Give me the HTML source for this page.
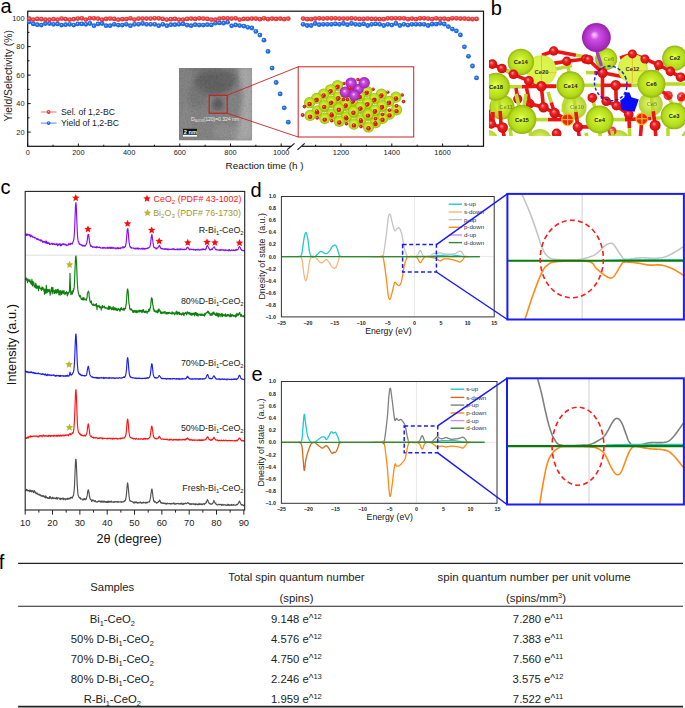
<!DOCTYPE html><html><head><meta charset="utf-8"><style>html,body{margin:0;padding:0;background:#fff;}svg{display:block;}text{font-family:"Liberation Sans", sans-serif;}</style></head><body>
<svg width="685" height="708" viewBox="0 0 685 708">
<rect width="685" height="708" fill="#fff"/>
<defs>
<radialGradient id="gR" cx="0.5" cy="0.5" r="0.5" fx="0.42" fy="0.38"><stop offset="0" stop-color="#ffd0d0"/><stop offset="0.35" stop-color="#f04848"/><stop offset="1" stop-color="#e02c30"/></radialGradient>
<radialGradient id="gB" cx="0.5" cy="0.5" r="0.5" fx="0.42" fy="0.38"><stop offset="0" stop-color="#d0e4ff"/><stop offset="0.35" stop-color="#2a78e8"/><stop offset="1" stop-color="#1660d8"/></radialGradient>
<radialGradient id="gCe" cx="0.5" cy="0.5" r="0.5" fx="0.47" fy="0.45"><stop offset="0" stop-color="#e8ff58"/><stop offset="0.35" stop-color="#c8ee2a"/><stop offset="0.8" stop-color="#b2d81a"/><stop offset="1" stop-color="#90b20c"/></radialGradient><radialGradient id="gCeB" cx="0.5" cy="0.5" r="0.5" fx="0.47" fy="0.45"><stop offset="0" stop-color="#ecff80"/><stop offset="0.5" stop-color="#cce850"/><stop offset="1" stop-color="#b0d030"/></radialGradient>
<radialGradient id="gCeP" cx="0.5" cy="0.5" r="0.5"><stop offset="0" stop-color="#e0f652"/><stop offset="0.9" stop-color="#d8f24a"/><stop offset="1" stop-color="#c8e83c"/></radialGradient>
<radialGradient id="gO" cx="0.5" cy="0.5" r="0.5" fx="0.38" fy="0.33"><stop offset="0" stop-color="#ffa0a0"/><stop offset="0.4" stop-color="#f02424"/><stop offset="1" stop-color="#cc0a0a"/></radialGradient>
<radialGradient id="gOl" cx="0.5" cy="0.5" r="0.5" fx="0.38" fy="0.33"><stop offset="0" stop-color="#ffc0c0"/><stop offset="0.4" stop-color="#f05050"/><stop offset="1" stop-color="#d83030"/></radialGradient>
<radialGradient id="gBi" cx="0.5" cy="0.5" r="0.5" fx="0.42" fy="0.4"><stop offset="0" stop-color="#ffe0ff"/><stop offset="0.3" stop-color="#d050e8"/><stop offset="1" stop-color="#9a20b0"/></radialGradient>
<radialGradient id="gTEM" cx="0.45" cy="0.35" r="0.6"><stop offset="0" stop-color="#5a5a5a"/><stop offset="0.5" stop-color="#6e6e6e"/><stop offset="1" stop-color="#888"/></radialGradient>
<filter id="noiseF" x="0" y="0" width="100%" height="100%"><feTurbulence type="fractalNoise" baseFrequency="0.55" numOctaves="2" seed="4"/><feColorMatrix type="matrix" values="1 0 0 0 0  1 0 0 0 0  1 0 0 0 0  0 0 0 0 1"/></filter>
<filter id="blur1"><feGaussianBlur stdDeviation="2.5"/></filter>
<filter id="blur2"><feGaussianBlur stdDeviation="1.2"/></filter>
<clipPath id="clipA"><rect x="27.7" y="11.2" width="455.8" height="135.1"/></clipPath>
<clipPath id="clipB"><rect x="489" y="40" width="196" height="96"/></clipPath>
<clipPath id="clipDz"><rect x="507.4" y="193.9" width="176.5" height="125.6"/></clipPath>
<clipPath id="clipEz"><rect x="507" y="378.3" width="176.9" height="126.2"/></clipPath>
<clipPath id="clipTEM"><rect x="178.9" y="67.9" width="73.2" height="72.5"/></clipPath>
</defs>
<text x="0.40" y="12.70" font-size="20" text-anchor="start" fill="#000" font-weight="normal" >a</text>
<rect x="27.7" y="11.2" width="455.8" height="135.10000000000002" fill="none" stroke="#111" stroke-width="1.2"/>
<rect x="291.3" y="144.8" width="10.6" height="3" fill="#fff"/>
<line x1="287.20" y1="149.70" x2="294.50" y2="143.30" stroke="#111" stroke-width="1.1" />
<line x1="297.40" y1="149.90" x2="304.70" y2="143.30" stroke="#111" stroke-width="1.1" />
<line x1="27.70" y1="132.10" x2="30.70" y2="132.10" stroke="#111" stroke-width="1" />
<line x1="27.70" y1="117.85" x2="29.50" y2="117.85" stroke="#111" stroke-width="1" />
<line x1="27.70" y1="103.60" x2="30.70" y2="103.60" stroke="#111" stroke-width="1" />
<line x1="27.70" y1="89.35" x2="29.50" y2="89.35" stroke="#111" stroke-width="1" />
<line x1="27.70" y1="75.10" x2="30.70" y2="75.10" stroke="#111" stroke-width="1" />
<line x1="27.70" y1="60.85" x2="29.50" y2="60.85" stroke="#111" stroke-width="1" />
<line x1="27.70" y1="46.60" x2="30.70" y2="46.60" stroke="#111" stroke-width="1" />
<line x1="27.70" y1="32.35" x2="29.50" y2="32.35" stroke="#111" stroke-width="1" />
<line x1="27.70" y1="18.10" x2="30.70" y2="18.10" stroke="#111" stroke-width="1" />
<text x="24.60" y="134.70" font-size="7.4" text-anchor="end" fill="#222" font-weight="normal" >20</text>
<text x="24.60" y="106.20" font-size="7.4" text-anchor="end" fill="#222" font-weight="normal" >40</text>
<text x="24.60" y="77.70" font-size="7.4" text-anchor="end" fill="#222" font-weight="normal" >60</text>
<text x="24.60" y="49.20" font-size="7.4" text-anchor="end" fill="#222" font-weight="normal" >80</text>
<text x="24.60" y="20.70" font-size="7.4" text-anchor="end" fill="#222" font-weight="normal" >100</text>
<line x1="27.70" y1="146.30" x2="27.70" y2="143.50" stroke="#111" stroke-width="1" />
<line x1="53.05" y1="146.30" x2="53.05" y2="144.70" stroke="#111" stroke-width="1" />
<line x1="78.40" y1="146.30" x2="78.40" y2="143.50" stroke="#111" stroke-width="1" />
<line x1="103.75" y1="146.30" x2="103.75" y2="144.70" stroke="#111" stroke-width="1" />
<line x1="129.10" y1="146.30" x2="129.10" y2="143.50" stroke="#111" stroke-width="1" />
<line x1="154.45" y1="146.30" x2="154.45" y2="144.70" stroke="#111" stroke-width="1" />
<line x1="179.80" y1="146.30" x2="179.80" y2="143.50" stroke="#111" stroke-width="1" />
<line x1="205.15" y1="146.30" x2="205.15" y2="144.70" stroke="#111" stroke-width="1" />
<line x1="230.50" y1="146.30" x2="230.50" y2="143.50" stroke="#111" stroke-width="1" />
<line x1="255.85" y1="146.30" x2="255.85" y2="144.70" stroke="#111" stroke-width="1" />
<line x1="281.20" y1="146.30" x2="281.20" y2="143.50" stroke="#111" stroke-width="1" />
<text x="27.70" y="155.40" font-size="7.4" text-anchor="middle" fill="#222" font-weight="normal" >0</text>
<text x="78.40" y="155.40" font-size="7.4" text-anchor="middle" fill="#222" font-weight="normal" >200</text>
<text x="129.10" y="155.40" font-size="7.4" text-anchor="middle" fill="#222" font-weight="normal" >400</text>
<text x="179.80" y="155.40" font-size="7.4" text-anchor="middle" fill="#222" font-weight="normal" >600</text>
<text x="230.50" y="155.40" font-size="7.4" text-anchor="middle" fill="#222" font-weight="normal" >800</text>
<text x="281.20" y="155.40" font-size="7.4" text-anchor="middle" fill="#222" font-weight="normal" >1000</text>
<line x1="315.60" y1="146.30" x2="315.60" y2="144.70" stroke="#111" stroke-width="1" />
<line x1="341.00" y1="146.30" x2="341.00" y2="143.50" stroke="#111" stroke-width="1" />
<line x1="366.40" y1="146.30" x2="366.40" y2="144.70" stroke="#111" stroke-width="1" />
<line x1="391.80" y1="146.30" x2="391.80" y2="143.50" stroke="#111" stroke-width="1" />
<line x1="417.20" y1="146.30" x2="417.20" y2="144.70" stroke="#111" stroke-width="1" />
<line x1="442.60" y1="146.30" x2="442.60" y2="143.50" stroke="#111" stroke-width="1" />
<line x1="468.00" y1="146.30" x2="468.00" y2="144.70" stroke="#111" stroke-width="1" />
<text x="341.00" y="155.40" font-size="7.4" text-anchor="middle" fill="#222" font-weight="normal" >1200</text>
<text x="391.80" y="155.40" font-size="7.4" text-anchor="middle" fill="#222" font-weight="normal" >1400</text>
<text x="442.60" y="155.40" font-size="7.4" text-anchor="middle" fill="#222" font-weight="normal" >1600</text>
<text x="225.60" y="168.80" font-size="9.9" text-anchor="start" fill="#111" font-weight="normal" xml:space="preserve">Reaction time (h )</text>
<text x="12.40" y="75.80" font-size="10.4" text-anchor="middle" fill="#222" font-weight="normal" transform="rotate(-90 12.4 75.8)">Yield/Selectivity (%)</text>
<line x1="40.80" y1="112.00" x2="56.60" y2="112.00" stroke="#f07070" stroke-width="1" />
<circle cx="48.6" cy="112" r="1.9" fill="url(#gR)"/>
<text x="61.00" y="114.90" font-size="8.7" text-anchor="start" fill="#222" font-weight="normal" >Sel. of 1,2-BC</text>
<line x1="40.80" y1="123.10" x2="56.60" y2="123.10" stroke="#4a8ae8" stroke-width="1" />
<circle cx="48.6" cy="123.1" r="1.9" fill="url(#gB)"/>
<text x="61.00" y="126.00" font-size="8.7" text-anchor="start" fill="#222" font-weight="normal" >Yield of 1,2-BC</text>
<circle cx="29.20" cy="21.90" r="2.4" fill="url(#gB)"/>
<circle cx="33.25" cy="23.90" r="2.4" fill="url(#gB)"/>
<circle cx="37.30" cy="24.70" r="2.4" fill="url(#gB)"/>
<circle cx="41.34" cy="25.10" r="2.4" fill="url(#gB)"/>
<circle cx="45.39" cy="23.50" r="2.4" fill="url(#gB)"/>
<circle cx="49.44" cy="23.50" r="2.4" fill="url(#gB)"/>
<circle cx="53.49" cy="24.30" r="2.4" fill="url(#gB)"/>
<circle cx="57.54" cy="23.90" r="2.4" fill="url(#gB)"/>
<circle cx="61.58" cy="25.10" r="2.4" fill="url(#gB)"/>
<circle cx="65.63" cy="24.70" r="2.4" fill="url(#gB)"/>
<circle cx="69.68" cy="24.30" r="2.4" fill="url(#gB)"/>
<circle cx="73.73" cy="25.10" r="2.4" fill="url(#gB)"/>
<circle cx="77.78" cy="23.90" r="2.4" fill="url(#gB)"/>
<circle cx="81.82" cy="23.90" r="2.4" fill="url(#gB)"/>
<circle cx="85.87" cy="24.30" r="2.4" fill="url(#gB)"/>
<circle cx="89.92" cy="23.50" r="2.4" fill="url(#gB)"/>
<circle cx="93.97" cy="25.70" r="2.4" fill="url(#gB)"/>
<circle cx="98.02" cy="23.90" r="2.4" fill="url(#gB)"/>
<circle cx="102.06" cy="23.50" r="2.4" fill="url(#gB)"/>
<circle cx="106.11" cy="25.70" r="2.4" fill="url(#gB)"/>
<circle cx="110.16" cy="25.70" r="2.4" fill="url(#gB)"/>
<circle cx="114.21" cy="24.30" r="2.4" fill="url(#gB)"/>
<circle cx="118.26" cy="25.10" r="2.4" fill="url(#gB)"/>
<circle cx="122.30" cy="25.10" r="2.4" fill="url(#gB)"/>
<circle cx="126.35" cy="24.30" r="2.4" fill="url(#gB)"/>
<circle cx="130.40" cy="25.70" r="2.4" fill="url(#gB)"/>
<circle cx="134.45" cy="24.30" r="2.4" fill="url(#gB)"/>
<circle cx="138.50" cy="24.30" r="2.4" fill="url(#gB)"/>
<circle cx="142.54" cy="23.50" r="2.4" fill="url(#gB)"/>
<circle cx="146.59" cy="24.30" r="2.4" fill="url(#gB)"/>
<circle cx="150.64" cy="24.30" r="2.4" fill="url(#gB)"/>
<circle cx="154.69" cy="24.30" r="2.4" fill="url(#gB)"/>
<circle cx="158.74" cy="25.70" r="2.4" fill="url(#gB)"/>
<circle cx="162.78" cy="24.30" r="2.4" fill="url(#gB)"/>
<circle cx="166.83" cy="25.70" r="2.4" fill="url(#gB)"/>
<circle cx="170.88" cy="24.70" r="2.4" fill="url(#gB)"/>
<circle cx="174.93" cy="24.70" r="2.4" fill="url(#gB)"/>
<circle cx="178.98" cy="24.30" r="2.4" fill="url(#gB)"/>
<circle cx="183.02" cy="23.90" r="2.4" fill="url(#gB)"/>
<circle cx="187.07" cy="25.10" r="2.4" fill="url(#gB)"/>
<circle cx="191.12" cy="25.70" r="2.4" fill="url(#gB)"/>
<circle cx="195.17" cy="24.70" r="2.4" fill="url(#gB)"/>
<circle cx="199.22" cy="25.10" r="2.4" fill="url(#gB)"/>
<circle cx="203.26" cy="25.10" r="2.4" fill="url(#gB)"/>
<circle cx="207.31" cy="24.70" r="2.4" fill="url(#gB)"/>
<circle cx="211.36" cy="24.90" r="2.4" fill="url(#gB)"/>
<circle cx="215.41" cy="23.20" r="2.4" fill="url(#gB)"/>
<circle cx="219.46" cy="22.90" r="2.4" fill="url(#gB)"/>
<circle cx="223.50" cy="23.20" r="2.4" fill="url(#gB)"/>
<circle cx="227.55" cy="22.20" r="2.4" fill="url(#gB)"/>
<circle cx="231.60" cy="25.80" r="2.4" fill="url(#gB)"/>
<circle cx="235.65" cy="24.90" r="2.4" fill="url(#gB)"/>
<circle cx="239.70" cy="25.60" r="2.4" fill="url(#gB)"/>
<circle cx="243.74" cy="26.10" r="2.4" fill="url(#gB)"/>
<circle cx="247.79" cy="27.30" r="2.4" fill="url(#gB)"/>
<circle cx="251.84" cy="28.00" r="2.4" fill="url(#gB)"/>
<circle cx="255.89" cy="31.40" r="2.4" fill="url(#gB)"/>
<circle cx="259.94" cy="35.10" r="2.4" fill="url(#gB)"/>
<circle cx="263.98" cy="40.20" r="2.4" fill="url(#gB)"/>
<circle cx="268.03" cy="51.40" r="2.4" fill="url(#gB)"/>
<circle cx="272.08" cy="68.10" r="2.4" fill="url(#gB)"/>
<circle cx="276.13" cy="82.50" r="2.4" fill="url(#gB)"/>
<circle cx="280.18" cy="93.90" r="2.4" fill="url(#gB)"/>
<circle cx="284.22" cy="107.80" r="2.4" fill="url(#gB)"/>
<circle cx="288.27" cy="122.20" r="2.4" fill="url(#gB)"/>
<circle cx="303.10" cy="24.30" r="2.4" fill="url(#gB)"/>
<circle cx="307.13" cy="25.50" r="2.4" fill="url(#gB)"/>
<circle cx="311.17" cy="25.50" r="2.4" fill="url(#gB)"/>
<circle cx="315.20" cy="23.50" r="2.4" fill="url(#gB)"/>
<circle cx="319.23" cy="24.70" r="2.4" fill="url(#gB)"/>
<circle cx="323.27" cy="24.30" r="2.4" fill="url(#gB)"/>
<circle cx="327.30" cy="24.30" r="2.4" fill="url(#gB)"/>
<circle cx="331.33" cy="24.30" r="2.4" fill="url(#gB)"/>
<circle cx="335.36" cy="23.90" r="2.4" fill="url(#gB)"/>
<circle cx="339.40" cy="24.30" r="2.4" fill="url(#gB)"/>
<circle cx="343.43" cy="23.50" r="2.4" fill="url(#gB)"/>
<circle cx="347.46" cy="24.70" r="2.4" fill="url(#gB)"/>
<circle cx="351.50" cy="23.50" r="2.4" fill="url(#gB)"/>
<circle cx="355.53" cy="24.30" r="2.4" fill="url(#gB)"/>
<circle cx="359.56" cy="24.70" r="2.4" fill="url(#gB)"/>
<circle cx="363.60" cy="23.90" r="2.4" fill="url(#gB)"/>
<circle cx="367.63" cy="25.50" r="2.4" fill="url(#gB)"/>
<circle cx="371.66" cy="24.30" r="2.4" fill="url(#gB)"/>
<circle cx="375.69" cy="23.90" r="2.4" fill="url(#gB)"/>
<circle cx="379.73" cy="24.30" r="2.4" fill="url(#gB)"/>
<circle cx="383.76" cy="25.50" r="2.4" fill="url(#gB)"/>
<circle cx="387.79" cy="24.30" r="2.4" fill="url(#gB)"/>
<circle cx="391.83" cy="25.10" r="2.4" fill="url(#gB)"/>
<circle cx="395.86" cy="23.50" r="2.4" fill="url(#gB)"/>
<circle cx="399.89" cy="25.50" r="2.4" fill="url(#gB)"/>
<circle cx="403.93" cy="24.30" r="2.4" fill="url(#gB)"/>
<circle cx="407.96" cy="25.10" r="2.4" fill="url(#gB)"/>
<circle cx="411.99" cy="24.30" r="2.4" fill="url(#gB)"/>
<circle cx="416.02" cy="24.30" r="2.4" fill="url(#gB)"/>
<circle cx="420.06" cy="24.30" r="2.4" fill="url(#gB)"/>
<circle cx="424.09" cy="24.30" r="2.4" fill="url(#gB)"/>
<circle cx="428.12" cy="25.50" r="2.4" fill="url(#gB)"/>
<circle cx="432.16" cy="24.20" r="2.4" fill="url(#gB)"/>
<circle cx="436.19" cy="24.20" r="2.4" fill="url(#gB)"/>
<circle cx="440.22" cy="23.30" r="2.4" fill="url(#gB)"/>
<circle cx="444.25" cy="24.00" r="2.4" fill="url(#gB)"/>
<circle cx="448.29" cy="26.60" r="2.4" fill="url(#gB)"/>
<circle cx="452.32" cy="29.10" r="2.4" fill="url(#gB)"/>
<circle cx="456.35" cy="30.90" r="2.4" fill="url(#gB)"/>
<circle cx="460.39" cy="34.90" r="2.4" fill="url(#gB)"/>
<circle cx="464.42" cy="46.80" r="2.4" fill="url(#gB)"/>
<circle cx="468.45" cy="56.30" r="2.4" fill="url(#gB)"/>
<circle cx="472.49" cy="66.00" r="2.4" fill="url(#gB)"/>
<circle cx="476.52" cy="77.90" r="2.4" fill="url(#gB)"/>
<circle cx="29.20" cy="18.60" r="2.4" fill="url(#gR)"/>
<circle cx="33.25" cy="19.60" r="2.4" fill="url(#gR)"/>
<circle cx="37.30" cy="18.90" r="2.4" fill="url(#gR)"/>
<circle cx="41.34" cy="19.20" r="2.4" fill="url(#gR)"/>
<circle cx="45.39" cy="19.60" r="2.4" fill="url(#gR)"/>
<circle cx="49.44" cy="19.60" r="2.4" fill="url(#gR)"/>
<circle cx="53.49" cy="19.20" r="2.4" fill="url(#gR)"/>
<circle cx="57.54" cy="19.60" r="2.4" fill="url(#gR)"/>
<circle cx="61.58" cy="18.60" r="2.4" fill="url(#gR)"/>
<circle cx="65.63" cy="19.20" r="2.4" fill="url(#gR)"/>
<circle cx="69.68" cy="19.60" r="2.4" fill="url(#gR)"/>
<circle cx="73.73" cy="19.20" r="2.4" fill="url(#gR)"/>
<circle cx="77.78" cy="18.60" r="2.4" fill="url(#gR)"/>
<circle cx="81.82" cy="18.30" r="2.4" fill="url(#gR)"/>
<circle cx="85.87" cy="19.60" r="2.4" fill="url(#gR)"/>
<circle cx="89.92" cy="18.30" r="2.4" fill="url(#gR)"/>
<circle cx="93.97" cy="18.30" r="2.4" fill="url(#gR)"/>
<circle cx="98.02" cy="18.60" r="2.4" fill="url(#gR)"/>
<circle cx="102.06" cy="19.60" r="2.4" fill="url(#gR)"/>
<circle cx="106.11" cy="18.90" r="2.4" fill="url(#gR)"/>
<circle cx="110.16" cy="18.60" r="2.4" fill="url(#gR)"/>
<circle cx="114.21" cy="18.90" r="2.4" fill="url(#gR)"/>
<circle cx="118.26" cy="19.60" r="2.4" fill="url(#gR)"/>
<circle cx="122.30" cy="19.20" r="2.4" fill="url(#gR)"/>
<circle cx="126.35" cy="19.20" r="2.4" fill="url(#gR)"/>
<circle cx="130.40" cy="18.30" r="2.4" fill="url(#gR)"/>
<circle cx="134.45" cy="19.60" r="2.4" fill="url(#gR)"/>
<circle cx="138.50" cy="18.60" r="2.4" fill="url(#gR)"/>
<circle cx="142.54" cy="18.60" r="2.4" fill="url(#gR)"/>
<circle cx="146.59" cy="18.60" r="2.4" fill="url(#gR)"/>
<circle cx="150.64" cy="18.60" r="2.4" fill="url(#gR)"/>
<circle cx="154.69" cy="18.30" r="2.4" fill="url(#gR)"/>
<circle cx="158.74" cy="18.30" r="2.4" fill="url(#gR)"/>
<circle cx="162.78" cy="18.90" r="2.4" fill="url(#gR)"/>
<circle cx="166.83" cy="19.60" r="2.4" fill="url(#gR)"/>
<circle cx="170.88" cy="19.20" r="2.4" fill="url(#gR)"/>
<circle cx="174.93" cy="18.90" r="2.4" fill="url(#gR)"/>
<circle cx="178.98" cy="19.60" r="2.4" fill="url(#gR)"/>
<circle cx="183.02" cy="19.60" r="2.4" fill="url(#gR)"/>
<circle cx="187.07" cy="18.90" r="2.4" fill="url(#gR)"/>
<circle cx="191.12" cy="18.60" r="2.4" fill="url(#gR)"/>
<circle cx="195.17" cy="18.90" r="2.4" fill="url(#gR)"/>
<circle cx="199.22" cy="18.30" r="2.4" fill="url(#gR)"/>
<circle cx="203.26" cy="18.60" r="2.4" fill="url(#gR)"/>
<circle cx="207.31" cy="18.90" r="2.4" fill="url(#gR)"/>
<circle cx="211.36" cy="19.60" r="2.4" fill="url(#gR)"/>
<circle cx="215.41" cy="19.60" r="2.4" fill="url(#gR)"/>
<circle cx="219.46" cy="18.60" r="2.4" fill="url(#gR)"/>
<circle cx="223.50" cy="18.30" r="2.4" fill="url(#gR)"/>
<circle cx="227.55" cy="18.30" r="2.4" fill="url(#gR)"/>
<circle cx="231.60" cy="18.60" r="2.4" fill="url(#gR)"/>
<circle cx="235.65" cy="18.30" r="2.4" fill="url(#gR)"/>
<circle cx="239.70" cy="19.60" r="2.4" fill="url(#gR)"/>
<circle cx="243.74" cy="18.90" r="2.4" fill="url(#gR)"/>
<circle cx="247.79" cy="18.90" r="2.4" fill="url(#gR)"/>
<circle cx="251.84" cy="18.60" r="2.4" fill="url(#gR)"/>
<circle cx="255.89" cy="18.60" r="2.4" fill="url(#gR)"/>
<circle cx="259.94" cy="19.20" r="2.4" fill="url(#gR)"/>
<circle cx="263.98" cy="18.30" r="2.4" fill="url(#gR)"/>
<circle cx="268.03" cy="19.20" r="2.4" fill="url(#gR)"/>
<circle cx="272.08" cy="18.60" r="2.4" fill="url(#gR)"/>
<circle cx="276.13" cy="18.90" r="2.4" fill="url(#gR)"/>
<circle cx="280.18" cy="18.60" r="2.4" fill="url(#gR)"/>
<circle cx="284.22" cy="19.20" r="2.4" fill="url(#gR)"/>
<circle cx="288.27" cy="18.60" r="2.4" fill="url(#gR)"/>
<circle cx="303.10" cy="18.60" r="2.4" fill="url(#gR)"/>
<circle cx="307.13" cy="19.20" r="2.4" fill="url(#gR)"/>
<circle cx="311.17" cy="19.20" r="2.4" fill="url(#gR)"/>
<circle cx="315.20" cy="18.60" r="2.4" fill="url(#gR)"/>
<circle cx="319.23" cy="18.30" r="2.4" fill="url(#gR)"/>
<circle cx="323.27" cy="18.60" r="2.4" fill="url(#gR)"/>
<circle cx="327.30" cy="18.30" r="2.4" fill="url(#gR)"/>
<circle cx="331.33" cy="18.30" r="2.4" fill="url(#gR)"/>
<circle cx="335.36" cy="18.30" r="2.4" fill="url(#gR)"/>
<circle cx="339.40" cy="18.60" r="2.4" fill="url(#gR)"/>
<circle cx="343.43" cy="18.60" r="2.4" fill="url(#gR)"/>
<circle cx="347.46" cy="18.60" r="2.4" fill="url(#gR)"/>
<circle cx="351.50" cy="18.30" r="2.4" fill="url(#gR)"/>
<circle cx="355.53" cy="18.60" r="2.4" fill="url(#gR)"/>
<circle cx="359.56" cy="18.90" r="2.4" fill="url(#gR)"/>
<circle cx="363.60" cy="18.90" r="2.4" fill="url(#gR)"/>
<circle cx="367.63" cy="18.60" r="2.4" fill="url(#gR)"/>
<circle cx="371.66" cy="18.90" r="2.4" fill="url(#gR)"/>
<circle cx="375.69" cy="18.90" r="2.4" fill="url(#gR)"/>
<circle cx="379.73" cy="19.20" r="2.4" fill="url(#gR)"/>
<circle cx="383.76" cy="19.20" r="2.4" fill="url(#gR)"/>
<circle cx="387.79" cy="18.30" r="2.4" fill="url(#gR)"/>
<circle cx="391.83" cy="18.30" r="2.4" fill="url(#gR)"/>
<circle cx="395.86" cy="18.30" r="2.4" fill="url(#gR)"/>
<circle cx="399.89" cy="18.30" r="2.4" fill="url(#gR)"/>
<circle cx="403.93" cy="18.30" r="2.4" fill="url(#gR)"/>
<circle cx="407.96" cy="19.20" r="2.4" fill="url(#gR)"/>
<circle cx="411.99" cy="18.60" r="2.4" fill="url(#gR)"/>
<circle cx="416.02" cy="19.20" r="2.4" fill="url(#gR)"/>
<circle cx="420.06" cy="18.30" r="2.4" fill="url(#gR)"/>
<circle cx="424.09" cy="18.30" r="2.4" fill="url(#gR)"/>
<circle cx="428.12" cy="18.60" r="2.4" fill="url(#gR)"/>
<circle cx="432.16" cy="19.20" r="2.4" fill="url(#gR)"/>
<circle cx="436.19" cy="18.30" r="2.4" fill="url(#gR)"/>
<circle cx="440.22" cy="18.90" r="2.4" fill="url(#gR)"/>
<circle cx="444.25" cy="18.60" r="2.4" fill="url(#gR)"/>
<circle cx="448.29" cy="19.20" r="2.4" fill="url(#gR)"/>
<circle cx="452.32" cy="18.30" r="2.4" fill="url(#gR)"/>
<circle cx="456.35" cy="18.30" r="2.4" fill="url(#gR)"/>
<circle cx="460.39" cy="18.60" r="2.4" fill="url(#gR)"/>
<circle cx="464.42" cy="18.60" r="2.4" fill="url(#gR)"/>
<circle cx="468.45" cy="18.90" r="2.4" fill="url(#gR)"/>
<circle cx="472.49" cy="19.20" r="2.4" fill="url(#gR)"/>
<circle cx="476.52" cy="18.90" r="2.4" fill="url(#gR)"/>
<g clip-path="url(#clipTEM)">
<rect x="178.9" y="67.9" width="73.2" height="72.5" fill="#777"/>
<polygon points="238,67 253,67 253,141 233,141 240,118 243,95" fill="#a2a2a2" filter="url(#blur1)"/>
<ellipse cx="214" cy="82" rx="20" ry="13" fill="#4c4c4c" opacity="0.85" filter="url(#blur1)"/>
<ellipse cx="228" cy="78" rx="9" ry="8" fill="#575757" opacity="0.7" filter="url(#blur1)"/>
<ellipse cx="198" cy="96" rx="10" ry="12" fill="#626262" opacity="0.55" filter="url(#blur1)"/>
<ellipse cx="218" cy="104" rx="5.5" ry="6" fill="#404040" opacity="0.85" filter="url(#blur1)"/>
<ellipse cx="226" cy="132" rx="14" ry="8" fill="#8e8e8e" opacity="0.6" filter="url(#blur1)"/>
<ellipse cx="186" cy="120" rx="7" ry="16" fill="#848484" opacity="0.5" filter="url(#blur1)"/>
<ellipse cx="206" cy="70" rx="16" ry="4" fill="#5e5e5e" opacity="0.6" filter="url(#blur1)"/>
<rect x="178.9" y="67.9" width="73.2" height="72.5" filter="url(#noiseF)" opacity="0.14"/>
</g>
<rect x="209.2" y="95.3" width="18" height="17.9" fill="none" stroke="#cc1c1c" stroke-width="1.2"/>
<text x="191" y="120.6" font-size="5.0" fill="#ececec">D<tspan font-size="3.2" dy="1">Bi2O3</tspan><tspan dy="-1">(120)=0.324 nm</tspan></text>
<rect x="183" y="128.8" width="14" height="5.6" fill="#111"/>
<text x="183.8" y="133.6" font-size="5.6" fill="#fff" font-weight="bold">2 nm</text>
<rect x="183" y="135" width="14" height="1.6" fill="#fff"/>
<line x1="227.20" y1="95.30" x2="298.20" y2="66.80" stroke="#cc2020" stroke-width="0.9" />
<line x1="227.20" y1="113.20" x2="298.20" y2="137.00" stroke="#cc2020" stroke-width="0.9" />
<rect x="298.2" y="66.8" width="115.5" height="70.2" fill="#fff" stroke="#cc2020" stroke-width="1"/>
<circle cx="338.10" cy="98.20" r="5.6" fill="url(#gCe)"/>
<circle cx="338.10" cy="99.50" r="2.2" fill="url(#gO)"/>
<circle cx="352.70" cy="101.10" r="5.6" fill="url(#gCe)"/>
<circle cx="352.70" cy="102.40" r="2.2" fill="url(#gO)"/>
<circle cx="367.30" cy="104.00" r="5.6" fill="url(#gCe)"/>
<circle cx="367.30" cy="105.30" r="2.2" fill="url(#gO)"/>
<circle cx="381.90" cy="106.90" r="5.6" fill="url(#gCe)"/>
<circle cx="381.90" cy="108.20" r="2.2" fill="url(#gO)"/>
<circle cx="396.50" cy="109.80" r="5.6" fill="url(#gCe)"/>
<circle cx="396.50" cy="111.10" r="2.2" fill="url(#gO)"/>
<circle cx="331.10" cy="102.50" r="5.6" fill="url(#gCe)"/>
<circle cx="331.10" cy="103.80" r="2.2" fill="url(#gO)"/>
<circle cx="345.70" cy="105.40" r="5.6" fill="url(#gCe)"/>
<circle cx="345.70" cy="106.70" r="2.2" fill="url(#gO)"/>
<circle cx="360.30" cy="108.30" r="5.6" fill="url(#gCe)"/>
<circle cx="360.30" cy="109.60" r="2.2" fill="url(#gO)"/>
<circle cx="374.90" cy="111.20" r="5.6" fill="url(#gCe)"/>
<circle cx="374.90" cy="112.50" r="2.2" fill="url(#gO)"/>
<circle cx="389.50" cy="114.10" r="5.6" fill="url(#gCe)"/>
<circle cx="389.50" cy="115.40" r="2.2" fill="url(#gO)"/>
<circle cx="324.10" cy="106.80" r="5.6" fill="url(#gCe)"/>
<circle cx="324.10" cy="108.10" r="2.2" fill="url(#gO)"/>
<circle cx="338.70" cy="109.70" r="5.6" fill="url(#gCe)"/>
<circle cx="338.70" cy="111.00" r="2.2" fill="url(#gO)"/>
<circle cx="353.30" cy="112.60" r="5.6" fill="url(#gCe)"/>
<circle cx="353.30" cy="113.90" r="2.2" fill="url(#gO)"/>
<circle cx="367.90" cy="115.50" r="5.6" fill="url(#gCe)"/>
<circle cx="367.90" cy="116.80" r="2.2" fill="url(#gO)"/>
<circle cx="382.50" cy="118.40" r="5.6" fill="url(#gCe)"/>
<circle cx="382.50" cy="119.70" r="2.2" fill="url(#gO)"/>
<circle cx="317.10" cy="111.10" r="5.6" fill="url(#gCe)"/>
<circle cx="317.10" cy="112.40" r="2.2" fill="url(#gO)"/>
<circle cx="331.70" cy="114.00" r="5.6" fill="url(#gCe)"/>
<circle cx="331.70" cy="115.30" r="2.2" fill="url(#gO)"/>
<circle cx="346.30" cy="116.90" r="5.6" fill="url(#gCe)"/>
<circle cx="346.30" cy="118.20" r="2.2" fill="url(#gO)"/>
<circle cx="360.90" cy="119.80" r="5.6" fill="url(#gCe)"/>
<circle cx="360.90" cy="121.10" r="2.2" fill="url(#gO)"/>
<circle cx="375.50" cy="122.70" r="5.6" fill="url(#gCe)"/>
<circle cx="375.50" cy="124.00" r="2.2" fill="url(#gO)"/>
<circle cx="310.10" cy="115.40" r="5.6" fill="url(#gCe)"/>
<circle cx="310.10" cy="116.70" r="2.2" fill="url(#gO)"/>
<circle cx="324.70" cy="118.30" r="5.6" fill="url(#gCe)"/>
<circle cx="324.70" cy="119.60" r="2.2" fill="url(#gO)"/>
<circle cx="339.30" cy="121.20" r="5.6" fill="url(#gCe)"/>
<circle cx="339.30" cy="122.50" r="2.2" fill="url(#gO)"/>
<circle cx="353.90" cy="124.10" r="5.6" fill="url(#gCe)"/>
<circle cx="353.90" cy="125.40" r="2.2" fill="url(#gO)"/>
<circle cx="368.50" cy="127.00" r="5.6" fill="url(#gCe)"/>
<circle cx="368.50" cy="128.30" r="2.2" fill="url(#gO)"/>
<circle cx="302.60" cy="115.00" r="1.8" fill="url(#gO)"/>
<circle cx="316.90" cy="111.15" r="1.8" fill="url(#gO)"/>
<circle cx="317.20" cy="117.90" r="1.8" fill="url(#gO)"/>
<circle cx="331.50" cy="114.05" r="1.8" fill="url(#gO)"/>
<circle cx="331.80" cy="120.80" r="1.8" fill="url(#gO)"/>
<circle cx="346.10" cy="116.95" r="1.8" fill="url(#gO)"/>
<circle cx="346.40" cy="123.70" r="1.8" fill="url(#gO)"/>
<circle cx="360.70" cy="119.85" r="1.8" fill="url(#gO)"/>
<circle cx="361.00" cy="126.60" r="1.8" fill="url(#gO)"/>
<circle cx="375.30" cy="122.75" r="1.8" fill="url(#gO)"/>
<circle cx="375.50" cy="118.80" r="1.8" fill="url(#gO)"/>
<circle cx="382.50" cy="114.50" r="1.8" fill="url(#gO)"/>
<circle cx="389.50" cy="110.20" r="1.8" fill="url(#gO)"/>
<circle cx="396.50" cy="105.90" r="1.8" fill="url(#gO)"/>
<circle cx="403.50" cy="101.60" r="1.8" fill="url(#gO)"/>
<circle cx="343.90" cy="83.45" r="1.7" fill="url(#gO)"/>
<circle cx="337.60" cy="85.50" r="5.6" fill="url(#gCe)"/>
<circle cx="337.60" cy="86.80" r="2.2" fill="url(#gO)"/>
<circle cx="358.50" cy="86.35" r="1.7" fill="url(#gO)"/>
<circle cx="352.20" cy="88.40" r="5.6" fill="url(#gCe)"/>
<circle cx="352.20" cy="89.70" r="2.2" fill="url(#gO)"/>
<circle cx="373.10" cy="89.25" r="1.7" fill="url(#gO)"/>
<circle cx="366.80" cy="91.30" r="5.6" fill="url(#gCe)"/>
<circle cx="366.80" cy="92.60" r="2.2" fill="url(#gO)"/>
<circle cx="387.70" cy="92.15" r="1.7" fill="url(#gO)"/>
<circle cx="381.40" cy="94.20" r="5.6" fill="url(#gCe)"/>
<circle cx="381.40" cy="95.50" r="2.2" fill="url(#gO)"/>
<circle cx="402.30" cy="95.05" r="1.7" fill="url(#gO)"/>
<circle cx="396.00" cy="97.10" r="5.6" fill="url(#gCe)"/>
<circle cx="396.00" cy="98.40" r="2.2" fill="url(#gO)"/>
<circle cx="336.90" cy="87.75" r="1.7" fill="url(#gO)"/>
<circle cx="330.60" cy="89.80" r="5.6" fill="url(#gCe)"/>
<circle cx="330.60" cy="91.10" r="2.2" fill="url(#gO)"/>
<circle cx="351.50" cy="90.65" r="1.7" fill="url(#gO)"/>
<circle cx="345.20" cy="92.70" r="5.6" fill="url(#gCe)"/>
<circle cx="345.20" cy="94.00" r="2.2" fill="url(#gO)"/>
<circle cx="366.10" cy="93.55" r="1.7" fill="url(#gO)"/>
<circle cx="359.80" cy="95.60" r="5.6" fill="url(#gCe)"/>
<circle cx="359.80" cy="96.90" r="2.2" fill="url(#gO)"/>
<circle cx="380.70" cy="96.45" r="1.7" fill="url(#gO)"/>
<circle cx="374.40" cy="98.50" r="5.6" fill="url(#gCe)"/>
<circle cx="374.40" cy="99.80" r="2.2" fill="url(#gO)"/>
<circle cx="395.30" cy="99.35" r="1.7" fill="url(#gO)"/>
<circle cx="389.00" cy="101.40" r="5.6" fill="url(#gCe)"/>
<circle cx="389.00" cy="102.70" r="2.2" fill="url(#gO)"/>
<circle cx="329.90" cy="92.05" r="1.7" fill="url(#gO)"/>
<circle cx="323.60" cy="94.10" r="5.6" fill="url(#gCe)"/>
<circle cx="323.60" cy="95.40" r="2.2" fill="url(#gO)"/>
<circle cx="344.50" cy="94.95" r="1.7" fill="url(#gO)"/>
<circle cx="338.20" cy="97.00" r="5.6" fill="url(#gCe)"/>
<circle cx="338.20" cy="98.30" r="2.2" fill="url(#gO)"/>
<circle cx="359.10" cy="97.85" r="1.7" fill="url(#gO)"/>
<circle cx="352.80" cy="99.90" r="5.6" fill="url(#gCe)"/>
<circle cx="352.80" cy="101.20" r="2.2" fill="url(#gO)"/>
<circle cx="373.70" cy="100.75" r="1.7" fill="url(#gO)"/>
<circle cx="367.40" cy="102.80" r="5.6" fill="url(#gCe)"/>
<circle cx="367.40" cy="104.10" r="2.2" fill="url(#gO)"/>
<circle cx="388.30" cy="103.65" r="1.7" fill="url(#gO)"/>
<circle cx="382.00" cy="105.70" r="5.6" fill="url(#gCe)"/>
<circle cx="382.00" cy="107.00" r="2.2" fill="url(#gO)"/>
<circle cx="322.90" cy="96.35" r="1.7" fill="url(#gO)"/>
<circle cx="316.60" cy="98.40" r="5.6" fill="url(#gCe)"/>
<circle cx="316.60" cy="99.70" r="2.2" fill="url(#gO)"/>
<circle cx="337.50" cy="99.25" r="1.7" fill="url(#gO)"/>
<circle cx="331.20" cy="101.30" r="5.6" fill="url(#gCe)"/>
<circle cx="331.20" cy="102.60" r="2.2" fill="url(#gO)"/>
<circle cx="352.10" cy="102.15" r="1.7" fill="url(#gO)"/>
<circle cx="345.80" cy="104.20" r="5.6" fill="url(#gCe)"/>
<circle cx="345.80" cy="105.50" r="2.2" fill="url(#gO)"/>
<circle cx="366.70" cy="105.05" r="1.7" fill="url(#gO)"/>
<circle cx="360.40" cy="107.10" r="5.6" fill="url(#gCe)"/>
<circle cx="360.40" cy="108.40" r="2.2" fill="url(#gO)"/>
<circle cx="381.30" cy="107.95" r="1.7" fill="url(#gO)"/>
<circle cx="375.00" cy="110.00" r="5.6" fill="url(#gCe)"/>
<circle cx="375.00" cy="111.30" r="2.2" fill="url(#gO)"/>
<circle cx="315.90" cy="100.65" r="1.7" fill="url(#gO)"/>
<circle cx="309.60" cy="102.70" r="5.6" fill="url(#gCe)"/>
<circle cx="309.60" cy="104.00" r="2.2" fill="url(#gO)"/>
<circle cx="330.50" cy="103.55" r="1.7" fill="url(#gO)"/>
<circle cx="324.20" cy="105.60" r="5.6" fill="url(#gCe)"/>
<circle cx="324.20" cy="106.90" r="2.2" fill="url(#gO)"/>
<circle cx="345.10" cy="106.45" r="1.7" fill="url(#gO)"/>
<circle cx="338.80" cy="108.50" r="5.6" fill="url(#gCe)"/>
<circle cx="338.80" cy="109.80" r="2.2" fill="url(#gO)"/>
<circle cx="359.70" cy="109.35" r="1.7" fill="url(#gO)"/>
<circle cx="353.40" cy="111.40" r="5.6" fill="url(#gCe)"/>
<circle cx="353.40" cy="112.70" r="2.2" fill="url(#gO)"/>
<circle cx="374.30" cy="112.25" r="1.7" fill="url(#gO)"/>
<circle cx="368.00" cy="114.30" r="5.6" fill="url(#gCe)"/>
<circle cx="368.00" cy="115.60" r="2.2" fill="url(#gO)"/>
<circle cx="302.6" cy="115" r="1.8" fill="url(#gO)"/>
<circle cx="304.4" cy="106.6" r="1.8" fill="url(#gO)"/>
<circle cx="358.5" cy="89" r="5.2" fill="url(#gBi)"/>
<circle cx="351.1" cy="83.1" r="5.7" fill="url(#gBi)"/>
<circle cx="364.2" cy="82.8" r="5.7" fill="url(#gBi)"/>
<circle cx="345.4" cy="92.1" r="5.7" fill="url(#gBi)"/>
<circle cx="354.4" cy="95.3" r="5.7" fill="url(#gBi)"/>
<circle cx="358" cy="79.5" r="1.7" fill="url(#gO)"/>
<circle cx="349.5" cy="88.2" r="1.7" fill="url(#gO)"/>
<circle cx="343.5" cy="99.5" r="1.7" fill="url(#gO)"/>
<circle cx="347.5" cy="99.5" r="1.7" fill="url(#gO)"/>
<text x="490.70" y="14.50" font-size="20" text-anchor="start" fill="#000" font-weight="normal" >b</text>
<g clip-path="url(#clipB)">
<circle cx="502" cy="107.2" r="12.5" fill="url(#gCe)"/>
<circle cx="574.1" cy="107.2" r="12.5" fill="url(#gCeB)"/>
<circle cx="650.7" cy="104.2" r="12" fill="url(#gCeB)"/>
<circle cx="606.2" cy="59" r="11" fill="url(#gCe)"/>
<circle cx="540" cy="141" r="12" fill="url(#gCeB)"/>
<circle cx="618" cy="142" r="12" fill="url(#gCeB)"/>
<circle cx="693" cy="140" r="12" fill="url(#gCeB)"/>
<circle cx="488" cy="140" r="10" fill="url(#gCeB)"/>
<circle cx="517.8" cy="99" r="4.6" fill="url(#gO)"/>
<circle cx="530" cy="103.7" r="4.6" fill="url(#gO)"/>
<circle cx="592.3" cy="97.7" r="4.8" fill="url(#gO)"/>
<circle cx="668.2" cy="95.5" r="4.6" fill="url(#gOl)"/>
<circle cx="681.4" cy="96.9" r="4.6" fill="url(#gOl)"/>
<circle cx="612" cy="131" r="4.5" fill="url(#gOl)"/>
<line x1="486" y1="60" x2="492.4" y2="64.1" stroke="#ec1414" stroke-width="3.6"/>
<line x1="492.4" y1="64.1" x2="501.9" y2="68.5" stroke="#ec1414" stroke-width="3.6"/>
<line x1="501.9" y1="68.5" x2="513.5" y2="74.3" stroke="#ec1414" stroke-width="3.6"/>
<line x1="513.5" y1="74.3" x2="528.9" y2="80.9" stroke="#ec1414" stroke-width="3.6"/>
<line x1="528.9" y1="80.9" x2="541.3" y2="86.3" stroke="#ec1414" stroke-width="3.6"/>
<line x1="496" y1="86.8" x2="521.9" y2="86.8" stroke="#b8dc28" stroke-width="3.6"/>
<line x1="521.9" y1="86.8" x2="541.3" y2="86.3" stroke="#ec1414" stroke-width="3.6"/>
<line x1="541.3" y1="86.3" x2="556" y2="86.3" stroke="#ec1414" stroke-width="3.6"/>
<line x1="556" y1="86.3" x2="570.5" y2="86" stroke="#b8dc28" stroke-width="3.6"/>
<line x1="542" y1="55.3" x2="553.7" y2="51" stroke="#ec1414" stroke-width="3.6"/>
<line x1="553.7" y1="51" x2="576" y2="55.3" stroke="#ec1414" stroke-width="3.6"/>
<line x1="576" y1="55.3" x2="588" y2="57.5" stroke="#b8dc28" stroke-width="3.6"/>
<line x1="553.7" y1="63.4" x2="566.8" y2="61.2" stroke="#ec1414" stroke-width="3.6"/>
<line x1="566.8" y1="61.2" x2="585.8" y2="59" stroke="#ec1414" stroke-width="3.6"/>
<line x1="566.8" y1="61.2" x2="567.9" y2="66.6" stroke="#ec1414" stroke-width="3.6"/>
<line x1="567.9" y1="66.6" x2="569" y2="72" stroke="#b8dc28" stroke-width="3.6"/>
<line x1="556" y1="69" x2="572" y2="65.5" stroke="#b8dc28" stroke-width="3.6"/>
<line x1="506" y1="71" x2="520" y2="72" stroke="#b8dc28" stroke-width="3.6"/>
<line x1="492.7" y1="98" x2="492.9" y2="112.0" stroke="#b8dc28" stroke-width="3.6"/>
<line x1="492.9" y1="112.0" x2="493" y2="126" stroke="#ec1414" stroke-width="3.6"/>
<line x1="499.1" y1="98" x2="500.1" y2="111.0" stroke="#b8dc28" stroke-width="3.6"/>
<line x1="500.1" y1="111.0" x2="501" y2="124" stroke="#ec1414" stroke-width="3.6"/>
<line x1="516" y1="88" x2="517.8" y2="99" stroke="#ec1414" stroke-width="3.6"/>
<line x1="526.5" y1="88" x2="530" y2="103.7" stroke="#ec1414" stroke-width="3.6"/>
<line x1="516" y1="94" x2="519" y2="106" stroke="#b8dc28" stroke-width="3.6"/>
<line x1="526" y1="94" x2="524" y2="106" stroke="#b8dc28" stroke-width="3.6"/>
<line x1="541.3" y1="86.3" x2="543.5" y2="107.2" stroke="#ec1414" stroke-width="3.6"/>
<line x1="548" y1="92" x2="551.3" y2="102.5" stroke="#b8dc28" stroke-width="3.6"/>
<line x1="551.3" y1="102.5" x2="554.6" y2="113" stroke="#ec1414" stroke-width="3.6"/>
<line x1="530" y1="103.7" x2="543.5" y2="107.2" stroke="#ec1414" stroke-width="3.6"/>
<line x1="543.5" y1="107.2" x2="554.6" y2="113" stroke="#ec1414" stroke-width="3.6"/>
<line x1="554.6" y1="113" x2="567.6" y2="119.6" stroke="#ec1414" stroke-width="3.6"/>
<line x1="521.9" y1="119.6" x2="548" y2="119.6" stroke="#b8dc28" stroke-width="3.6"/>
<line x1="548" y1="119.6" x2="567.6" y2="119.6" stroke="#ec1414" stroke-width="3.6"/>
<line x1="574" y1="97" x2="575.9" y2="112.0" stroke="#b8dc28" stroke-width="3.6"/>
<line x1="575.9" y1="112.0" x2="577.8" y2="126.9" stroke="#ec1414" stroke-width="3.6"/>
<line x1="566" y1="98" x2="563" y2="112" stroke="#b8dc28" stroke-width="3.6"/>
<line x1="577.8" y1="126.9" x2="596" y2="127" stroke="#ec1414" stroke-width="3.6"/>
<line x1="556.6" y1="133.4" x2="560" y2="142" stroke="#ec1414" stroke-width="3.6"/>
<line x1="577.8" y1="126.9" x2="580" y2="142" stroke="#ec1414" stroke-width="3.6"/>
<line x1="491.5" y1="124.1" x2="502.6" y2="127.6" stroke="#ec1414" stroke-width="3.6"/>
<line x1="502.6" y1="127.6" x2="505" y2="142" stroke="#ec1414" stroke-width="3.6"/>
<line x1="488" y1="110" x2="491.5" y2="124.1" stroke="#ec1414" stroke-width="3.6"/>
<line x1="510" y1="128" x2="512" y2="142" stroke="#b8dc28" stroke-width="3.6"/>
<line x1="530" y1="130" x2="531" y2="142" stroke="#b8dc28" stroke-width="3.6"/>
<line x1="588.6" y1="59.7" x2="602.5" y2="72.8" stroke="#ec1414" stroke-width="3.6"/>
<line x1="586" y1="72.5" x2="594.2" y2="72.7" stroke="#b8dc28" stroke-width="3.6"/>
<line x1="594.2" y1="72.7" x2="602.5" y2="72.8" stroke="#ec1414" stroke-width="3.6"/>
<line x1="602.5" y1="72.8" x2="622" y2="76.5" stroke="#ec1414" stroke-width="3.6"/>
<line x1="622" y1="76.5" x2="651.4" y2="83.8" stroke="#b8dc28" stroke-width="3.6"/>
<line x1="584" y1="85.3" x2="602" y2="85.3" stroke="#b8dc28" stroke-width="3.6"/>
<line x1="602" y1="85.3" x2="631.7" y2="85.3" stroke="#ec1414" stroke-width="3.6"/>
<line x1="631.7" y1="85.3" x2="651.4" y2="84.5" stroke="#b8dc28" stroke-width="3.6"/>
<line x1="602.5" y1="72.8" x2="602.5" y2="99" stroke="#ec1414" stroke-width="3.6"/>
<line x1="606.2" y1="101.3" x2="616.4" y2="105.7" stroke="#ec1414" stroke-width="3.6"/>
<line x1="616.4" y1="105.7" x2="628.8" y2="114.5" stroke="#ec1414" stroke-width="3.6"/>
<line x1="615.7" y1="85.3" x2="616.4" y2="105.7" stroke="#ec1414" stroke-width="3.6"/>
<line x1="599.6" y1="119.6" x2="625" y2="119.6" stroke="#b8dc28" stroke-width="3.6"/>
<line x1="625" y1="119.6" x2="641.9" y2="118.8" stroke="#ec1414" stroke-width="3.6"/>
<line x1="641.9" y1="118.8" x2="651.0" y2="118.4" stroke="#ec1414" stroke-width="3.6"/>
<line x1="651.0" y1="118.4" x2="660" y2="118" stroke="#b8dc28" stroke-width="3.6"/>
<line x1="660" y1="118" x2="674.1" y2="115.9" stroke="#b8dc28" stroke-width="3.6"/>
<line x1="651.4" y1="97" x2="653.2" y2="111.2" stroke="#b8dc28" stroke-width="3.6"/>
<line x1="653.2" y1="111.2" x2="655.1" y2="125.4" stroke="#ec1414" stroke-width="3.6"/>
<line x1="655.1" y1="125.4" x2="656" y2="142" stroke="#ec1414" stroke-width="3.6"/>
<line x1="641.9" y1="118.8" x2="640" y2="142" stroke="#ec1414" stroke-width="3.6"/>
<line x1="628.8" y1="114.5" x2="629.4" y2="128.2" stroke="#ec1414" stroke-width="3.6"/>
<line x1="629.4" y1="128.2" x2="630" y2="142" stroke="#b8dc28" stroke-width="3.6"/>
<line x1="620" y1="58" x2="632.4" y2="53.9" stroke="#ec1414" stroke-width="3.6"/>
<line x1="632.4" y1="53.9" x2="644.9" y2="59" stroke="#ec1414" stroke-width="3.6"/>
<line x1="644.9" y1="59" x2="658.7" y2="64.8" stroke="#ec1414" stroke-width="3.6"/>
<line x1="658.7" y1="64.8" x2="670.4" y2="71.4" stroke="#ec1414" stroke-width="3.6"/>
<line x1="670.4" y1="71.4" x2="680.6" y2="77.2" stroke="#ec1414" stroke-width="3.6"/>
<line x1="680.6" y1="77.2" x2="690" y2="80" stroke="#ec1414" stroke-width="3.6"/>
<line x1="658.7" y1="64.8" x2="656.9" y2="70.4" stroke="#ec1414" stroke-width="3.6"/>
<line x1="656.9" y1="70.4" x2="655" y2="76" stroke="#b8dc28" stroke-width="3.6"/>
<line x1="665" y1="84" x2="690" y2="84" stroke="#b8dc28" stroke-width="3.6"/>
<line x1="668.2" y1="95.5" x2="670.1" y2="99.8" stroke="#ec1414" stroke-width="3.6"/>
<line x1="670.1" y1="99.8" x2="672" y2="104" stroke="#b8dc28" stroke-width="3.6"/>
<line x1="681.4" y1="96.9" x2="680.7" y2="101.5" stroke="#ec1414" stroke-width="3.6"/>
<line x1="680.7" y1="101.5" x2="680" y2="106" stroke="#b8dc28" stroke-width="3.6"/>
<line x1="668.2" y1="95.5" x2="660" y2="90" stroke="#ec1414" stroke-width="3.6"/>
<line x1="681.4" y1="96.9" x2="690" y2="96" stroke="#ec1414" stroke-width="3.6"/>
<line x1="592.3" y1="97.7" x2="593.6" y2="102.8" stroke="#ec1414" stroke-width="3.6"/>
<line x1="593.6" y1="102.8" x2="595" y2="108" stroke="#b8dc28" stroke-width="3.6"/>
<line x1="586" y1="133" x2="588" y2="142" stroke="#b8dc28" stroke-width="3.6"/>
<line x1="612" y1="131" x2="614" y2="142" stroke="#b8dc28" stroke-width="3.6"/>
<line x1="600" y1="133" x2="600" y2="142" stroke="#b8dc28" stroke-width="3.6"/>
<line x1="668" y1="128" x2="668" y2="142" stroke="#b8dc28" stroke-width="3.6"/>
<line x1="645" y1="59" x2="645.5" y2="64.5" stroke="#ec1414" stroke-width="3.6"/>
<line x1="645.5" y1="64.5" x2="646" y2="70" stroke="#b8dc28" stroke-width="3.6"/>
<circle cx="541.5" cy="70.3" r="15.0" fill="url(#gCeP)"/>
<line x1="541.5" y1="55.3" x2="541.5" y2="84.55" stroke="#f0b428" stroke-width="0.8"/>
<line x1="541.5" y1="72.6" x2="556.5" y2="72.6" stroke="#f0b428" stroke-width="0.8"/>
<circle cx="632.4" cy="68.5" r="14.6" fill="url(#gCeP)"/>
<line x1="632.4" y1="53.9" x2="632.4" y2="82.37" stroke="#f0b428" stroke-width="0.8"/>
<line x1="632.4" y1="70.8" x2="647.0" y2="70.8" stroke="#f0b428" stroke-width="0.8"/>
<line x1="541.3" y1="86.3" x2="556" y2="86.3" stroke="#ec1414" stroke-width="3.6"/>
<circle cx="520.8" cy="61.9" r="13.2" fill="url(#gCe)"/>
<circle cx="674.8" cy="58.2" r="12.6" fill="url(#gCe)"/>
<circle cx="496" cy="86.7" r="14" fill="url(#gCe)"/>
<circle cx="570.5" cy="85.3" r="14" fill="url(#gCe)"/>
<circle cx="651.4" cy="83.8" r="14" fill="url(#gCe)"/>
<circle cx="521.9" cy="119.5" r="14.4" fill="url(#gCe)"/>
<circle cx="599.6" cy="119.6" r="14" fill="url(#gCe)"/>
<circle cx="674.1" cy="115.9" r="13.4" fill="url(#gCe)"/>
<circle cx="553.7" cy="51" r="4.7" fill="url(#gO)"/>
<circle cx="566.8" cy="61.2" r="4.7" fill="url(#gO)"/>
<circle cx="585.8" cy="59" r="4.8" fill="url(#gO)"/>
<circle cx="492.4" cy="64.1" r="4.8" fill="url(#gO)"/>
<circle cx="501.9" cy="68.5" r="4.8" fill="url(#gO)"/>
<circle cx="513.5" cy="74.3" r="4.8" fill="url(#gO)"/>
<circle cx="528.9" cy="80.9" r="4.9" fill="url(#gO)"/>
<circle cx="541.3" cy="86.3" r="5.2" fill="url(#gO)"/>
<circle cx="543.5" cy="107.2" r="5.2" fill="url(#gO)"/>
<circle cx="554.6" cy="113" r="5.2" fill="url(#gO)"/>
<circle cx="502.6" cy="127.6" r="5.3" fill="url(#gO)"/>
<circle cx="491.5" cy="124.1" r="4.6" fill="url(#gO)"/>
<circle cx="556.6" cy="133.4" r="4.8" fill="url(#gO)"/>
<circle cx="577.8" cy="126.9" r="5.2" fill="url(#gO)"/>
<circle cx="588.6" cy="59.7" r="4.8" fill="url(#gO)"/>
<circle cx="632.4" cy="53.9" r="4.5" fill="url(#gO)"/>
<circle cx="644.9" cy="59" r="4.5" fill="url(#gO)"/>
<circle cx="658.7" cy="64.8" r="4.8" fill="url(#gO)"/>
<circle cx="670.4" cy="71.4" r="4.8" fill="url(#gO)"/>
<circle cx="680.6" cy="77.2" r="4.8" fill="url(#gO)"/>
<circle cx="602.5" cy="72.8" r="5.2" fill="url(#gO)"/>
<circle cx="615.7" cy="85.3" r="5.2" fill="url(#gO)"/>
<circle cx="606.2" cy="101.3" r="4.8" fill="url(#gO)"/>
<circle cx="616.4" cy="105.7" r="4.8" fill="url(#gO)"/>
<circle cx="628.8" cy="114.5" r="4.8" fill="url(#gO)"/>
<circle cx="655.1" cy="125.4" r="5.5" fill="url(#gO)"/>
<circle cx="567.6" cy="119.6" r="5.9" fill="#f02808" stroke="#f8c020" stroke-width="1.1"/>
<line x1="562.1" y1="119.6" x2="573.1" y2="119.6" stroke="#f8c020" stroke-width="1.1"/>
<line x1="567.6" y1="114.1" x2="567.6" y2="125.1" stroke="#f8c020" stroke-width="1.1"/>
<circle cx="641.9" cy="118.8" r="5.9" fill="#f02808" stroke="#f8c020" stroke-width="1.1"/>
<line x1="636.4" y1="118.8" x2="647.4" y2="118.8" stroke="#f8c020" stroke-width="1.1"/>
<line x1="641.9" y1="113.3" x2="641.9" y2="124.3" stroke="#f8c020" stroke-width="1.1"/>
<text x="520.8" y="64.1" font-size="5.8" font-weight="bold" text-anchor="middle" fill="#222">Ce14</text>
<text x="674.8" y="60.400000000000006" font-size="5.8" font-weight="bold" text-anchor="middle" fill="#222">Ce2</text>
<text x="496" y="88.9" font-size="5.8" font-weight="bold" text-anchor="middle" fill="#222">Ce18</text>
<text x="570.5" y="87.5" font-size="5.8" font-weight="bold" text-anchor="middle" fill="#222">Ce14</text>
<text x="651.4" y="86.0" font-size="5.8" font-weight="bold" text-anchor="middle" fill="#222">Ce6</text>
<text x="521.9" y="121.7" font-size="5.8" font-weight="bold" text-anchor="middle" fill="#222">Ce15</text>
<text x="599.6" y="121.8" font-size="5.8" font-weight="bold" text-anchor="middle" fill="#222">Ce4</text>
<text x="674.1" y="118.10000000000001" font-size="5.8" font-weight="bold" text-anchor="middle" fill="#222">Ce3</text>
<text x="541.5" y="73.5" font-size="5.8" font-weight="bold" text-anchor="middle" fill="#333">Ce20</text>
<text x="632.4" y="71" font-size="5.8" font-weight="bold" text-anchor="middle" fill="#333">Ce12</text>
<text x="506" y="109.2" font-size="5.8" font-weight="bold" text-anchor="middle" fill="#444" opacity="0.5">Ce11</text>
<text x="577" y="109.2" font-size="5.8" font-weight="bold" text-anchor="middle" fill="#444" opacity="0.5">Ce10</text>
<text x="652" y="106.2" font-size="5.8" font-weight="bold" text-anchor="middle" fill="#444" opacity="0.5">Ce5</text>
<text x="609" y="61" font-size="5.8" font-weight="bold" text-anchor="middle" fill="#444" opacity="0.5">Ce6</text>
</g>
<line x1="596.5" y1="50" x2="601.5" y2="66" stroke="#a040c8" stroke-width="3.2"/>
<circle cx="596.4" cy="37.5" r="14.4" fill="url(#gBi)"/>
<ellipse cx="610.7" cy="83.4" rx="16.0" ry="17.6" transform="rotate(-25 610.7 83.4)" fill="none" stroke="#1020e0" stroke-width="1.4" stroke-dasharray="3.2,2"/>
<polygon points="625.4,92.3 629.5,92.5 631.4,97.2 638.8,99.4 634.5,111.8 621.4,110.1 620.2,100.6 624.2,97.6" fill="#0a0aff"/>
<text x="0.50" y="194.40" font-size="20" text-anchor="start" fill="#000" font-weight="normal" >c</text>
<line x1="25.20" y1="255.20" x2="244.70" y2="255.20" stroke="#d8d8d8" stroke-width="0.8" />
<polyline points="25.60,234.19 25.90,233.85 26.20,235.58 26.50,234.12 26.80,234.44 27.10,235.42 27.40,234.07 27.70,234.37 28.00,234.94 28.30,234.75 28.60,234.36 28.90,235.05 29.20,235.07 29.50,235.74 29.80,234.53 30.10,235.21 30.40,236.43 30.70,236.97 31.00,235.14 31.30,236.52 31.60,235.71 31.90,235.91 32.20,236.04 32.50,236.43 32.80,237.38 33.10,237.35 33.40,237.10 33.70,236.99 34.00,237.34 34.30,237.40 34.60,238.05 34.90,237.37 35.20,237.86 35.50,237.93 35.80,238.09 36.10,238.40 36.40,238.50 36.70,239.27 37.00,238.60 37.30,239.66 37.60,238.74 37.90,238.78 38.20,239.23 38.50,239.51 38.80,239.59 39.10,240.29 39.40,240.34 39.70,240.11 40.00,239.78 40.30,240.04 40.60,241.01 40.90,240.48 41.20,239.76 41.50,240.24 41.80,240.43 42.10,241.52 42.40,240.96 42.70,242.39 43.00,241.64 43.30,241.48 43.60,241.30 43.90,242.21 44.20,241.67 44.50,241.49 44.80,242.38 45.10,242.19 45.40,242.91 45.70,242.31 46.00,240.88 46.30,242.94 46.60,241.58 46.90,243.51 47.20,243.74 47.50,242.62 47.80,242.30 48.10,242.26 48.40,243.56 48.70,243.07 49.00,242.94 49.30,243.21 49.60,244.54 49.90,243.69 50.20,243.96 50.50,244.02 50.80,244.18 51.10,244.25 51.40,243.35 51.70,243.65 52.00,243.41 52.30,243.47 52.60,244.49 52.90,243.66 53.20,243.93 53.50,243.65 53.80,243.74 54.10,244.50 54.40,243.90 54.70,243.92 55.00,244.46 55.30,244.50 55.60,244.68 55.90,244.39 56.20,243.44 56.50,244.70 56.80,244.66 57.10,244.96 57.40,244.04 57.70,245.79 58.00,243.91 58.30,244.94 58.60,244.62 58.90,244.38 59.20,245.08 59.50,244.55 59.80,243.55 60.10,244.16 60.40,244.97 60.70,245.86 61.00,243.99 61.30,244.72 61.60,245.45 61.90,245.03 62.20,244.53 62.50,244.00 62.80,243.82 63.10,244.33 63.40,244.51 63.70,243.57 64.00,243.84 64.30,244.81 64.60,244.45 64.90,244.27 65.20,244.43 65.50,244.22 65.80,245.05 66.10,245.38 66.40,245.57 66.70,244.88 67.00,244.88 67.30,245.20 67.60,245.30 67.90,245.13 68.20,244.97 68.50,244.04 68.80,243.53 69.10,244.66 69.40,244.14 69.70,244.09 70.00,243.61 70.30,243.36 70.60,244.58 70.90,244.04 71.20,243.21 71.50,243.76 71.80,243.56 72.10,243.45 72.40,244.00 72.70,242.61 73.00,241.59 73.30,241.58 73.60,240.26 73.90,239.10 74.20,236.01 74.50,231.37 74.80,224.26 75.10,216.66 75.40,208.48 75.70,203.80 76.00,202.69 76.30,206.29 76.60,214.29 76.90,221.99 77.20,230.28 77.50,235.23 77.80,238.75 78.10,240.69 78.40,241.86 78.70,241.60 79.00,243.79 79.30,243.29 79.60,244.43 79.90,244.00 80.20,244.46 80.50,244.63 80.80,244.43 81.10,244.97 81.40,245.38 81.70,245.10 82.00,244.81 82.30,245.20 82.60,245.64 82.90,246.09 83.20,246.00 83.50,245.79 83.80,245.25 84.10,246.09 84.40,245.70 84.70,245.56 85.00,246.02 85.30,245.82 85.60,245.64 85.90,244.70 86.20,244.54 86.50,243.35 86.80,242.98 87.10,241.12 87.40,239.24 87.70,236.59 88.00,234.58 88.30,235.07 88.60,234.58 88.90,236.42 89.20,239.18 89.50,241.96 89.80,243.37 90.10,244.53 90.40,244.97 90.70,246.50 91.00,245.89 91.30,245.88 91.60,246.43 91.90,246.26 92.20,246.60 92.50,247.34 92.80,246.67 93.10,246.91 93.40,246.83 93.70,246.96 94.00,247.42 94.30,247.35 94.60,247.03 94.90,246.83 95.20,247.19 95.50,247.62 95.80,247.30 96.10,247.29 96.40,246.63 96.70,247.80 97.00,246.82 97.30,246.93 97.60,247.32 97.90,247.51 98.20,247.53 98.50,247.23 98.80,247.43 99.10,247.34 99.40,246.88 99.70,247.52 100.00,247.36 100.30,247.82 100.60,247.61 100.90,248.06 101.20,247.96 101.50,248.05 101.80,248.18 102.10,247.99 102.40,247.67 102.70,248.27 103.00,247.39 103.30,247.75 103.60,248.10 103.90,247.67 104.20,248.07 104.50,247.49 104.80,247.60 105.10,248.03 105.40,248.10 105.70,248.29 106.00,247.82 106.30,247.97 106.60,248.10 106.90,248.05 107.20,247.39 107.50,247.68 107.80,248.44 108.10,247.44 108.40,248.15 108.70,247.76 109.00,248.30 109.30,247.65 109.60,247.96 109.90,247.20 110.20,247.94 110.50,248.36 110.80,247.42 111.10,248.41 111.40,247.73 111.70,247.97 112.00,246.99 112.30,248.40 112.60,247.69 112.90,247.82 113.20,247.56 113.50,247.67 113.80,248.44 114.10,247.86 114.40,248.36 114.70,247.98 115.00,248.17 115.30,247.88 115.60,248.21 115.90,248.97 116.20,248.29 116.50,248.24 116.80,247.90 117.10,248.42 117.40,248.54 117.70,247.47 118.00,247.59 118.30,248.79 118.60,248.21 118.90,248.10 119.20,248.24 119.50,248.42 119.80,248.30 120.10,247.94 120.40,248.71 120.70,247.99 121.00,247.67 121.30,247.76 121.60,247.87 121.90,247.76 122.20,247.78 122.50,247.90 122.80,246.64 123.10,247.42 123.40,247.91 123.70,247.69 124.00,247.15 124.30,247.03 124.60,247.42 124.90,246.71 125.20,246.23 125.50,246.38 125.80,244.56 126.10,243.09 126.40,240.12 126.70,236.58 127.00,232.43 127.30,229.36 127.60,228.67 127.90,228.80 128.20,232.07 128.50,235.39 128.80,239.39 129.10,242.41 129.40,243.92 129.70,246.04 130.00,246.36 130.30,247.24 130.60,246.85 130.90,247.65 131.20,248.26 131.50,247.73 131.80,247.57 132.10,248.02 132.40,248.00 132.70,247.96 133.00,248.05 133.30,247.96 133.60,248.32 133.90,248.11 134.20,248.00 134.50,248.56 134.80,248.28 135.10,249.19 135.40,248.31 135.70,248.18 136.00,248.26 136.30,248.56 136.60,248.25 136.90,248.08 137.20,249.01 137.50,248.12 137.80,249.00 138.10,248.58 138.40,248.21 138.70,249.08 139.00,248.50 139.30,248.26 139.60,248.60 139.90,249.00 140.20,248.81 140.50,248.86 140.80,249.16 141.10,248.68 141.40,248.74 141.70,248.55 142.00,248.17 142.30,248.58 142.60,249.14 142.90,248.08 143.20,249.05 143.50,248.71 143.80,248.33 144.10,248.63 144.40,249.17 144.70,248.42 145.00,248.84 145.30,248.93 145.60,248.28 145.90,248.74 146.20,248.69 146.50,248.34 146.80,248.67 147.10,248.30 147.40,248.18 147.70,247.92 148.00,248.35 148.30,248.01 148.60,247.86 148.90,247.52 149.20,247.25 149.50,247.11 149.80,247.04 150.10,245.63 150.40,244.84 150.70,242.36 151.00,239.66 151.30,236.65 151.60,235.86 151.90,234.42 152.20,236.23 152.50,238.90 152.80,241.00 153.10,243.27 153.40,245.29 153.70,246.76 154.00,247.61 154.30,247.78 154.60,247.51 154.90,247.80 155.20,248.20 155.50,247.82 155.80,248.22 156.10,249.05 156.40,248.05 156.70,248.75 157.00,248.07 157.30,248.18 157.60,248.10 157.90,247.34 158.20,247.32 158.50,247.17 158.80,246.38 159.10,245.93 159.40,245.33 159.70,245.79 160.00,246.45 160.30,247.25 160.60,248.07 160.90,247.81 161.20,248.97 161.50,248.54 161.80,248.67 162.10,248.45 162.40,248.86 162.70,248.85 163.00,248.57 163.30,248.90 163.60,249.05 163.90,248.91 164.20,249.31 164.50,248.76 164.80,249.38 165.10,249.05 165.40,249.24 165.70,248.56 166.00,249.19 166.30,249.14 166.60,249.47 166.90,248.81 167.20,249.62 167.50,248.86 167.80,249.63 168.10,249.40 168.40,248.99 168.70,249.92 169.00,248.87 169.30,249.20 169.60,249.32 169.90,249.43 170.20,249.34 170.50,249.53 170.80,249.43 171.10,249.30 171.40,249.00 171.70,249.19 172.00,249.59 172.30,248.95 172.60,249.36 172.90,248.68 173.20,249.11 173.50,248.83 173.80,249.73 174.10,248.77 174.40,249.28 174.70,249.59 175.00,249.56 175.30,249.61 175.60,249.71 175.90,249.53 176.20,249.65 176.50,249.37 176.80,249.38 177.10,248.84 177.40,249.45 177.70,249.80 178.00,249.17 178.30,249.04 178.60,249.44 178.90,249.78 179.20,249.80 179.50,248.95 179.80,249.57 180.10,249.22 180.40,249.52 180.70,248.72 181.00,249.73 181.30,249.31 181.60,249.50 181.90,249.38 182.20,249.11 182.50,249.60 182.80,249.28 183.10,249.21 183.40,249.63 183.70,249.39 184.00,249.18 184.30,249.69 184.60,249.18 184.90,249.33 185.20,249.53 185.50,249.51 185.80,249.45 186.10,249.36 186.40,248.51 186.70,247.82 187.00,248.17 187.30,247.78 187.60,247.18 187.90,247.68 188.20,247.71 188.50,247.78 188.80,249.01 189.10,249.09 189.40,249.23 189.70,249.85 190.00,249.84 190.30,249.23 190.60,249.12 190.90,248.90 191.20,249.52 191.50,249.41 191.80,249.67 192.10,249.57 192.40,249.37 192.70,249.46 193.00,249.11 193.30,249.99 193.60,249.45 193.90,249.82 194.20,249.42 194.50,249.66 194.80,249.84 195.10,249.56 195.40,249.40 195.70,250.39 196.00,249.60 196.30,249.85 196.60,249.65 196.90,249.44 197.20,250.10 197.50,249.81 197.80,249.80 198.10,248.98 198.40,249.79 198.70,249.96 199.00,249.79 199.30,249.66 199.60,250.08 199.90,249.78 200.20,249.89 200.50,250.03 200.80,250.02 201.10,249.29 201.40,249.81 201.70,249.46 202.00,249.06 202.30,249.78 202.60,249.14 202.90,249.53 203.20,248.87 203.50,249.32 203.80,249.48 204.10,249.60 204.40,249.40 204.70,249.23 205.00,249.17 205.30,249.82 205.60,249.00 205.90,248.79 206.20,248.91 206.50,247.08 206.80,246.21 207.10,245.88 207.40,245.72 207.70,245.58 208.00,246.42 208.30,247.14 208.60,247.43 208.90,248.59 209.20,248.51 209.50,249.45 209.80,249.45 210.10,250.16 210.40,249.77 210.70,249.47 211.00,249.65 211.30,249.58 211.60,249.26 211.90,248.95 212.20,249.58 212.50,249.42 212.80,248.35 213.10,247.86 213.40,247.21 213.70,247.26 214.00,247.19 214.30,246.76 214.60,247.42 214.90,247.97 215.20,248.77 215.50,249.38 215.80,249.77 216.10,249.52 216.40,249.41 216.70,249.96 217.00,250.03 217.30,249.77 217.60,249.96 217.90,250.05 218.20,250.23 218.50,250.00 218.80,250.15 219.10,250.07 219.40,249.72 219.70,250.26 220.00,250.09 220.30,250.40 220.60,249.70 220.90,249.87 221.20,250.20 221.50,249.57 221.80,250.07 222.10,249.98 222.40,250.00 222.70,250.06 223.00,249.45 223.30,250.17 223.60,250.19 223.90,250.50 224.20,250.63 224.50,250.29 224.80,250.48 225.10,249.44 225.40,250.37 225.70,250.56 226.00,250.49 226.30,250.29 226.60,250.11 226.90,250.12 227.20,250.24 227.50,250.38 227.80,250.43 228.10,250.22 228.40,249.86 228.70,250.83 229.00,249.99 229.30,249.43 229.60,250.72 229.90,250.60 230.20,250.34 230.50,250.59 230.80,250.43 231.10,250.03 231.40,250.33 231.70,249.91 232.00,250.09 232.30,250.03 232.60,250.35 232.90,250.63 233.20,250.10 233.50,250.44 233.80,249.62 234.10,249.95 234.40,250.45 234.70,250.58 235.00,250.57 235.30,250.59 235.60,249.72 235.90,250.06 236.20,249.38 236.50,250.11 236.80,250.18 237.10,249.92 237.40,249.60 237.70,249.78 238.00,249.42 238.30,248.72 238.60,247.76 238.90,247.23 239.20,246.69 239.50,246.57 239.80,246.96 240.10,247.38 240.40,247.70 240.70,248.78 241.00,249.53 241.30,249.64 241.60,250.07 241.90,249.92 242.20,250.64 242.50,250.41 242.80,250.37 243.10,250.60 243.40,250.63 243.70,250.44 244.00,250.75 244.30,250.67" fill="none" stroke="#8410f8" stroke-width="1.15" stroke-linejoin="round" stroke-linecap="round" />
<polyline points="25.60,279.58 25.90,279.42 26.20,277.81 26.50,280.11 26.80,280.27 27.10,278.81 27.40,282.57 27.70,280.54 28.00,278.99 28.30,280.24 28.60,281.04 28.90,281.23 29.20,280.21 29.50,281.72 29.80,279.49 30.10,281.35 30.40,282.96 30.70,281.38 31.00,283.72 31.30,284.18 31.60,282.14 31.90,279.44 32.20,284.93 32.50,285.89 32.80,281.38 33.10,284.48 33.40,284.88 33.70,281.99 34.00,283.92 34.30,286.99 34.60,285.56 34.90,285.45 35.20,287.43 35.50,284.81 35.80,283.05 36.10,288.18 36.40,284.97 36.70,286.35 37.00,288.34 37.30,287.10 37.60,287.08 37.90,286.02 38.20,288.03 38.50,290.70 38.80,286.52 39.10,285.84 39.40,288.20 39.70,286.74 40.00,288.22 40.30,288.17 40.60,289.01 40.90,288.66 41.20,288.95 41.50,290.53 41.80,287.19 42.10,288.87 42.40,289.39 42.70,287.15 43.00,287.67 43.30,288.72 43.60,288.51 43.90,291.14 44.20,289.75 44.50,294.10 44.80,289.19 45.10,289.38 45.40,293.29 45.70,289.09 46.00,293.28 46.30,285.33 46.60,289.06 46.90,292.20 47.20,292.52 47.50,290.87 47.80,289.26 48.10,290.06 48.40,291.47 48.70,290.82 49.00,291.80 49.30,289.37 49.60,291.71 49.90,292.42 50.20,295.12 50.50,291.67 50.80,291.68 51.10,289.45 51.40,288.77 51.70,287.42 52.00,291.49 52.30,293.81 52.60,290.75 52.90,287.32 53.20,291.25 53.50,290.71 53.80,290.51 54.10,293.64 54.40,292.92 54.70,293.33 55.00,290.08 55.30,291.79 55.60,289.74 55.90,293.00 56.20,289.80 56.50,293.25 56.80,291.85 57.10,291.87 57.40,289.54 57.70,292.63 58.00,289.09 58.30,289.95 58.60,290.43 58.90,294.72 59.20,291.99 59.50,290.93 59.80,292.66 60.10,295.30 60.40,291.79 60.70,290.58 61.00,290.54 61.30,292.06 61.60,294.51 61.90,292.02 62.20,291.92 62.50,290.92 62.80,290.75 63.10,293.81 63.40,292.88 63.70,293.01 64.00,290.59 64.30,293.28 64.60,292.99 64.90,294.65 65.20,294.06 65.50,292.32 65.80,293.13 66.10,293.14 66.40,292.60 66.70,291.58 67.00,294.00 67.30,295.85 67.60,292.70 67.90,295.05 68.20,292.42 68.50,292.41 68.80,292.82 69.10,292.22 69.40,291.75 69.70,284.67 70.00,273.28 70.30,282.85 70.60,290.15 70.90,294.61 71.20,291.37 71.50,292.62 71.80,293.91 72.10,293.35 72.40,294.07 72.70,290.86 73.00,290.72 73.30,291.91 73.60,288.53 73.90,289.41 74.20,287.39 74.50,282.30 74.80,273.90 75.10,267.41 75.40,260.53 75.70,256.72 76.00,255.94 76.30,258.96 76.60,264.37 76.90,272.13 77.20,280.22 77.50,285.44 77.80,289.40 78.10,290.97 78.40,293.45 78.70,293.75 79.00,295.41 79.30,295.69 79.60,296.90 79.90,295.35 80.20,295.79 80.50,295.83 80.80,297.61 81.10,298.67 81.40,299.43 81.70,298.43 82.00,298.27 82.30,299.55 82.60,298.76 82.90,297.77 83.20,300.08 83.50,298.80 83.80,297.65 84.10,299.36 84.40,298.70 84.70,299.76 85.00,299.01 85.30,299.54 85.60,299.21 85.90,299.71 86.20,300.29 86.50,299.34 86.80,298.04 87.10,297.69 87.40,292.82 87.70,292.56 88.00,292.21 88.30,291.05 88.60,292.63 88.90,292.16 89.20,297.02 89.50,297.11 89.80,301.05 90.10,301.25 90.40,302.76 90.70,301.36 91.00,302.40 91.30,300.80 91.60,303.62 91.90,304.29 92.20,304.07 92.50,305.15 92.80,304.74 93.10,304.37 93.40,305.04 93.70,303.94 94.00,305.79 94.30,305.20 94.60,305.42 94.90,305.04 95.20,304.64 95.50,304.30 95.80,305.14 96.10,306.34 96.40,303.61 96.70,305.81 97.00,309.73 97.30,306.08 97.60,305.74 97.90,306.42 98.20,305.91 98.50,306.26 98.80,306.39 99.10,305.19 99.40,307.67 99.70,306.66 100.00,307.71 100.30,306.74 100.60,307.78 100.90,306.75 101.20,310.06 101.50,308.07 101.80,308.32 102.10,306.89 102.40,305.36 102.70,306.74 103.00,307.70 103.30,307.36 103.60,306.66 103.90,306.53 104.20,306.08 104.50,306.96 104.80,308.16 105.10,308.25 105.40,308.29 105.70,307.47 106.00,307.92 106.30,307.77 106.60,308.28 106.90,308.19 107.20,308.58 107.50,307.87 107.80,307.97 108.10,309.54 108.40,309.48 108.70,306.05 109.00,308.62 109.30,308.67 109.60,309.22 109.90,306.25 110.20,306.74 110.50,308.04 110.80,308.60 111.10,307.38 111.40,309.69 111.70,309.62 112.00,309.28 112.30,309.50 112.60,307.55 112.90,308.59 113.20,306.47 113.50,309.77 113.80,309.97 114.10,309.27 114.40,307.93 114.70,308.99 115.00,309.92 115.30,307.83 115.60,309.28 115.90,309.79 116.20,308.39 116.50,308.62 116.80,310.34 117.10,309.96 117.40,310.63 117.70,309.56 118.00,308.41 118.30,309.32 118.60,308.80 118.90,309.18 119.20,309.91 119.50,310.89 119.80,309.65 120.10,311.27 120.40,308.32 120.70,309.38 121.00,309.60 121.30,307.62 121.60,308.08 121.90,309.27 122.20,309.67 122.50,309.95 122.80,309.60 123.10,309.21 123.40,308.18 123.70,309.40 124.00,310.71 124.30,309.54 124.60,308.34 124.90,308.84 125.20,308.71 125.50,308.78 125.80,306.00 126.10,305.00 126.40,302.12 126.70,297.53 127.00,293.60 127.30,289.99 127.60,288.96 127.90,290.12 128.20,291.87 128.50,296.89 128.80,302.34 129.10,304.20 129.40,304.78 129.70,309.00 130.00,308.35 130.30,309.18 130.60,309.82 130.90,309.27 131.20,308.93 131.50,309.34 131.80,310.34 132.10,310.22 132.40,310.09 132.70,312.27 133.00,310.72 133.30,311.41 133.60,312.48 133.90,310.83 134.20,310.42 134.50,310.60 134.80,310.98 135.10,312.46 135.40,311.88 135.70,310.82 136.00,310.55 136.30,311.72 136.60,312.67 136.90,310.64 137.20,312.56 137.50,311.49 137.80,311.25 138.10,311.06 138.40,310.72 138.70,310.93 139.00,312.42 139.30,310.17 139.60,311.03 139.90,311.39 140.20,310.46 140.50,311.05 140.80,310.26 141.10,312.04 141.40,312.07 141.70,310.35 142.00,312.77 142.30,310.70 142.60,309.93 142.90,310.06 143.20,311.99 143.50,309.58 143.80,311.52 144.10,311.82 144.40,312.47 144.70,311.34 145.00,312.64 145.30,311.28 145.60,312.42 145.90,310.78 146.20,311.87 146.50,311.33 146.80,311.73 147.10,313.46 147.40,311.51 147.70,311.51 148.00,311.52 148.30,311.61 148.60,309.32 148.90,311.73 149.20,309.71 149.50,308.81 149.80,310.08 150.10,307.93 150.40,307.61 150.70,306.08 151.00,302.35 151.30,298.71 151.60,297.77 151.90,299.07 152.20,298.63 152.50,302.58 152.80,305.20 153.10,305.48 153.40,309.23 153.70,308.57 154.00,310.97 154.30,311.42 154.60,311.05 154.90,310.02 155.20,311.22 155.50,311.36 155.80,312.15 156.10,311.74 156.40,312.30 156.70,311.60 157.00,310.48 157.30,311.81 157.60,312.95 157.90,310.76 158.20,310.27 158.50,309.05 158.80,311.90 159.10,309.03 159.40,310.80 159.70,310.22 160.00,310.40 160.30,311.09 160.60,313.13 160.90,313.37 161.20,312.58 161.50,311.92 161.80,313.67 162.10,313.07 162.40,312.62 162.70,313.01 163.00,311.94 163.30,313.28 163.60,312.43 163.90,312.49 164.20,311.71 164.50,312.84 164.80,313.14 165.10,311.51 165.40,313.09 165.70,313.22 166.00,313.99 166.30,313.86 166.60,312.38 166.90,313.98 167.20,313.37 167.50,312.76 167.80,312.29 168.10,313.76 168.40,313.71 168.70,312.61 169.00,313.30 169.30,312.68 169.60,312.38 169.90,312.27 170.20,313.63 170.50,313.37 170.80,313.44 171.10,313.33 171.40,313.19 171.70,313.96 172.00,311.75 172.30,313.88 172.60,312.20 172.90,313.03 173.20,313.32 173.50,313.25 173.80,313.64 174.10,312.49 174.40,314.72 174.70,314.23 175.00,313.75 175.30,313.93 175.60,312.98 175.90,311.82 176.20,312.01 176.50,313.77 176.80,311.11 177.10,314.73 177.40,313.77 177.70,312.59 178.00,312.94 178.30,312.05 178.60,313.34 178.90,313.78 179.20,314.51 179.50,312.37 179.80,314.41 180.10,313.69 180.40,313.43 180.70,313.55 181.00,313.85 181.30,315.13 181.60,314.84 181.90,314.27 182.20,312.92 182.50,313.38 182.80,314.35 183.10,313.91 183.40,312.90 183.70,315.18 184.00,315.65 184.30,314.05 184.60,313.27 184.90,313.57 185.20,312.65 185.50,312.44 185.80,313.64 186.10,312.94 186.40,313.65 186.70,315.00 187.00,312.52 187.30,311.86 187.60,311.94 187.90,312.36 188.20,313.60 188.50,312.90 188.80,313.86 189.10,312.50 189.40,312.78 189.70,313.55 190.00,314.60 190.30,313.05 190.60,315.01 190.90,313.12 191.20,314.11 191.50,313.95 191.80,315.38 192.10,313.20 192.40,313.30 192.70,313.83 193.00,314.72 193.30,314.70 193.60,313.06 193.90,313.45 194.20,313.05 194.50,315.65 194.80,314.55 195.10,314.76 195.40,312.34 195.70,314.42 196.00,314.03 196.30,315.09 196.60,312.86 196.90,315.51 197.20,314.90 197.50,314.86 197.80,313.30 198.10,316.08 198.40,314.62 198.70,314.68 199.00,314.46 199.30,314.19 199.60,314.60 199.90,314.61 200.20,315.43 200.50,314.96 200.80,313.87 201.10,314.67 201.40,315.35 201.70,313.96 202.00,314.44 202.30,315.50 202.60,314.90 202.90,314.08 203.20,315.04 203.50,315.35 203.80,315.11 204.10,314.65 204.40,316.11 204.70,313.24 205.00,314.68 205.30,314.86 205.60,313.36 205.90,313.22 206.20,312.86 206.50,313.04 206.80,312.21 207.10,312.21 207.40,312.55 207.70,311.02 208.00,312.05 208.30,312.92 208.60,311.46 208.90,313.49 209.20,312.55 209.50,313.55 209.80,313.54 210.10,315.38 210.40,313.94 210.70,313.93 211.00,315.16 211.30,314.39 211.60,313.30 211.90,315.40 212.20,315.19 212.50,313.86 212.80,312.41 213.10,312.86 213.40,312.27 213.70,314.18 214.00,312.08 214.30,313.54 214.60,314.30 214.90,313.91 215.20,314.33 215.50,315.47 215.80,315.26 216.10,313.36 216.40,315.68 216.70,312.91 217.00,314.28 217.30,315.60 217.60,313.31 217.90,315.86 218.20,316.88 218.50,314.81 218.80,313.42 219.10,316.46 219.40,314.21 219.70,313.95 220.00,314.07 220.30,314.60 220.60,314.49 220.90,316.77 221.20,314.28 221.50,313.64 221.80,313.74 222.10,314.74 222.40,316.61 222.70,313.94 223.00,314.99 223.30,315.82 223.60,314.93 223.90,314.98 224.20,314.89 224.50,315.55 224.80,314.60 225.10,316.53 225.40,313.72 225.70,316.12 226.00,316.24 226.30,315.36 226.60,315.07 226.90,316.44 227.20,314.53 227.50,315.18 227.80,314.63 228.10,315.64 228.40,314.63 228.70,314.87 229.00,316.04 229.30,315.44 229.60,315.69 229.90,316.89 230.20,313.77 230.50,315.02 230.80,315.55 231.10,316.77 231.40,314.61 231.70,315.46 232.00,316.04 232.30,314.64 232.60,315.20 232.90,315.61 233.20,315.15 233.50,316.13 233.80,316.41 234.10,315.29 234.40,316.23 234.70,316.05 235.00,315.66 235.30,315.02 235.60,317.08 235.90,314.70 236.20,315.87 236.50,316.37 236.80,313.41 237.10,314.99 237.40,313.84 237.70,315.17 238.00,315.65 238.30,314.13 238.60,314.33 238.90,314.43 239.20,312.82 239.50,313.11 239.80,312.63 240.10,314.40 240.40,314.22 240.70,316.21 241.00,316.37 241.30,314.39 241.60,315.87 241.90,315.98 242.20,316.00 242.50,316.23 242.80,315.75 243.10,316.82 243.40,316.58 243.70,316.39 244.00,315.57 244.30,317.08" fill="none" stroke="#0f7f0f" stroke-width="1.15" stroke-linejoin="round" stroke-linecap="round" />
<polyline points="25.60,370.94 25.90,371.87 26.20,371.77 26.50,371.30 26.80,371.82 27.10,372.56 27.40,371.77 27.70,371.59 28.00,371.93 28.30,372.13 28.60,372.61 28.90,371.95 29.20,372.43 29.50,372.20 29.80,372.62 30.10,372.38 30.40,371.92 30.70,372.60 31.00,372.79 31.30,372.37 31.60,371.74 31.90,372.21 32.20,372.60 32.50,372.89 32.80,372.51 33.10,373.11 33.40,372.61 33.70,372.36 34.00,373.06 34.30,372.71 34.60,373.47 34.90,373.44 35.20,372.96 35.50,372.94 35.80,373.29 36.10,373.66 36.40,373.36 36.70,373.31 37.00,373.79 37.30,373.70 37.60,373.28 37.90,373.33 38.20,372.85 38.50,373.58 38.80,373.58 39.10,373.93 39.40,373.57 39.70,373.71 40.00,373.78 40.30,373.78 40.60,373.91 40.90,373.86 41.20,374.51 41.50,374.11 41.80,374.34 42.10,374.38 42.40,373.95 42.70,373.68 43.00,374.01 43.30,374.33 43.60,374.50 43.90,374.09 44.20,374.82 44.50,374.54 44.80,374.98 45.10,374.43 45.40,373.81 45.70,374.98 46.00,374.98 46.30,375.61 46.60,374.92 46.90,375.02 47.20,375.53 47.50,374.05 47.80,374.52 48.10,374.38 48.40,375.17 48.70,375.00 49.00,375.29 49.30,374.62 49.60,374.92 49.90,375.18 50.20,375.15 50.50,375.14 50.80,375.61 51.10,375.06 51.40,375.17 51.70,375.19 52.00,375.58 52.30,375.07 52.60,375.09 52.90,375.14 53.20,374.95 53.50,375.44 53.80,375.33 54.10,374.90 54.40,375.41 54.70,375.63 55.00,376.15 55.30,375.62 55.60,376.09 55.90,375.73 56.20,376.10 56.50,375.30 56.80,375.26 57.10,375.63 57.40,375.61 57.70,375.73 58.00,375.87 58.30,375.37 58.60,375.81 58.90,375.58 59.20,376.38 59.50,375.71 59.80,375.64 60.10,376.34 60.40,375.30 60.70,376.32 61.00,375.93 61.30,375.69 61.60,375.70 61.90,375.84 62.20,375.93 62.50,375.61 62.80,375.96 63.10,376.07 63.40,375.85 63.70,376.32 64.00,375.56 64.30,375.88 64.60,376.14 64.90,375.98 65.20,376.29 65.50,376.13 65.80,375.50 66.10,376.26 66.40,375.64 66.70,376.15 67.00,375.81 67.30,376.12 67.60,375.04 67.90,375.95 68.20,375.65 68.50,376.11 68.80,376.08 69.10,375.92 69.40,374.99 69.70,373.58 70.00,372.00 70.30,373.12 70.60,374.58 70.90,375.11 71.20,375.28 71.50,374.45 71.80,374.56 72.10,374.45 72.40,373.93 72.70,373.12 73.00,373.01 73.30,372.31 73.60,371.12 73.90,369.78 74.20,366.68 74.50,362.03 74.80,355.50 75.10,347.45 75.40,339.94 75.70,334.82 76.00,333.97 76.30,337.91 76.60,345.12 76.90,352.92 77.20,360.49 77.50,365.86 77.80,368.88 78.10,371.34 78.40,372.32 78.70,373.04 79.00,373.91 79.30,373.43 79.60,374.33 79.90,374.15 80.20,374.62 80.50,374.16 80.80,375.17 81.10,375.42 81.40,374.94 81.70,375.77 82.00,375.27 82.30,375.48 82.60,375.28 82.90,375.77 83.20,375.59 83.50,375.69 83.80,375.79 84.10,375.49 84.40,375.93 84.70,375.71 85.00,376.12 85.30,375.69 85.60,375.75 85.90,375.56 86.20,375.45 86.50,374.92 86.80,373.56 87.10,371.80 87.40,370.16 87.70,368.12 88.00,366.93 88.30,366.22 88.60,367.11 88.90,368.73 89.20,370.81 89.50,372.42 89.80,374.45 90.10,375.06 90.40,375.39 90.70,376.00 91.00,376.35 91.30,376.52 91.60,376.87 91.90,376.75 92.20,377.05 92.50,377.33 92.80,376.96 93.10,377.09 93.40,377.71 93.70,377.52 94.00,377.70 94.30,377.49 94.60,377.59 94.90,377.62 95.20,377.48 95.50,377.98 95.80,377.43 96.10,377.57 96.40,377.46 96.70,378.22 97.00,377.56 97.30,378.08 97.60,377.47 97.90,378.32 98.20,378.44 98.50,377.83 98.80,378.22 99.10,377.54 99.40,377.76 99.70,378.19 100.00,377.91 100.30,377.77 100.60,377.92 100.90,377.77 101.20,377.75 101.50,378.14 101.80,377.47 102.10,377.79 102.40,377.94 102.70,378.16 103.00,377.99 103.30,377.85 103.60,377.43 103.90,378.65 104.20,377.79 104.50,378.14 104.80,377.68 105.10,378.20 105.40,377.66 105.70,377.86 106.00,378.02 106.30,377.72 106.60,378.19 106.90,378.02 107.20,378.28 107.50,378.23 107.80,377.94 108.10,377.76 108.40,377.96 108.70,378.29 109.00,377.68 109.30,378.29 109.60,377.69 109.90,378.18 110.20,378.17 110.50,377.86 110.80,377.74 111.10,378.06 111.40,378.18 111.70,377.78 112.00,378.17 112.30,378.13 112.60,377.79 112.90,377.66 113.20,378.07 113.50,378.00 113.80,377.75 114.10,377.88 114.40,378.55 114.70,378.22 115.00,378.19 115.30,377.90 115.60,378.07 115.90,378.32 116.20,377.87 116.50,377.94 116.80,377.98 117.10,377.95 117.40,378.18 117.70,377.89 118.00,378.08 118.30,378.10 118.60,378.09 118.90,378.07 119.20,377.71 119.50,377.72 119.80,377.60 120.10,378.01 120.40,378.07 120.70,378.03 121.00,378.23 121.30,377.83 121.60,378.08 121.90,377.85 122.20,377.95 122.50,377.57 122.80,377.64 123.10,377.41 123.40,377.27 123.70,376.95 124.00,377.47 124.30,377.19 124.60,377.51 124.90,376.67 125.20,376.34 125.50,375.40 125.80,374.72 126.10,372.51 126.40,370.29 126.70,366.72 127.00,361.94 127.30,359.02 127.60,357.51 127.90,358.52 128.20,361.29 128.50,365.46 128.80,369.41 129.10,372.18 129.40,374.48 129.70,375.56 130.00,376.42 130.30,376.95 130.60,376.78 130.90,377.49 131.20,377.16 131.50,377.28 131.80,377.75 132.10,377.50 132.40,377.55 132.70,377.98 133.00,377.83 133.30,377.83 133.60,377.83 133.90,377.84 134.20,378.10 134.50,378.06 134.80,377.99 135.10,378.56 135.40,378.29 135.70,377.94 136.00,378.27 136.30,378.09 136.60,378.13 136.90,378.63 137.20,378.52 137.50,378.33 137.80,378.51 138.10,378.01 138.40,378.45 138.70,378.47 139.00,378.18 139.30,378.00 139.60,378.45 139.90,378.39 140.20,378.32 140.50,378.36 140.80,378.37 141.10,378.53 141.40,378.64 141.70,378.26 142.00,378.61 142.30,378.26 142.60,378.21 142.90,378.30 143.20,378.47 143.50,378.44 143.80,378.32 144.10,378.12 144.40,378.50 144.70,378.24 145.00,378.28 145.30,378.11 145.60,378.59 145.90,378.14 146.20,377.93 146.50,378.33 146.80,378.12 147.10,378.25 147.40,378.19 147.70,377.62 148.00,377.84 148.30,378.25 148.60,377.77 148.90,377.62 149.20,377.50 149.50,377.21 149.80,376.40 150.10,375.59 150.40,374.00 150.70,371.64 151.00,368.84 151.30,366.29 151.60,364.34 151.90,363.70 152.20,364.87 152.50,367.53 152.80,370.34 153.10,373.17 153.40,374.78 153.70,376.01 154.00,376.67 154.30,377.22 154.60,377.52 154.90,377.83 155.20,377.65 155.50,377.94 155.80,378.10 156.10,377.64 156.40,378.07 156.70,377.84 157.00,377.90 157.30,377.89 157.60,377.73 157.90,377.36 158.20,377.16 158.50,376.71 158.80,376.01 159.10,375.46 159.40,375.48 159.70,376.12 160.00,376.39 160.30,376.76 160.60,377.19 160.90,377.86 161.20,378.13 161.50,378.69 161.80,378.06 162.10,378.52 162.40,378.68 162.70,378.73 163.00,378.27 163.30,378.66 163.60,378.62 163.90,378.68 164.20,378.72 164.50,378.51 164.80,378.76 165.10,378.50 165.40,378.39 165.70,378.58 166.00,378.75 166.30,379.04 166.60,378.64 166.90,379.02 167.20,378.57 167.50,378.62 167.80,378.46 168.10,378.74 168.40,378.75 168.70,378.92 169.00,378.69 169.30,378.80 169.60,378.53 169.90,378.73 170.20,379.11 170.50,378.58 170.80,378.79 171.10,378.96 171.40,378.92 171.70,378.76 172.00,378.70 172.30,378.56 172.60,379.06 172.90,378.49 173.20,378.74 173.50,378.58 173.80,378.70 174.10,378.56 174.40,378.80 174.70,378.98 175.00,378.70 175.30,378.81 175.60,378.86 175.90,378.75 176.20,379.17 176.50,378.65 176.80,378.73 177.10,379.02 177.40,378.88 177.70,378.82 178.00,379.08 178.30,378.44 178.60,378.92 178.90,379.11 179.20,378.62 179.50,379.42 179.80,378.94 180.10,378.95 180.40,378.98 180.70,378.90 181.00,379.31 181.30,378.63 181.60,378.70 181.90,378.98 182.20,378.99 182.50,378.66 182.80,379.08 183.10,378.62 183.40,378.72 183.70,378.74 184.00,378.84 184.30,378.77 184.60,378.84 184.90,378.89 185.20,378.85 185.50,378.44 185.80,378.37 186.10,378.54 186.40,378.06 186.70,377.68 187.00,376.90 187.30,376.16 187.60,376.84 187.90,377.39 188.20,376.89 188.50,377.78 188.80,378.13 189.10,377.98 189.40,378.83 189.70,378.74 190.00,378.62 190.30,378.92 190.60,378.79 190.90,379.05 191.20,379.23 191.50,378.84 191.80,379.03 192.10,379.27 192.40,378.68 192.70,378.95 193.00,378.74 193.30,379.11 193.60,378.74 193.90,379.03 194.20,378.87 194.50,379.03 194.80,378.89 195.10,378.55 195.40,378.64 195.70,379.22 196.00,379.23 196.30,378.92 196.60,379.04 196.90,378.77 197.20,378.79 197.50,378.67 197.80,378.92 198.10,379.33 198.40,378.75 198.70,379.17 199.00,379.09 199.30,379.11 199.60,378.66 199.90,378.76 200.20,379.19 200.50,378.63 200.80,378.95 201.10,378.91 201.40,378.95 201.70,379.13 202.00,378.85 202.30,379.15 202.60,379.11 202.90,378.59 203.20,378.92 203.50,378.80 203.80,378.87 204.10,378.68 204.40,378.77 204.70,379.00 205.00,378.68 205.30,378.29 205.60,378.33 205.90,378.05 206.20,377.04 206.50,376.47 206.80,375.60 207.10,375.09 207.40,374.47 207.70,374.60 208.00,375.29 208.30,376.16 208.60,376.81 208.90,377.99 209.20,378.18 209.50,378.55 209.80,378.50 210.10,378.57 210.40,378.46 210.70,378.28 211.00,378.96 211.30,378.69 211.60,378.45 211.90,378.51 212.20,378.53 212.50,378.07 212.80,377.79 213.10,376.65 213.40,376.31 213.70,375.80 214.00,375.98 214.30,376.05 214.60,376.62 214.90,377.41 215.20,377.90 215.50,377.94 215.80,378.84 216.10,378.89 216.40,378.85 216.70,379.04 217.00,379.33 217.30,379.20 217.60,379.06 217.90,379.22 218.20,378.97 218.50,379.24 218.80,379.16 219.10,379.25 219.40,378.83 219.70,378.91 220.00,379.75 220.30,379.17 220.60,379.21 220.90,379.35 221.20,379.20 221.50,379.33 221.80,378.92 222.10,379.27 222.40,379.28 222.70,378.93 223.00,379.00 223.30,379.47 223.60,379.13 223.90,379.16 224.20,379.39 224.50,379.24 224.80,378.89 225.10,379.24 225.40,379.26 225.70,379.26 226.00,379.57 226.30,379.42 226.60,379.19 226.90,379.86 227.20,379.34 227.50,379.05 227.80,379.25 228.10,379.11 228.40,379.19 228.70,379.35 229.00,379.16 229.30,379.58 229.60,379.42 229.90,379.28 230.20,379.29 230.50,379.36 230.80,379.37 231.10,379.22 231.40,379.52 231.70,379.03 232.00,379.41 232.30,379.44 232.60,379.43 232.90,379.56 233.20,379.21 233.50,379.50 233.80,378.97 234.10,379.16 234.40,379.09 234.70,379.46 235.00,378.87 235.30,379.47 235.60,379.28 235.90,379.14 236.20,378.96 236.50,379.12 236.80,379.58 237.10,378.60 237.40,378.78 237.70,378.73 238.00,378.29 238.30,377.66 238.60,376.74 238.90,376.03 239.20,375.23 239.50,375.46 239.80,375.43 240.10,376.10 240.40,377.17 240.70,377.72 241.00,378.54 241.30,378.63 241.60,378.82 241.90,379.04 242.20,379.12 242.50,379.17 242.80,379.37 243.10,379.39 243.40,379.35 243.70,379.52 244.00,379.50 244.30,379.61" fill="none" stroke="#1e1ef0" stroke-width="1.15" stroke-linejoin="round" stroke-linecap="round" />
<polyline points="25.60,437.92 25.90,437.76 26.20,437.81 26.50,438.50 26.80,438.27 27.10,437.63 27.40,437.08 27.70,437.63 28.00,437.85 28.30,437.92 28.60,437.32 28.90,436.43 29.20,436.38 29.50,436.48 29.80,437.13 30.10,436.37 30.40,436.78 30.70,435.89 31.00,436.86 31.30,436.71 31.60,436.17 31.90,436.36 32.20,436.25 32.50,436.53 32.80,436.24 33.10,436.05 33.40,436.27 33.70,436.08 34.00,436.50 34.30,436.17 34.60,435.98 34.90,435.97 35.20,436.08 35.50,436.24 35.80,436.19 36.10,435.80 36.40,436.03 36.70,436.17 37.00,436.50 37.30,436.69 37.60,436.22 37.90,436.68 38.20,436.81 38.50,436.35 38.80,436.90 39.10,435.49 39.40,436.19 39.70,435.97 40.00,435.88 40.30,435.68 40.60,435.67 40.90,436.12 41.20,435.70 41.50,436.00 41.80,435.65 42.10,436.93 42.40,436.07 42.70,435.59 43.00,435.31 43.30,434.96 43.60,435.57 43.90,436.26 44.20,435.68 44.50,435.72 44.80,436.32 45.10,435.79 45.40,435.97 45.70,435.81 46.00,436.13 46.30,435.89 46.60,435.58 46.90,435.66 47.20,436.29 47.50,436.14 47.80,436.11 48.10,436.52 48.40,435.62 48.70,436.18 49.00,435.14 49.30,435.94 49.60,435.63 49.90,435.80 50.20,435.61 50.50,436.52 50.80,435.82 51.10,436.22 51.40,435.60 51.70,435.88 52.00,435.68 52.30,435.48 52.60,435.69 52.90,435.99 53.20,436.35 53.50,435.79 53.80,435.27 54.10,436.18 54.40,435.56 54.70,435.98 55.00,435.30 55.30,435.74 55.60,435.86 55.90,435.72 56.20,436.07 56.50,435.38 56.80,436.17 57.10,435.20 57.40,436.29 57.70,436.12 58.00,435.91 58.30,435.11 58.60,435.89 58.90,435.45 59.20,435.46 59.50,435.68 59.80,436.28 60.10,435.53 60.40,435.04 60.70,435.22 61.00,435.79 61.30,435.35 61.60,435.46 61.90,436.23 62.20,435.51 62.50,435.46 62.80,435.08 63.10,435.03 63.40,435.14 63.70,435.58 64.00,436.10 64.30,435.22 64.60,435.51 64.90,435.65 65.20,434.94 65.50,435.30 65.80,435.04 66.10,435.41 66.40,435.05 66.70,435.05 67.00,434.57 67.30,435.22 67.60,435.28 67.90,435.42 68.20,435.09 68.50,435.68 68.80,434.54 69.10,434.78 69.40,434.18 69.70,433.99 70.00,433.45 70.30,433.54 70.60,434.69 70.90,434.84 71.20,433.95 71.50,433.98 71.80,433.87 72.10,433.53 72.40,432.91 72.70,432.59 73.00,433.27 73.30,432.42 73.60,430.70 73.90,428.89 74.20,424.78 74.50,420.02 74.80,412.81 75.10,404.44 75.40,396.28 75.70,391.05 76.00,389.49 76.30,393.97 76.60,401.35 76.90,410.60 77.20,418.02 77.50,424.70 77.80,428.24 78.10,430.30 78.40,431.48 78.70,432.55 79.00,433.03 79.30,433.15 79.60,433.58 79.90,434.33 80.20,434.18 80.50,434.06 80.80,434.96 81.10,435.53 81.40,435.21 81.70,434.90 82.00,435.17 82.30,435.64 82.60,435.74 82.90,435.69 83.20,435.71 83.50,435.89 83.80,435.88 84.10,435.45 84.40,435.05 84.70,435.76 85.00,435.85 85.30,436.08 85.60,435.30 85.90,435.14 86.20,434.48 86.50,433.85 86.80,433.24 87.10,431.91 87.40,428.80 87.70,426.52 88.00,424.87 88.30,423.72 88.60,424.95 88.90,427.33 89.20,428.99 89.50,432.20 89.80,434.20 90.10,435.40 90.40,436.07 90.70,436.01 91.00,436.79 91.30,436.03 91.60,436.54 91.90,437.19 92.20,437.23 92.50,437.37 92.80,437.43 93.10,437.59 93.40,437.22 93.70,438.09 94.00,437.73 94.30,437.65 94.60,437.92 94.90,437.82 95.20,438.08 95.50,437.71 95.80,437.75 96.10,437.46 96.40,437.68 96.70,437.88 97.00,437.88 97.30,438.65 97.60,438.21 97.90,438.05 98.20,438.39 98.50,438.55 98.80,438.34 99.10,437.86 99.40,438.00 99.70,438.45 100.00,437.75 100.30,437.97 100.60,437.80 100.90,438.07 101.20,437.91 101.50,438.10 101.80,438.37 102.10,437.81 102.40,439.01 102.70,438.44 103.00,438.20 103.30,438.67 103.60,438.47 103.90,438.43 104.20,438.39 104.50,438.36 104.80,438.26 105.10,438.36 105.40,438.53 105.70,438.45 106.00,438.59 106.30,438.40 106.60,438.61 106.90,438.64 107.20,438.33 107.50,438.22 107.80,438.78 108.10,438.38 108.40,438.57 108.70,438.43 109.00,438.17 109.30,438.17 109.60,438.48 109.90,438.30 110.20,438.31 110.50,438.39 110.80,438.95 111.10,438.73 111.40,438.76 111.70,438.56 112.00,438.03 112.30,438.72 112.60,439.15 112.90,438.69 113.20,438.87 113.50,438.19 113.80,438.63 114.10,438.64 114.40,438.80 114.70,438.51 115.00,438.69 115.30,438.16 115.60,438.35 115.90,438.45 116.20,438.65 116.50,438.69 116.80,438.20 117.10,438.65 117.40,439.02 117.70,438.59 118.00,438.93 118.30,438.86 118.60,438.83 118.90,438.61 119.20,438.25 119.50,438.38 119.80,438.74 120.10,438.87 120.40,438.47 120.70,438.77 121.00,437.92 121.30,438.32 121.60,438.52 121.90,438.45 122.20,438.21 122.50,438.04 122.80,438.05 123.10,438.12 123.40,438.29 123.70,437.84 124.00,437.61 124.30,437.73 124.60,437.97 124.90,437.11 125.20,436.53 125.50,436.23 125.80,435.24 126.10,433.29 126.40,430.77 126.70,427.12 127.00,423.29 127.30,420.49 127.60,419.15 127.90,419.97 128.20,422.67 128.50,426.23 128.80,429.98 129.10,432.90 129.40,434.78 129.70,436.21 130.00,436.68 130.30,437.43 130.60,437.57 130.90,437.79 131.20,437.89 131.50,437.78 131.80,438.12 132.10,437.95 132.40,438.48 132.70,438.42 133.00,438.60 133.30,438.76 133.60,439.01 133.90,438.33 134.20,438.68 134.50,438.69 134.80,438.84 135.10,439.07 135.40,438.73 135.70,439.17 136.00,439.04 136.30,438.38 136.60,438.47 136.90,438.76 137.20,438.91 137.50,439.05 137.80,439.20 138.10,439.24 138.40,439.18 138.70,438.63 139.00,439.11 139.30,438.97 139.60,438.96 139.90,439.07 140.20,438.82 140.50,439.15 140.80,438.98 141.10,438.75 141.40,438.99 141.70,438.84 142.00,438.96 142.30,439.35 142.60,439.10 142.90,439.29 143.20,439.12 143.50,438.56 143.80,439.40 144.10,439.00 144.40,438.90 144.70,438.25 145.00,439.03 145.30,438.50 145.60,439.21 145.90,438.73 146.20,438.93 146.50,438.79 146.80,438.70 147.10,438.77 147.40,439.15 147.70,438.49 148.00,438.54 148.30,438.86 148.60,438.20 148.90,438.16 149.20,437.91 149.50,437.59 149.80,437.47 150.10,436.61 150.40,435.02 150.70,432.98 151.00,430.24 151.30,427.80 151.60,426.32 151.90,426.21 152.20,427.55 152.50,429.67 152.80,431.46 153.10,434.17 153.40,436.01 153.70,436.75 154.00,437.78 154.30,437.62 154.60,438.08 154.90,438.20 155.20,438.65 155.50,438.78 155.80,438.38 156.10,438.81 156.40,438.93 156.70,438.78 157.00,438.67 157.30,438.37 157.60,438.52 157.90,438.22 158.20,438.35 158.50,437.41 158.80,436.99 159.10,436.18 159.40,436.79 159.70,436.59 160.00,437.62 160.30,437.67 160.60,438.48 160.90,438.90 161.20,439.13 161.50,438.97 161.80,439.23 162.10,439.24 162.40,439.07 162.70,438.91 163.00,439.00 163.30,439.15 163.60,439.47 163.90,439.19 164.20,439.45 164.50,439.48 164.80,439.31 165.10,439.54 165.40,439.43 165.70,439.37 166.00,439.47 166.30,439.50 166.60,439.15 166.90,439.76 167.20,439.05 167.50,439.61 167.80,439.72 168.10,439.88 168.40,439.72 168.70,439.87 169.00,439.75 169.30,439.34 169.60,440.17 169.90,439.77 170.20,439.14 170.50,439.50 170.80,439.88 171.10,439.47 171.40,439.66 171.70,439.28 172.00,439.72 172.30,440.06 172.60,440.14 172.90,440.28 173.20,439.68 173.50,439.84 173.80,439.42 174.10,439.73 174.40,439.92 174.70,439.65 175.00,439.70 175.30,439.42 175.60,439.85 175.90,439.87 176.20,439.39 176.50,439.98 176.80,439.77 177.10,439.61 177.40,440.09 177.70,439.82 178.00,440.27 178.30,439.61 178.60,439.73 178.90,439.76 179.20,439.23 179.50,440.07 179.80,439.75 180.10,439.68 180.40,439.88 180.70,439.86 181.00,439.76 181.30,439.57 181.60,439.91 181.90,439.84 182.20,439.92 182.50,439.80 182.80,439.31 183.10,439.74 183.40,439.58 183.70,439.29 184.00,439.62 184.30,439.99 184.60,439.41 184.90,439.47 185.20,439.80 185.50,439.08 185.80,439.68 186.10,439.50 186.40,438.71 186.70,438.96 187.00,438.41 187.30,437.98 187.60,438.85 187.90,438.16 188.20,438.36 188.50,439.09 188.80,439.56 189.10,439.38 189.40,439.72 189.70,440.10 190.00,439.91 190.30,440.08 190.60,439.52 190.90,439.84 191.20,440.12 191.50,439.69 191.80,439.84 192.10,439.87 192.40,440.49 192.70,439.98 193.00,439.97 193.30,440.17 193.60,439.74 193.90,439.74 194.20,439.91 194.50,440.42 194.80,440.17 195.10,440.18 195.40,440.16 195.70,440.03 196.00,439.95 196.30,440.27 196.60,440.18 196.90,440.09 197.20,440.00 197.50,440.06 197.80,440.36 198.10,440.14 198.40,439.96 198.70,440.48 199.00,439.72 199.30,440.37 199.60,439.82 199.90,440.44 200.20,440.40 200.50,439.97 200.80,440.23 201.10,440.39 201.40,439.81 201.70,439.72 202.00,440.41 202.30,439.89 202.60,440.02 202.90,440.34 203.20,439.79 203.50,440.06 203.80,440.26 204.10,439.77 204.40,440.04 204.70,440.00 205.00,439.88 205.30,439.66 205.60,439.64 205.90,439.24 206.20,439.02 206.50,438.02 206.80,437.82 207.10,436.83 207.40,436.93 207.70,437.01 208.00,436.98 208.30,437.99 208.60,438.58 208.90,439.12 209.20,439.65 209.50,439.74 209.80,439.58 210.10,439.78 210.40,439.99 210.70,440.27 211.00,439.79 211.30,440.20 211.60,440.29 211.90,439.58 212.20,439.48 212.50,439.73 212.80,439.19 213.10,438.19 213.40,438.59 213.70,437.93 214.00,437.31 214.30,437.70 214.60,438.33 214.90,438.79 215.20,439.45 215.50,439.64 215.80,439.89 216.10,439.96 216.40,440.08 216.70,440.29 217.00,440.11 217.30,440.49 217.60,440.35 217.90,439.88 218.20,440.50 218.50,440.56 218.80,440.98 219.10,440.53 219.40,440.33 219.70,440.12 220.00,440.37 220.30,440.61 220.60,440.71 220.90,440.27 221.20,440.20 221.50,440.64 221.80,440.18 222.10,440.22 222.40,440.63 222.70,440.60 223.00,440.58 223.30,440.60 223.60,440.01 223.90,440.51 224.20,440.48 224.50,440.66 224.80,440.34 225.10,440.56 225.40,440.55 225.70,440.06 226.00,440.06 226.30,440.78 226.60,440.74 226.90,440.79 227.20,440.74 227.50,440.58 227.80,440.80 228.10,440.55 228.40,440.65 228.70,440.51 229.00,440.21 229.30,440.33 229.60,440.68 229.90,440.93 230.20,440.59 230.50,440.74 230.80,440.55 231.10,440.31 231.40,440.64 231.70,440.74 232.00,440.65 232.30,440.60 232.60,440.77 232.90,440.75 233.20,440.84 233.50,440.79 233.80,440.74 234.10,440.71 234.40,440.62 234.70,440.43 235.00,440.88 235.30,440.57 235.60,440.88 235.90,440.73 236.20,440.67 236.50,440.42 236.80,440.18 237.10,440.93 237.40,440.14 237.70,440.18 238.00,439.90 238.30,439.42 238.60,438.83 238.90,438.20 239.20,438.11 239.50,437.94 239.80,438.07 240.10,438.59 240.40,438.99 240.70,439.74 241.00,439.94 241.30,440.65 241.60,440.84 241.90,440.73 242.20,440.48 242.50,440.51 242.80,440.83 243.10,441.14 243.40,440.71 243.70,440.89 244.00,441.15 244.30,440.65" fill="none" stroke="#ff1414" stroke-width="1.15" stroke-linejoin="round" stroke-linecap="round" />
<polyline points="25.60,490.35 25.90,490.73 26.20,489.83 26.50,489.41 26.80,489.33 27.10,490.46 27.40,489.96 27.70,490.97 28.00,490.98 28.30,490.79 28.60,490.58 28.90,490.58 29.20,490.83 29.50,491.71 29.80,490.08 30.10,491.41 30.40,490.61 30.70,491.31 31.00,490.20 31.30,491.88 31.60,490.72 31.90,491.14 32.20,490.56 32.50,491.38 32.80,491.14 33.10,491.67 33.40,492.68 33.70,492.02 34.00,490.95 34.30,490.52 34.60,492.05 34.90,491.43 35.20,492.79 35.50,492.33 35.80,492.89 36.10,493.67 36.40,493.53 36.70,493.03 37.00,492.86 37.30,494.25 37.60,493.69 37.90,494.08 38.20,493.97 38.50,494.73 38.80,494.25 39.10,494.20 39.40,495.15 39.70,494.69 40.00,495.36 40.30,495.54 40.60,494.80 40.90,495.81 41.20,495.76 41.50,496.22 41.80,495.54 42.10,495.90 42.40,496.00 42.70,496.61 43.00,495.27 43.30,495.89 43.60,496.36 43.90,496.67 44.20,497.06 44.50,497.15 44.80,496.04 45.10,496.84 45.40,497.84 45.70,495.89 46.00,497.52 46.30,496.77 46.60,497.07 46.90,497.52 47.20,498.13 47.50,497.61 47.80,498.37 48.10,497.98 48.40,497.77 48.70,498.44 49.00,498.55 49.30,497.92 49.60,496.65 49.90,498.50 50.20,496.64 50.50,497.00 50.80,497.47 51.10,497.52 51.40,498.79 51.70,498.76 52.00,498.53 52.30,498.40 52.60,497.20 52.90,497.37 53.20,498.38 53.50,498.58 53.80,498.20 54.10,497.82 54.40,498.38 54.70,498.39 55.00,498.38 55.30,498.00 55.60,498.36 55.90,498.84 56.20,498.94 56.50,497.26 56.80,498.38 57.10,498.77 57.40,499.04 57.70,497.97 58.00,497.82 58.30,497.92 58.60,498.20 58.90,498.12 59.20,497.99 59.50,498.65 59.80,499.17 60.10,498.43 60.40,498.24 60.70,499.63 61.00,498.31 61.30,498.42 61.60,498.79 61.90,498.84 62.20,499.09 62.50,498.07 62.80,498.73 63.10,498.44 63.40,498.09 63.70,499.78 64.00,498.85 64.30,499.11 64.60,498.92 64.90,498.56 65.20,498.70 65.50,499.93 65.80,498.91 66.10,498.93 66.40,499.09 66.70,498.72 67.00,498.72 67.30,498.14 67.60,499.50 67.90,498.68 68.20,498.93 68.50,499.09 68.80,498.45 69.10,498.18 69.40,498.62 69.70,498.52 70.00,498.87 70.30,497.70 70.60,497.38 70.90,498.12 71.20,497.90 71.50,497.88 71.80,497.10 72.10,497.19 72.40,498.16 72.70,496.89 73.00,496.07 73.30,495.97 73.60,495.04 73.90,492.45 74.20,490.29 74.50,486.07 74.80,478.53 75.10,470.44 75.40,463.94 75.70,459.35 76.00,459.23 76.30,462.61 76.60,470.07 76.90,476.72 77.20,484.21 77.50,488.58 77.80,492.58 78.10,495.31 78.40,495.77 78.70,496.40 79.00,497.44 79.30,497.19 79.60,497.84 79.90,498.30 80.20,497.61 80.50,499.06 80.80,499.16 81.10,498.91 81.40,499.01 81.70,498.99 82.00,499.03 82.30,499.19 82.60,500.05 82.90,499.77 83.20,499.70 83.50,498.80 83.80,499.87 84.10,499.64 84.40,498.55 84.70,498.57 85.00,499.36 85.30,499.21 85.60,498.84 85.90,499.80 86.20,498.71 86.50,498.50 86.80,496.65 87.10,495.93 87.40,494.18 87.70,491.34 88.00,490.90 88.30,489.71 88.60,490.75 88.90,492.50 89.20,493.80 89.50,496.86 89.80,496.77 90.10,499.10 90.40,499.24 90.70,499.59 91.00,499.49 91.30,500.17 91.60,501.37 91.90,501.28 92.20,500.70 92.50,499.84 92.80,500.38 93.10,500.36 93.40,500.13 93.70,500.95 94.00,500.71 94.30,501.00 94.60,501.57 94.90,501.63 95.20,500.51 95.50,500.92 95.80,501.45 96.10,502.04 96.40,501.77 96.70,501.77 97.00,501.83 97.30,502.17 97.60,501.50 97.90,501.69 98.20,501.32 98.50,500.97 98.80,501.17 99.10,501.70 99.40,500.99 99.70,501.48 100.00,501.08 100.30,501.43 100.60,502.13 100.90,501.41 101.20,500.94 101.50,502.10 101.80,501.61 102.10,501.76 102.40,501.14 102.70,502.17 103.00,501.14 103.30,501.22 103.60,502.10 103.90,501.24 104.20,501.27 104.50,501.94 104.80,501.19 105.10,501.94 105.40,502.37 105.70,501.91 106.00,502.12 106.30,501.68 106.60,502.37 106.90,501.86 107.20,501.30 107.50,502.37 107.80,502.05 108.10,502.35 108.40,501.06 108.70,501.59 109.00,502.29 109.30,501.45 109.60,501.39 109.90,501.52 110.20,502.12 110.50,501.90 110.80,501.93 111.10,500.88 111.40,501.83 111.70,502.12 112.00,501.83 112.30,502.07 112.60,502.04 112.90,501.79 113.20,501.70 113.50,501.79 113.80,502.48 114.10,502.28 114.40,502.19 114.70,501.57 115.00,501.68 115.30,501.99 115.60,501.75 115.90,501.46 116.20,501.63 116.50,501.80 116.80,502.06 117.10,502.09 117.40,501.63 117.70,502.21 118.00,501.37 118.30,502.14 118.60,502.08 118.90,501.97 119.20,501.73 119.50,501.88 119.80,502.01 120.10,502.07 120.40,501.86 120.70,501.76 121.00,501.37 121.30,501.95 121.60,502.31 121.90,502.27 122.20,502.05 122.50,502.02 122.80,501.91 123.10,502.01 123.40,501.76 123.70,501.26 124.00,501.53 124.30,501.65 124.60,500.58 124.90,500.73 125.20,500.62 125.50,500.03 125.80,498.97 126.10,497.06 126.40,494.36 126.70,491.44 127.00,487.56 127.30,484.64 127.60,482.87 127.90,484.32 128.20,486.97 128.50,489.92 128.80,493.57 129.10,496.51 129.40,498.46 129.70,499.98 130.00,501.14 130.30,501.23 130.60,500.86 130.90,501.26 131.20,501.30 131.50,501.48 131.80,501.56 132.10,501.76 132.40,501.78 132.70,502.01 133.00,502.05 133.30,502.79 133.60,502.20 133.90,502.64 134.20,503.07 134.50,501.94 134.80,502.53 135.10,502.34 135.40,502.68 135.70,501.84 136.00,502.19 136.30,502.46 136.60,501.93 136.90,502.67 137.20,503.24 137.50,502.49 137.80,502.92 138.10,502.28 138.40,502.74 138.70,502.94 139.00,502.80 139.30,502.74 139.60,502.52 139.90,502.78 140.20,501.85 140.50,502.43 140.80,502.74 141.10,502.72 141.40,503.04 141.70,502.48 142.00,503.27 142.30,503.02 142.60,502.82 142.90,502.41 143.20,502.36 143.50,502.86 143.80,502.21 144.10,502.61 144.40,502.65 144.70,502.71 145.00,502.54 145.30,502.99 145.60,502.26 145.90,503.19 146.20,503.04 146.50,502.96 146.80,502.20 147.10,502.56 147.40,502.75 147.70,502.51 148.00,502.30 148.30,502.10 148.60,501.76 148.90,501.79 149.20,502.11 149.50,501.68 149.80,500.76 150.10,499.45 150.40,498.18 150.70,496.08 151.00,493.38 151.30,492.17 151.60,489.67 151.90,489.02 152.20,490.06 152.50,492.47 152.80,495.22 153.10,497.73 153.40,499.01 153.70,501.15 154.00,500.73 154.30,501.59 154.60,502.22 154.90,501.81 155.20,501.66 155.50,501.97 155.80,502.29 156.10,502.49 156.40,503.27 156.70,502.85 157.00,502.94 157.30,502.73 157.60,502.28 157.90,502.52 158.20,502.30 158.50,501.54 158.80,501.47 159.10,501.31 159.40,500.09 159.70,500.78 160.00,501.37 160.30,501.04 160.60,502.29 160.90,502.98 161.20,502.62 161.50,502.43 161.80,502.86 162.10,503.57 162.40,502.95 162.70,502.99 163.00,503.20 163.30,503.44 163.60,502.97 163.90,503.16 164.20,503.50 164.50,503.40 164.80,503.73 165.10,503.06 165.40,503.77 165.70,504.02 166.00,503.89 166.30,503.33 166.60,503.67 166.90,504.08 167.20,503.05 167.50,503.36 167.80,503.24 168.10,503.64 168.40,503.51 168.70,503.54 169.00,503.60 169.30,503.71 169.60,503.59 169.90,503.29 170.20,503.86 170.50,504.07 170.80,503.52 171.10,503.44 171.40,504.02 171.70,503.43 172.00,503.91 172.30,503.43 172.60,503.47 172.90,503.55 173.20,503.53 173.50,503.39 173.80,502.92 174.10,504.12 174.40,504.24 174.70,503.79 175.00,503.19 175.30,504.09 175.60,503.83 175.90,504.23 176.20,503.65 176.50,503.76 176.80,503.76 177.10,503.34 177.40,503.59 177.70,503.43 178.00,503.62 178.30,503.43 178.60,503.57 178.90,504.08 179.20,503.82 179.50,503.56 179.80,503.96 180.10,504.14 180.40,503.59 180.70,503.45 181.00,503.22 181.30,503.92 181.60,503.88 181.90,503.10 182.20,504.14 182.50,504.38 182.80,504.07 183.10,504.48 183.40,503.76 183.70,503.34 184.00,503.98 184.30,503.67 184.60,503.84 184.90,503.72 185.20,502.95 185.50,503.42 185.80,503.47 186.10,503.57 186.40,503.64 186.70,503.58 187.00,503.09 187.30,502.90 187.60,502.70 187.90,502.56 188.20,503.03 188.50,503.33 188.80,503.30 189.10,503.41 189.40,503.94 189.70,503.84 190.00,504.40 190.30,503.80 190.60,503.66 190.90,503.77 191.20,504.54 191.50,504.07 191.80,503.67 192.10,504.21 192.40,503.71 192.70,503.86 193.00,503.97 193.30,504.21 193.60,503.68 193.90,504.44 194.20,503.97 194.50,503.85 194.80,504.14 195.10,504.38 195.40,504.78 195.70,503.68 196.00,504.13 196.30,503.97 196.60,504.41 196.90,504.54 197.20,504.16 197.50,504.59 197.80,504.24 198.10,504.70 198.40,504.00 198.70,504.74 199.00,503.34 199.30,503.73 199.60,504.40 199.90,504.56 200.20,503.77 200.50,504.04 200.80,504.30 201.10,503.99 201.40,504.57 201.70,503.87 202.00,504.63 202.30,504.70 202.60,504.29 202.90,503.88 203.20,504.09 203.50,503.86 203.80,503.82 204.10,503.39 204.40,504.64 204.70,503.84 205.00,503.75 205.30,503.48 205.60,503.54 205.90,503.21 206.20,501.82 206.50,502.31 206.80,501.10 207.10,500.36 207.40,499.47 207.70,499.98 208.00,500.45 208.30,501.90 208.60,501.99 208.90,503.00 209.20,503.27 209.50,503.55 209.80,503.78 210.10,503.47 210.40,504.11 210.70,504.29 211.00,504.24 211.30,504.22 211.60,503.93 211.90,504.10 212.20,503.72 212.50,503.51 212.80,503.30 213.10,502.56 213.40,501.90 213.70,500.89 214.00,500.43 214.30,501.40 214.60,502.02 214.90,502.63 215.20,503.27 215.50,503.40 215.80,503.04 216.10,504.37 216.40,504.47 216.70,504.57 217.00,504.91 217.30,505.03 217.60,504.73 217.90,504.98 218.20,504.78 218.50,504.33 218.80,504.51 219.10,504.27 219.40,504.46 219.70,504.72 220.00,504.63 220.30,504.72 220.60,504.24 220.90,504.38 221.20,504.77 221.50,505.02 221.80,505.45 222.10,504.22 222.40,504.43 222.70,504.96 223.00,504.73 223.30,504.93 223.60,505.17 223.90,504.51 224.20,504.54 224.50,504.76 224.80,504.95 225.10,505.02 225.40,505.14 225.70,504.73 226.00,505.05 226.30,504.92 226.60,505.45 226.90,505.35 227.20,505.16 227.50,504.86 227.80,504.20 228.10,505.44 228.40,504.55 228.70,504.62 229.00,505.13 229.30,505.42 229.60,504.92 229.90,504.84 230.20,504.80 230.50,505.11 230.80,505.08 231.10,505.16 231.40,504.47 231.70,505.38 232.00,504.70 232.30,504.86 232.60,505.12 232.90,505.28 233.20,504.97 233.50,504.56 233.80,505.27 234.10,505.03 234.40,505.09 234.70,504.93 235.00,505.14 235.30,505.34 235.60,505.08 235.90,505.10 236.20,504.73 236.50,504.96 236.80,504.61 237.10,504.18 237.40,504.65 237.70,504.26 238.00,503.81 238.30,503.18 238.60,502.98 238.90,502.05 239.20,502.02 239.50,501.02 239.80,502.17 240.10,502.26 240.40,503.20 240.70,503.66 241.00,504.29 241.30,504.95 241.60,505.03 241.90,504.73 242.20,505.14 242.50,504.92 242.80,504.53 243.10,505.07 243.40,505.39 243.70,505.78 244.00,505.79 244.30,505.01" fill="none" stroke="#505050" stroke-width="1.15" stroke-linejoin="round" stroke-linecap="round" />
<path d="M75.80,194.10 L76.86,196.54 L79.51,196.79 L77.51,198.56 L78.09,201.16 L75.80,199.80 L73.51,201.16 L74.09,198.56 L72.09,196.79 L74.74,196.54Z" fill="#ff0a0a"/>
<path d="M88.00,225.20 L89.06,227.64 L91.71,227.89 L89.71,229.66 L90.29,232.26 L88.00,230.90 L85.71,232.26 L86.29,229.66 L84.29,227.89 L86.94,227.64Z" fill="#ff0a0a"/>
<path d="M127.60,219.70 L128.66,222.14 L131.31,222.39 L129.31,224.16 L129.89,226.76 L127.60,225.40 L125.31,226.76 L125.89,224.16 L123.89,222.39 L126.54,222.14Z" fill="#ff0a0a"/>
<path d="M151.70,226.40 L152.76,228.84 L155.41,229.09 L153.41,230.86 L153.99,233.46 L151.70,232.10 L149.41,233.46 L149.99,230.86 L147.99,229.09 L150.64,228.84Z" fill="#ff0a0a"/>
<path d="M159.20,237.40 L160.26,239.84 L162.91,240.09 L160.91,241.86 L161.49,244.46 L159.20,243.10 L156.91,244.46 L157.49,241.86 L155.49,240.09 L158.14,239.84Z" fill="#ff0a0a"/>
<path d="M187.80,238.80 L188.86,241.24 L191.51,241.49 L189.51,243.26 L190.09,245.86 L187.80,244.50 L185.51,245.86 L186.09,243.26 L184.09,241.49 L186.74,241.24Z" fill="#ff0a0a"/>
<path d="M207.00,238.30 L208.06,240.74 L210.71,240.99 L208.71,242.76 L209.29,245.36 L207.00,244.00 L204.71,245.36 L205.29,242.76 L203.29,240.99 L205.94,240.74Z" fill="#ff0a0a"/>
<path d="M214.90,238.70 L215.96,241.14 L218.61,241.39 L216.61,243.16 L217.19,245.76 L214.90,244.40 L212.61,245.76 L213.19,243.16 L211.19,241.39 L213.84,241.14Z" fill="#ff0a0a"/>
<path d="M239.50,239.10 L240.56,241.54 L243.21,241.79 L241.21,243.56 L241.79,246.16 L239.50,244.80 L237.21,246.16 L237.79,243.56 L235.79,241.79 L238.44,241.54Z" fill="#ff0a0a"/>
<path d="M69.60,260.80 L70.69,263.30 L73.40,263.56 L71.36,265.37 L71.95,268.04 L69.60,266.65 L67.25,268.04 L67.84,265.37 L65.80,263.56 L68.51,263.30Z" fill="#bdb530"/>
<path d="M69.10,360.60 L70.19,363.10 L72.90,363.36 L70.86,365.17 L71.45,367.84 L69.10,366.45 L66.75,367.84 L67.34,365.17 L65.30,363.36 L68.01,363.10Z" fill="#bdb530"/>
<path d="M69.50,423.40 L70.59,425.90 L73.30,426.16 L71.26,427.97 L71.85,430.64 L69.50,429.25 L67.15,430.64 L67.74,427.97 L65.70,426.16 L68.41,425.90Z" fill="#bdb530"/>
<path d="M147.00,194.80 L148.06,197.24 L150.71,197.49 L148.71,199.26 L149.29,201.86 L147.00,200.50 L144.71,201.86 L145.29,199.26 L143.29,197.49 L145.94,197.24Z" fill="#ff0a0a"/>
<path d="M147.50,208.90 L148.59,211.40 L151.30,211.66 L149.26,213.47 L149.85,216.14 L147.50,214.75 L145.15,216.14 L145.74,213.47 L143.70,211.66 L146.41,211.40Z" fill="#bdb530"/>
<text x="153.6" y="201.6" font-size="8.9" fill="#ff1010">CeO<tspan font-size="6.1" dy="2.6">2</tspan><tspan dy="-2.6"> (PDF# 43-1002)</tspan></text>
<text x="153.2" y="215.8" font-size="8.9" fill="#9c9a34">Bi<tspan font-size="6.1" dy="2.6">2</tspan><tspan dy="-2.6">O</tspan><tspan font-size="6.1" dy="2.6">3</tspan><tspan dy="-2.6"> (PDF# 76-1730)</tspan></text>
<text x="243.6" y="233.0" font-size="8.9" text-anchor="end" fill="#222">R-Bi<tspan font-size="5.8" dy="2">1</tspan><tspan dy="-2">-CeO</tspan><tspan font-size="5.8" dy="2">2</tspan></text>
<text x="243.6" y="303.5" font-size="8.9" text-anchor="end" fill="#222">80%D-Bi<tspan font-size="5.8" dy="2">1</tspan><tspan dy="-2">-CeO</tspan><tspan font-size="5.8" dy="2">2</tspan></text>
<text x="243.6" y="366.0" font-size="8.9" text-anchor="end" fill="#222">70%D-Bi<tspan font-size="5.8" dy="2">1</tspan><tspan dy="-2">-CeO</tspan><tspan font-size="5.8" dy="2">2</tspan></text>
<text x="243.6" y="430.7" font-size="8.9" text-anchor="end" fill="#222">50%D-Bi<tspan font-size="5.8" dy="2">1</tspan><tspan dy="-2">-CeO</tspan><tspan font-size="5.8" dy="2">2</tspan></text>
<text x="243.6" y="491.0" font-size="8.9" text-anchor="end" fill="#222">Fresh-Bi<tspan font-size="5.8" dy="2">1</tspan><tspan dy="-2">-CeO</tspan><tspan font-size="5.8" dy="2">2</tspan></text>
<rect x="25.2" y="191.4" width="219.5" height="318.6" fill="none" stroke="#222" stroke-width="1.1"/>
<line x1="25.20" y1="510.00" x2="25.20" y2="514.60" stroke="#222" stroke-width="1" />
<line x1="38.87" y1="510.00" x2="38.87" y2="512.60" stroke="#222" stroke-width="1" />
<line x1="52.53" y1="510.00" x2="52.53" y2="514.60" stroke="#222" stroke-width="1" />
<line x1="66.20" y1="510.00" x2="66.20" y2="512.60" stroke="#222" stroke-width="1" />
<line x1="79.86" y1="510.00" x2="79.86" y2="514.60" stroke="#222" stroke-width="1" />
<line x1="93.53" y1="510.00" x2="93.53" y2="512.60" stroke="#222" stroke-width="1" />
<line x1="107.19" y1="510.00" x2="107.19" y2="514.60" stroke="#222" stroke-width="1" />
<line x1="120.86" y1="510.00" x2="120.86" y2="512.60" stroke="#222" stroke-width="1" />
<line x1="134.52" y1="510.00" x2="134.52" y2="514.60" stroke="#222" stroke-width="1" />
<line x1="148.19" y1="510.00" x2="148.19" y2="512.60" stroke="#222" stroke-width="1" />
<line x1="161.85" y1="510.00" x2="161.85" y2="514.60" stroke="#222" stroke-width="1" />
<line x1="175.51" y1="510.00" x2="175.51" y2="512.60" stroke="#222" stroke-width="1" />
<line x1="189.18" y1="510.00" x2="189.18" y2="514.60" stroke="#222" stroke-width="1" />
<line x1="202.84" y1="510.00" x2="202.84" y2="512.60" stroke="#222" stroke-width="1" />
<line x1="216.51" y1="510.00" x2="216.51" y2="514.60" stroke="#222" stroke-width="1" />
<line x1="230.17" y1="510.00" x2="230.17" y2="512.60" stroke="#222" stroke-width="1" />
<line x1="243.84" y1="510.00" x2="243.84" y2="514.60" stroke="#222" stroke-width="1" />
<text x="25.20" y="526.20" font-size="9.3" text-anchor="middle" fill="#222" font-weight="normal" >10</text>
<text x="52.53" y="526.20" font-size="9.3" text-anchor="middle" fill="#222" font-weight="normal" >20</text>
<text x="79.86" y="526.20" font-size="9.3" text-anchor="middle" fill="#222" font-weight="normal" >30</text>
<text x="107.19" y="526.20" font-size="9.3" text-anchor="middle" fill="#222" font-weight="normal" >40</text>
<text x="134.52" y="526.20" font-size="9.3" text-anchor="middle" fill="#222" font-weight="normal" >50</text>
<text x="161.85" y="526.20" font-size="9.3" text-anchor="middle" fill="#222" font-weight="normal" >60</text>
<text x="189.18" y="526.20" font-size="9.3" text-anchor="middle" fill="#222" font-weight="normal" >70</text>
<text x="216.51" y="526.20" font-size="9.3" text-anchor="middle" fill="#222" font-weight="normal" >80</text>
<text x="243.84" y="526.20" font-size="9.3" text-anchor="middle" fill="#222" font-weight="normal" >90</text>
<text x="96.60" y="542.70" font-size="12.6" text-anchor="start" fill="#111" font-weight="normal" >2θ (degree)</text>
<text x="16.20" y="344.60" font-size="12.8" text-anchor="middle" fill="#111" font-weight="normal" transform="rotate(-90 16.2 344.6)">Intensity (a.u.)</text>
<text x="250.60" y="197.20" font-size="20" text-anchor="start" fill="#000" font-weight="normal" >d</text>
<line x1="414.40" y1="196.50" x2="414.40" y2="316.90" stroke="#dcdcdc" stroke-width="0.7" />
<line x1="281.40" y1="256.60" x2="494.20" y2="256.60" stroke="#e0e0e0" stroke-width="0.7" />
<path d="M281.40,256.60 L281.53,256.60 L281.69,256.60 L281.88,256.60 L282.10,256.60 L282.33,256.60 L282.57,256.60 L282.82,256.60 L283.07,256.60 L283.31,256.60 L283.53,256.60 L283.74,256.60 L283.95,256.60 L284.17,256.60 L284.38,256.60 L284.59,256.60 L284.80,256.60 L285.02,256.60 L285.23,256.60 L285.44,256.60 L285.66,256.60 L285.87,256.60 L286.08,256.60 L286.29,256.60 L286.51,256.60 L286.72,256.60 L286.93,256.60 L287.15,256.60 L287.36,256.60 L287.57,256.60 L287.78,256.60 L288.00,256.60 L288.21,256.60 L288.42,256.60 L288.64,256.60 L288.85,256.60 L289.06,256.60 L289.27,256.60 L289.49,256.60 L289.70,256.60 L289.91,256.60 L290.12,256.60 L290.34,256.60 L290.55,256.60 L290.76,256.60 L290.98,256.60 L291.19,256.60 L291.40,256.60 L291.61,256.60 L291.83,256.60 L292.04,256.60 L292.25,256.60 L292.47,256.60 L292.68,256.60 L292.89,256.60 L293.10,256.60 L293.32,256.60 L293.53,256.60 L293.74,256.60 L293.96,256.60 L294.17,256.60 L294.38,256.60 L294.59,256.60 L294.81,256.60 L295.02,256.60 L295.23,256.60 L295.44,256.60 L295.66,256.60 L295.87,256.60 L296.08,256.60 L296.30,256.60 L296.50,256.61 L296.70,256.64 L296.90,256.68 L297.10,256.72 L297.29,256.75 L297.50,256.77 L297.71,256.78 L297.93,256.75 L298.17,256.70 L298.42,256.60 L298.70,256.52 L299.01,256.48 L299.33,256.47 L299.66,256.45 L300.00,256.37 L300.35,256.22 L300.68,255.96 L301.01,255.56 L301.32,254.98 L301.62,254.19 L301.89,253.12 L302.15,251.76 L302.41,250.17 L302.66,248.42 L302.90,246.59 L303.13,244.74 L303.36,242.94 L303.58,241.27 L303.80,239.77 L304.01,238.54 L304.22,237.49 L304.42,236.53 L304.61,235.65 L304.79,234.86 L304.97,234.18 L305.15,233.60 L305.33,233.14 L305.51,232.80 L305.69,232.59 L305.87,232.52 L306.06,232.60 L306.24,232.84 L306.43,233.21 L306.62,233.71 L306.80,234.33 L306.99,235.03 L307.18,235.82 L307.36,236.68 L307.55,237.59 L307.73,238.54 L307.92,239.61 L308.10,240.86 L308.28,242.25 L308.47,243.72 L308.65,245.24 L308.83,246.75 L309.02,248.20 L309.21,249.56 L309.40,250.77 L309.60,251.78 L309.79,252.63 L309.99,253.36 L310.18,254.00 L310.38,254.55 L310.58,255.02 L310.78,255.42 L311.00,255.77 L311.23,256.08 L311.47,256.35 L311.72,256.60 L312.00,256.81 L312.30,256.95 L312.62,257.03 L312.95,257.06 L313.29,257.05 L313.63,257.00 L313.96,256.93 L314.29,256.83 L314.61,256.72 L314.92,256.60 L315.20,256.46 L315.47,256.28 L315.74,256.06 L315.99,255.82 L316.25,255.57 L316.50,255.29 L316.76,255.01 L317.02,254.73 L317.29,254.46 L317.58,254.19 L317.87,253.91 L318.18,253.60 L318.49,253.27 L318.81,252.93 L319.14,252.59 L319.47,252.28 L319.79,252.00 L320.12,251.76 L320.45,251.58 L320.77,251.48 L321.09,251.47 L321.41,251.53 L321.74,251.65 L322.07,251.82 L322.40,252.03 L322.72,252.25 L323.04,252.47 L323.36,252.68 L323.66,252.86 L323.96,252.99 L324.25,253.10 L324.52,253.22 L324.78,253.35 L325.04,253.47 L325.29,253.57 L325.54,253.65 L325.80,253.70 L326.06,253.72 L326.33,253.68 L326.62,253.59 L326.92,253.44 L327.23,253.24 L327.56,252.99 L327.88,252.70 L328.22,252.39 L328.55,252.04 L328.88,251.69 L329.20,251.32 L329.51,250.95 L329.81,250.58 L330.10,250.19 L330.37,249.77 L330.64,249.31 L330.90,248.84 L331.16,248.36 L331.41,247.89 L331.67,247.45 L331.93,247.04 L332.20,246.67 L332.47,246.37 L332.76,246.10 L333.05,245.85 L333.36,245.61 L333.66,245.41 L333.97,245.24 L334.27,245.11 L334.57,245.03 L334.86,245.01 L335.14,245.05 L335.40,245.16 L335.64,245.36 L335.88,245.63 L336.10,245.97 L336.32,246.37 L336.53,246.82 L336.73,247.30 L336.93,247.81 L337.13,248.33 L337.33,248.86 L337.53,249.38 L337.72,249.93 L337.92,250.54 L338.11,251.20 L338.30,251.89 L338.49,252.57 L338.68,253.25 L338.86,253.89 L339.04,254.47 L339.21,254.98 L339.39,255.40 L339.56,255.72 L339.72,255.96 L339.87,256.15 L340.02,256.28 L340.17,256.37 L340.32,256.44 L340.48,256.48 L340.64,256.51 L340.81,256.55 L340.98,256.60 L341.17,256.65 L341.37,256.68 L341.58,256.69 L341.79,256.69 L342.00,256.68 L342.22,256.66 L342.44,256.64 L342.65,256.62 L342.87,256.61 L343.08,256.60 L343.29,256.60 L343.50,256.60 L343.71,256.60 L343.92,256.60 L344.13,256.60 L344.34,256.60 L344.55,256.60 L344.76,256.60 L344.97,256.60 L345.18,256.60 L345.39,256.60 L345.60,256.60 L345.81,256.60 L346.02,256.60 L346.23,256.60 L346.44,256.60 L346.65,256.60 L346.86,256.60 L347.07,256.60 L347.28,256.60 L347.49,256.60 L347.70,256.60 L347.91,256.60 L348.12,256.60 L348.33,256.60 L348.54,256.60 L348.75,256.60 L348.95,256.60 L349.16,256.60 L349.37,256.60 L349.58,256.60 L349.79,256.60 L350.00,256.60 L350.21,256.60 L350.42,256.60 L350.63,256.60 L350.84,256.60 L351.05,256.60 L351.26,256.60 L351.47,256.60 L351.68,256.60 L351.89,256.60 L352.10,256.60 L352.31,256.60 L352.52,256.60 L352.73,256.60 L352.94,256.60 L353.15,256.60 L353.36,256.60 L353.57,256.60 L353.78,256.60 L353.99,256.60 L354.20,256.60 L354.41,256.60 L354.62,256.60 L354.83,256.60 L355.04,256.60 L355.25,256.60 L355.46,256.60 L355.67,256.60 L355.88,256.60 L356.09,256.60 L356.30,256.60 L356.51,256.60 L356.72,256.60 L356.93,256.60 L357.14,256.60 L357.35,256.60 L357.56,256.60 L357.76,256.60 L357.97,256.60 L358.18,256.60 L358.39,256.60 L358.60,256.60 L358.81,256.60 L359.02,256.60 L359.23,256.60 L359.44,256.60 L359.65,256.60 L359.86,256.60 L360.07,256.60 L360.28,256.60 L360.49,256.60 L360.70,256.60 L360.91,256.60 L361.12,256.60 L361.33,256.60 L361.54,256.60 L361.75,256.60 L361.96,256.60 L362.17,256.60 L362.38,256.60 L362.59,256.60 L362.80,256.60 L363.01,256.60 L363.22,256.60 L363.43,256.60 L363.64,256.60 L363.85,256.60 L364.06,256.60 L364.27,256.60 L364.48,256.60 L364.69,256.60 L364.90,256.60 L365.11,256.60 L365.32,256.60 L365.53,256.60 L365.74,256.60 L365.95,256.60 L366.16,256.60 L366.36,256.60 L366.57,256.60 L366.78,256.60 L366.99,256.60 L367.20,256.60 L367.41,256.60 L367.62,256.60 L367.83,256.60 L368.04,256.60 L368.25,256.60 L368.46,256.60 L368.67,256.60 L368.88,256.60 L369.09,256.60 L369.30,256.60 L369.51,256.60 L369.72,256.60 L369.93,256.60 L370.14,256.60 L370.35,256.60 L370.56,256.60 L370.77,256.60 L370.98,256.60 L371.19,256.60 L371.40,256.60 L371.61,256.60 L371.82,256.60 L372.03,256.60 L372.24,256.60 L372.45,256.60 L372.66,256.60 L372.87,256.60 L373.08,256.60 L373.29,256.60 L373.50,256.60 L373.71,256.60 L373.92,256.60 L374.13,256.60 L374.34,256.60 L374.55,256.60 L374.76,256.60 L374.97,256.60 L375.17,256.60 L375.38,256.60 L375.59,256.60 L375.80,256.60 L376.01,256.60 L376.22,256.60 L376.43,256.60 L376.64,256.60 L376.85,256.60 L377.06,256.60 L377.27,256.60 L377.48,256.60 L377.69,256.60 L377.90,256.60 L378.11,256.60 L378.32,256.60 L378.53,256.60 L378.74,256.60 L378.95,256.60 L379.16,256.60 L379.37,256.60 L379.58,256.60 L379.79,256.60 L380.00,256.60 L380.21,256.60 L380.42,256.60 L380.63,256.60 L380.84,256.60 L381.05,256.60 L381.26,256.60 L381.47,256.60 L381.68,256.60 L381.89,256.60 L382.10,256.60 L382.31,256.60 L382.52,256.60 L382.73,256.60 L382.94,256.60 L383.15,256.60 L383.36,256.60 L383.57,256.60 L383.78,256.60 L383.98,256.60 L384.19,256.60 L384.40,256.60 L384.61,256.60 L384.82,256.60 L385.03,256.60 L385.24,256.60 L385.45,256.60 L385.66,256.60 L385.87,256.60 L386.08,256.60 L386.29,256.60 L386.50,256.60 L386.71,256.60 L386.92,256.60 L387.13,256.60 L387.34,256.60 L387.55,256.60 L387.76,256.60 L387.97,256.60 L388.18,256.60 L388.39,256.60 L388.60,256.60 L388.81,256.60 L389.02,256.60 L389.23,256.60 L389.44,256.60 L389.65,256.60 L389.86,256.60 L390.07,256.60 L390.28,256.60 L390.49,256.60 L390.70,256.60 L390.91,256.60 L391.12,256.60 L391.33,256.60 L391.54,256.60 L391.75,256.60 L391.96,256.60 L392.17,256.60 L392.38,256.60 L392.58,256.60 L392.79,256.60 L393.00,256.60 L393.21,256.60 L393.42,256.60 L393.63,256.60 L393.84,256.60 L394.05,256.60 L394.26,256.60 L394.47,256.60 L394.68,256.60 L394.89,256.60 L395.10,256.60 L395.31,256.60 L395.52,256.60 L395.73,256.60 L395.94,256.60 L396.15,256.60 L396.36,256.60 L396.57,256.60 L396.78,256.60 L396.99,256.60 L397.20,256.60 L397.41,256.60 L397.62,256.60 L397.83,256.60 L398.04,256.60 L398.25,256.60 L398.46,256.60 L398.67,256.60 L398.88,256.60 L399.09,256.60 L399.30,256.60 L399.51,256.60 L399.72,256.60 L399.93,256.60 L400.14,256.60 L400.35,256.60 L400.56,256.60 L400.77,256.60 L400.98,256.60 L401.19,256.60 L401.39,256.60 L401.60,256.60 L401.81,256.60 L402.02,256.60 L402.23,256.60 L402.44,256.60 L402.65,256.60 L402.86,256.60 L403.07,256.60 L403.28,256.60 L403.49,256.60 L403.70,256.60 L403.91,256.60 L404.12,256.60 L404.33,256.60 L404.54,256.60 L404.75,256.60 L404.96,256.60 L405.17,256.60 L405.38,256.60 L405.59,256.60 L405.80,256.60 L406.01,256.60 L406.22,256.60 L406.43,256.60 L406.64,256.60 L406.85,256.60 L407.06,256.60 L407.27,256.60 L407.48,256.60 L407.69,256.60 L407.90,256.60 L408.11,256.60 L408.32,256.60 L408.53,256.60 L408.74,256.60 L408.95,256.60 L409.16,256.60 L409.37,256.60 L409.58,256.60 L409.79,256.60 L410.00,256.60 L410.20,256.60 L410.41,256.60 L410.62,256.60 L410.83,256.60 L411.04,256.60 L411.25,256.60 L411.46,256.60 L411.67,256.60 L411.88,256.60 L412.09,256.60 L412.30,256.60 L412.51,256.60 L412.72,256.60 L412.93,256.60 L413.15,256.60 L413.36,256.60 L413.57,256.60 L413.78,256.60 L413.99,256.60 L414.19,256.60 L414.40,256.60 L414.60,256.60 L414.81,256.59 L415.01,256.59 L415.21,256.59 L415.40,256.58 L415.60,256.58 L415.80,256.57 L416.00,256.57 L416.20,256.57 L416.39,256.56 L416.59,256.56 L416.79,256.55 L416.99,256.55 L417.19,256.55 L417.39,256.54 L417.59,256.54 L417.79,256.54 L417.99,256.53 L418.19,256.53 L418.39,256.52 L418.59,256.52 L418.79,256.52 L418.99,256.51 L419.19,256.51 L419.39,256.51 L419.59,256.50 L419.79,256.50 L419.99,256.49 L420.19,256.49 L420.38,256.49 L420.58,256.48 L420.78,256.48 L420.98,256.48 L421.18,256.47 L421.38,256.47 L421.58,256.46 L421.78,256.46 L421.98,256.46 L422.18,256.45 L422.38,256.45 L422.58,256.45 L422.78,256.44 L422.98,256.44 L423.18,256.43 L423.38,256.43 L423.58,256.43 L423.78,256.42 L423.98,256.42 L424.18,256.42 L424.38,256.41 L424.57,256.41 L424.77,256.40 L424.97,256.40 L425.17,256.40 L425.37,256.39 L425.57,256.39 L425.77,256.39 L425.97,256.38 L426.17,256.38 L426.37,256.37 L426.57,256.37 L426.77,256.37 L426.97,256.36 L427.17,256.36 L427.37,256.36 L427.57,256.35 L427.77,256.35 L427.97,256.34 L428.17,256.34 L428.37,256.34 L428.56,256.33 L428.76,256.33 L428.96,256.33 L429.16,256.33 L429.35,256.33 L429.55,256.32 L429.75,256.32 L429.95,256.32 L430.16,256.31 L430.36,256.30 L430.57,256.29 L430.78,256.27 L430.99,256.26 L431.20,256.24 L431.42,256.22 L431.63,256.20 L431.85,256.18 L432.06,256.16 L432.27,256.14 L432.49,256.12 L432.70,256.10 L432.91,256.08 L433.13,256.06 L433.34,256.05 L433.55,256.03 L433.76,256.01 L433.98,255.99 L434.19,255.97 L434.40,255.96 L434.62,255.94 L434.83,255.92 L435.04,255.90 L435.25,255.88 L435.47,255.87 L435.68,255.85 L435.89,255.83 L436.11,255.81 L436.32,255.79 L436.53,255.78 L436.74,255.76 L436.96,255.74 L437.17,255.72 L437.38,255.70 L437.60,255.68 L437.81,255.67 L438.02,255.65 L438.23,255.63 L438.45,255.61 L438.66,255.59 L438.87,255.58 L439.08,255.56 L439.30,255.54 L439.51,255.52 L439.72,255.50 L439.94,255.48 L440.15,255.46 L440.36,255.45 L440.57,255.43 L440.79,255.41 L441.00,255.40 L441.21,255.38 L441.43,255.37 L441.64,255.36 L441.85,255.34 L442.06,255.33 L442.28,255.32 L442.49,255.31 L442.70,255.30 L442.92,255.29 L443.13,255.28 L443.34,255.26 L443.55,255.25 L443.77,255.24 L443.98,255.23 L444.19,255.22 L444.40,255.20 L444.62,255.19 L444.83,255.18 L445.04,255.17 L445.26,255.16 L445.47,255.14 L445.68,255.13 L445.89,255.12 L446.11,255.11 L446.32,255.09 L446.53,255.08 L446.75,255.07 L446.96,255.06 L447.17,255.05 L447.38,255.03 L447.60,255.02 L447.81,255.01 L448.02,255.00 L448.24,254.99 L448.45,254.97 L448.66,254.96 L448.87,254.95 L449.09,254.94 L449.30,254.93 L449.51,254.91 L449.73,254.90 L449.94,254.88 L450.15,254.87 L450.37,254.85 L450.58,254.83 L450.80,254.81 L451.01,254.80 L451.22,254.79 L451.43,254.79 L451.64,254.79 L451.84,254.81 L452.05,254.83 L452.25,254.85 L452.45,254.88 L452.65,254.92 L452.84,254.95 L453.04,254.99 L453.24,255.03 L453.44,255.06 L453.63,255.10 L453.83,255.13 L454.03,255.16 L454.23,255.19 L454.43,255.22 L454.63,255.25 L454.83,255.28 L455.03,255.31 L455.23,255.34 L455.43,255.37 L455.63,255.40 L455.83,255.43 L456.03,255.46 L456.23,255.49 L456.43,255.52 L456.63,255.55 L456.83,255.58 L457.03,255.61 L457.23,255.64 L457.43,255.67 L457.62,255.70 L457.81,255.73 L457.97,255.75 L458.12,255.78 L458.26,255.80 L458.41,255.83 L458.58,255.86 L458.78,255.89 L459.01,255.92 L459.29,255.96 L459.62,256.00 L460.03,256.05 L460.53,256.11 L461.08,256.18 L461.67,256.25 L462.29,256.32 L462.90,256.39 L463.49,256.45 L464.04,256.51 L464.53,256.56 L464.94,256.60 L465.27,256.62 L465.53,256.64 L465.75,256.64 L465.93,256.64 L466.09,256.64 L466.22,256.63 L466.35,256.62 L466.48,256.61 L466.63,256.60 L466.80,256.60 L466.99,256.60 L467.17,256.60 L467.36,256.60 L467.55,256.60 L467.73,256.60 L467.92,256.60 L468.11,256.60 L468.29,256.60 L468.48,256.60 L468.66,256.60 L468.85,256.60 L469.04,256.60 L469.22,256.60 L469.41,256.60 L469.59,256.60 L469.78,256.60 L469.97,256.60 L470.15,256.60 L470.34,256.60 L470.53,256.60 L470.71,256.60 L470.90,256.60 L471.08,256.60 L471.27,256.60 L471.46,256.60 L471.64,256.60 L471.83,256.60 L472.02,256.60 L472.20,256.60 L472.39,256.60 L472.57,256.60 L472.76,256.60 L472.95,256.60 L473.13,256.60 L473.32,256.60 L473.51,256.60 L473.69,256.60 L473.88,256.60 L474.06,256.60 L474.25,256.60 L474.44,256.60 L474.62,256.60 L474.81,256.60 L474.99,256.60 L475.18,256.60 L475.37,256.60 L475.55,256.60 L475.74,256.60 L475.93,256.60 L476.11,256.60 L476.30,256.60 L476.48,256.60 L476.67,256.60 L476.86,256.60 L477.04,256.60 L477.23,256.60 L477.42,256.60 L477.60,256.60 L477.79,256.60 L477.97,256.60 L478.17,256.60 L478.38,256.60 L478.59,256.60 L478.81,256.60 L479.02,256.60 L479.23,256.60 L479.41,256.60 L479.58,256.60 L479.73,256.60 L479.84,256.60" fill="none" stroke="#22c8cc" stroke-width="1.3" stroke-linejoin="round"/>
<path d="M281.40,256.60 L281.52,256.60 L281.67,256.60 L281.84,256.60 L282.04,256.60 L282.25,256.60 L282.48,256.60 L282.70,256.60 L282.93,256.60 L283.15,256.60 L283.35,256.60 L283.55,256.60 L283.74,256.60 L283.94,256.60 L284.13,256.60 L284.33,256.60 L284.52,256.60 L284.72,256.60 L284.91,256.60 L285.11,256.60 L285.30,256.60 L285.50,256.60 L285.69,256.60 L285.89,256.60 L286.08,256.60 L286.28,256.60 L286.47,256.60 L286.67,256.60 L286.86,256.60 L287.06,256.60 L287.25,256.60 L287.45,256.60 L287.64,256.60 L287.84,256.60 L288.03,256.60 L288.23,256.60 L288.42,256.60 L288.62,256.60 L288.81,256.60 L289.01,256.60 L289.20,256.60 L289.40,256.60 L289.59,256.60 L289.79,256.60 L289.98,256.60 L290.18,256.60 L290.37,256.60 L290.57,256.60 L290.76,256.60 L290.96,256.60 L291.15,256.60 L291.35,256.60 L291.54,256.60 L291.74,256.60 L291.93,256.60 L292.13,256.60 L292.32,256.60 L292.52,256.60 L292.71,256.60 L292.91,256.60 L293.10,256.60 L293.30,256.60 L293.49,256.60 L293.69,256.60 L293.88,256.60 L294.08,256.60 L294.27,256.60 L294.47,256.60 L294.66,256.60 L294.86,256.60 L295.05,256.60 L295.25,256.60 L295.44,256.60 L295.64,256.60 L295.83,256.60 L296.03,256.60 L296.23,256.60 L296.42,256.60 L296.62,256.60 L296.81,256.60 L297.01,256.60 L297.20,256.59 L297.38,256.56 L297.56,256.52 L297.74,256.48 L297.92,256.45 L298.11,256.43 L298.30,256.42 L298.50,256.45 L298.72,256.50 L298.96,256.60 L299.21,256.68 L299.49,256.72 L299.79,256.73 L300.09,256.75 L300.41,256.83 L300.72,256.98 L301.03,257.24 L301.33,257.64 L301.62,258.22 L301.88,259.01 L302.13,260.08 L302.36,261.44 L302.59,263.03 L302.80,264.78 L303.01,266.61 L303.22,268.46 L303.42,270.26 L303.61,271.93 L303.81,273.43 L304.01,274.66 L304.21,275.71 L304.40,276.69 L304.59,277.59 L304.77,278.40 L304.96,279.10 L305.14,279.69 L305.32,280.15 L305.50,280.48 L305.69,280.66 L305.87,280.68 L306.06,280.52 L306.24,280.16 L306.43,279.64 L306.62,278.98 L306.80,278.20 L306.99,277.33 L307.18,276.39 L307.36,275.42 L307.55,274.43 L307.73,273.46 L307.92,272.41 L308.10,271.24 L308.28,269.97 L308.47,268.64 L308.65,267.29 L308.83,265.94 L309.02,264.65 L309.21,263.44 L309.40,262.35 L309.60,261.42 L309.80,260.62 L310.00,259.91 L310.20,259.29 L310.40,258.74 L310.61,258.26 L310.82,257.83 L311.04,257.46 L311.26,257.14 L311.49,256.85 L311.72,256.60 L311.97,256.40 L312.23,256.26 L312.50,256.19 L312.78,256.17 L313.05,256.19 L313.33,256.24 L313.61,256.32 L313.88,256.41 L314.14,256.51 L314.38,256.60 L314.61,256.70 L314.80,256.80 L314.98,256.92 L315.15,257.06 L315.31,257.22 L315.49,257.40 L315.69,257.61 L315.92,257.84 L316.19,258.11 L316.51,258.41 L316.88,258.78 L317.30,259.26 L317.75,259.81 L318.24,260.39 L318.74,260.98 L319.26,261.55 L319.78,262.06 L320.30,262.48 L320.81,262.77 L321.30,262.92 L321.79,262.88 L322.28,262.66 L322.79,262.30 L323.29,261.86 L323.79,261.36 L324.29,260.85 L324.77,260.39 L325.23,259.99 L325.67,259.72 L326.09,259.61 L326.47,259.65 L326.84,259.79 L327.18,260.01 L327.51,260.30 L327.82,260.64 L328.12,261.03 L328.41,261.43 L328.70,261.84 L328.99,262.24 L329.28,262.62 L329.56,263.01 L329.83,263.43 L330.09,263.89 L330.34,264.36 L330.59,264.84 L330.84,265.31 L331.10,265.75 L331.37,266.16 L331.64,266.53 L331.94,266.83 L332.26,267.11 L332.60,267.37 L332.95,267.63 L333.32,267.85 L333.69,268.04 L334.05,268.18 L334.41,268.26 L334.76,268.27 L335.09,268.20 L335.40,268.04 L335.68,267.77 L335.95,267.39 L336.20,266.92 L336.44,266.38 L336.68,265.78 L336.90,265.15 L337.13,264.50 L337.35,263.85 L337.57,263.22 L337.79,262.62 L338.02,262.02 L338.23,261.36 L338.45,260.67 L338.66,259.97 L338.87,259.27 L339.08,258.60 L339.29,257.98 L339.50,257.43 L339.71,256.96 L339.92,256.60 L340.13,256.36 L340.34,256.21 L340.56,256.16 L340.77,256.17 L340.98,256.22 L341.19,256.31 L341.40,256.41 L341.62,256.50 L341.83,256.57 L342.04,256.60 L342.25,256.60 L342.46,256.60 L342.68,256.60 L342.89,256.60 L343.10,256.60 L343.31,256.60 L343.52,256.60 L343.74,256.60 L343.95,256.60 L344.16,256.60 L344.37,256.60 L344.58,256.60 L344.80,256.60 L345.01,256.60 L345.22,256.60 L345.43,256.60 L345.64,256.60 L345.86,256.60 L346.07,256.60 L346.28,256.60 L346.49,256.60 L346.70,256.60 L346.92,256.60 L347.13,256.60 L347.34,256.60 L347.55,256.60 L347.76,256.60 L347.98,256.60 L348.19,256.60 L348.40,256.60 L348.61,256.60 L348.82,256.60 L349.04,256.60 L349.25,256.60 L349.46,256.60 L349.67,256.60 L349.88,256.60 L350.10,256.60 L350.31,256.60 L350.52,256.60 L350.73,256.60 L350.94,256.60 L351.16,256.60 L351.37,256.60 L351.58,256.60 L351.79,256.60 L352.00,256.60 L352.22,256.60 L352.43,256.60 L352.64,256.60 L352.85,256.60 L353.06,256.60 L353.28,256.60 L353.49,256.60 L353.70,256.60 L353.91,256.60 L354.12,256.60 L354.34,256.60 L354.55,256.60 L354.76,256.60 L354.97,256.60 L355.18,256.60 L355.40,256.60 L355.61,256.60 L355.82,256.60 L356.03,256.60 L356.24,256.60 L356.46,256.60 L356.67,256.60 L356.88,256.60 L357.09,256.60 L357.30,256.60 L357.52,256.60 L357.73,256.60 L357.94,256.60 L358.15,256.60 L358.36,256.60 L358.58,256.60 L358.79,256.60 L359.00,256.60 L359.21,256.60 L359.42,256.60 L359.64,256.60 L359.85,256.60 L360.06,256.60 L360.27,256.60 L360.48,256.60 L360.70,256.60 L360.91,256.60 L361.12,256.60 L361.33,256.60 L361.54,256.60 L361.76,256.60 L361.97,256.60 L362.18,256.60 L362.39,256.60 L362.60,256.60 L362.82,256.60 L363.03,256.60 L363.24,256.60 L363.45,256.60 L363.66,256.60 L363.88,256.60 L364.09,256.60 L364.30,256.60 L364.51,256.60 L364.72,256.60 L364.94,256.60 L365.15,256.60 L365.36,256.60 L365.57,256.60 L365.78,256.60 L366.00,256.60 L366.21,256.60 L366.42,256.60 L366.63,256.60 L366.84,256.60 L367.06,256.60 L367.27,256.60 L367.48,256.60 L367.69,256.60 L367.90,256.60 L368.12,256.60 L368.33,256.60 L368.54,256.60 L368.75,256.60 L368.96,256.60 L369.18,256.60 L369.39,256.60 L369.60,256.60 L369.81,256.60 L370.02,256.60 L370.24,256.60 L370.45,256.60 L370.66,256.60 L370.87,256.60 L371.08,256.60 L371.30,256.60 L371.51,256.60 L371.72,256.60 L371.93,256.60 L372.14,256.60 L372.36,256.60 L372.57,256.60 L372.78,256.60 L372.99,256.60 L373.20,256.60 L373.42,256.60 L373.63,256.60 L373.84,256.60 L374.05,256.60 L374.26,256.60 L374.48,256.60 L374.69,256.60 L374.90,256.60 L375.11,256.60 L375.32,256.60 L375.53,256.60 L375.75,256.60 L375.96,256.60 L376.17,256.60 L376.38,256.60 L376.59,256.60 L376.81,256.60 L377.02,256.60 L377.23,256.60 L377.44,256.60 L377.65,256.60 L377.87,256.60 L378.08,256.60 L378.29,256.60 L378.50,256.60 L378.71,256.60 L378.93,256.60 L379.14,256.60 L379.35,256.60 L379.56,256.60 L379.77,256.60 L379.99,256.60 L380.20,256.60 L380.41,256.60 L380.62,256.60 L380.83,256.60 L381.05,256.60 L381.26,256.60 L381.47,256.60 L381.68,256.60 L381.89,256.60 L382.11,256.60 L382.32,256.60 L382.53,256.60 L382.74,256.60 L382.95,256.60 L383.17,256.60 L383.38,256.60 L383.59,256.60 L383.80,256.60 L384.01,256.60 L384.23,256.60 L384.44,256.60 L384.65,256.60 L384.86,256.60 L385.07,256.60 L385.29,256.60 L385.50,256.60 L385.71,256.60 L385.92,256.60 L386.13,256.60 L386.35,256.60 L386.56,256.60 L386.77,256.60 L386.98,256.60 L387.19,256.60 L387.41,256.60 L387.62,256.60 L387.83,256.60 L388.04,256.60 L388.25,256.60 L388.47,256.60 L388.68,256.60 L388.89,256.60 L389.10,256.60 L389.31,256.60 L389.53,256.60 L389.74,256.60 L389.95,256.60 L390.16,256.60 L390.37,256.60 L390.59,256.60 L390.80,256.60 L391.01,256.60 L391.22,256.60 L391.43,256.60 L391.65,256.60 L391.86,256.60 L392.07,256.60 L392.28,256.60 L392.49,256.60 L392.71,256.60 L392.92,256.60 L393.13,256.60 L393.34,256.60 L393.55,256.60 L393.77,256.60 L393.98,256.60 L394.19,256.60 L394.40,256.60 L394.61,256.60 L394.83,256.60 L395.04,256.60 L395.25,256.60 L395.46,256.60 L395.67,256.60 L395.89,256.60 L396.10,256.60 L396.31,256.60 L396.52,256.60 L396.73,256.60 L396.95,256.60 L397.16,256.60 L397.37,256.60 L397.58,256.60 L397.79,256.60 L398.01,256.60 L398.22,256.60 L398.43,256.60 L398.64,256.60 L398.85,256.60 L399.07,256.60 L399.28,256.60 L399.49,256.60 L399.70,256.60 L399.91,256.60 L400.13,256.60 L400.34,256.60 L400.55,256.60 L400.76,256.60 L400.97,256.60 L401.19,256.60 L401.40,256.60 L401.61,256.60 L401.82,256.60 L402.03,256.60 L402.25,256.60 L402.46,256.60 L402.67,256.60 L402.88,256.60 L403.09,256.60 L403.31,256.60 L403.52,256.60 L403.73,256.60 L403.94,256.60 L404.15,256.60 L404.37,256.60 L404.58,256.60 L404.79,256.60 L405.00,256.60 L405.21,256.60 L405.43,256.60 L405.64,256.60 L405.85,256.60 L406.06,256.60 L406.27,256.60 L406.49,256.60 L406.70,256.60 L406.91,256.60 L407.12,256.60 L407.33,256.60 L407.55,256.60 L407.76,256.60 L407.97,256.60 L408.18,256.60 L408.39,256.60 L408.61,256.60 L408.82,256.60 L409.03,256.60 L409.24,256.60 L409.45,256.60 L409.67,256.60 L409.88,256.60 L410.09,256.60 L410.30,256.60 L410.51,256.60 L410.73,256.60 L410.94,256.60 L411.15,256.60 L411.36,256.60 L411.57,256.60 L411.79,256.60 L412.00,256.60 L412.21,256.60 L412.42,256.60 L412.63,256.60 L412.85,256.60 L413.06,256.60 L413.27,256.60 L413.48,256.60 L413.69,256.60 L413.91,256.60 L414.12,256.60 L414.33,256.60 L414.54,256.60 L414.75,256.60 L414.97,256.60 L415.18,256.60 L415.39,256.60 L415.60,256.60 L415.81,256.60 L416.03,256.60 L416.24,256.60 L416.45,256.60 L416.66,256.60 L416.87,256.60 L417.09,256.60 L417.30,256.60 L417.51,256.60 L417.72,256.60 L417.93,256.60 L418.15,256.60 L418.36,256.60 L418.57,256.60 L418.78,256.60 L418.99,256.60 L419.21,256.60 L419.42,256.60 L419.63,256.60 L419.84,256.60 L420.05,256.60 L420.27,256.60 L420.48,256.60 L420.69,256.60 L420.90,256.60 L421.11,256.60 L421.33,256.60 L421.54,256.60 L421.75,256.60 L421.96,256.60 L422.17,256.60 L422.39,256.60 L422.60,256.60 L422.81,256.60 L423.02,256.60 L423.23,256.60 L423.45,256.60 L423.66,256.60 L423.87,256.60 L424.08,256.60 L424.29,256.60 L424.51,256.60 L424.72,256.60 L424.93,256.60 L425.14,256.60 L425.35,256.60 L425.57,256.60 L425.78,256.60 L425.99,256.60 L426.20,256.60 L426.41,256.60 L426.63,256.60 L426.84,256.60 L427.05,256.60 L427.26,256.60 L427.47,256.60 L427.69,256.60 L427.90,256.60 L428.11,256.60 L428.32,256.60 L428.53,256.60 L428.75,256.60 L428.96,256.60 L429.17,256.60 L429.38,256.60 L429.59,256.60 L429.81,256.60 L430.02,256.60 L430.23,256.60 L430.44,256.60 L430.65,256.60 L430.87,256.60 L431.08,256.60 L431.29,256.60 L431.50,256.60 L431.71,256.60 L431.93,256.60 L432.14,256.60 L432.35,256.60 L432.56,256.60 L432.77,256.60 L432.99,256.60 L433.20,256.60 L433.41,256.60 L433.62,256.60 L433.83,256.60 L434.05,256.60 L434.26,256.60 L434.47,256.60 L434.68,256.60 L434.89,256.60 L435.11,256.60 L435.32,256.60 L435.53,256.60 L435.74,256.60 L435.95,256.60 L436.17,256.60 L436.38,256.60 L436.59,256.60 L436.80,256.60 L437.01,256.60 L437.23,256.60 L437.44,256.60 L437.65,256.60 L437.86,256.60 L438.07,256.60 L438.29,256.60 L438.50,256.60 L438.71,256.60 L438.92,256.60 L439.13,256.60 L439.35,256.60 L439.56,256.60 L439.77,256.60 L439.98,256.60 L440.19,256.60 L440.41,256.60 L440.62,256.60 L440.83,256.60 L441.04,256.60 L441.25,256.60 L441.47,256.60 L441.68,256.60 L441.89,256.60 L442.10,256.60 L442.31,256.60 L442.53,256.60 L442.74,256.60 L442.95,256.60 L443.16,256.60 L443.37,256.60 L443.59,256.60 L443.80,256.60 L444.01,256.60 L444.22,256.60 L444.43,256.60 L444.65,256.60 L444.86,256.60 L445.07,256.60 L445.28,256.60 L445.49,256.60 L445.70,256.60 L445.92,256.60 L446.13,256.60 L446.34,256.60 L446.55,256.60 L446.76,256.60 L446.98,256.60 L447.19,256.60 L447.40,256.60 L447.61,256.60 L447.82,256.60 L448.04,256.60 L448.25,256.60 L448.46,256.60 L448.67,256.60 L448.88,256.60 L449.10,256.60 L449.31,256.60 L449.52,256.60 L449.73,256.60 L449.94,256.60 L450.16,256.60 L450.37,256.60 L450.58,256.60 L450.79,256.60 L451.00,256.60 L451.22,256.60 L451.43,256.60 L451.64,256.60 L451.85,256.60 L452.06,256.60 L452.28,256.60 L452.49,256.60 L452.70,256.60 L452.91,256.60 L453.12,256.60 L453.34,256.60 L453.55,256.60 L453.76,256.60 L453.97,256.60 L454.18,256.60 L454.40,256.60 L454.61,256.60 L454.82,256.60 L455.03,256.60 L455.24,256.60 L455.46,256.60 L455.67,256.60 L455.88,256.60 L456.09,256.60 L456.30,256.60 L456.52,256.60 L456.73,256.60 L456.94,256.60 L457.15,256.60 L457.36,256.60 L457.58,256.60 L457.79,256.60 L458.00,256.60 L458.21,256.60 L458.42,256.60 L458.64,256.60 L458.85,256.60 L459.06,256.60 L459.27,256.60 L459.48,256.60 L459.70,256.60 L459.91,256.60 L460.12,256.60 L460.33,256.60 L460.54,256.60 L460.76,256.60 L460.97,256.60 L461.18,256.60 L461.39,256.60 L461.60,256.60 L461.82,256.60 L462.03,256.60 L462.24,256.60 L462.45,256.60 L462.66,256.60 L462.88,256.60 L463.09,256.60 L463.30,256.60 L463.51,256.60 L463.72,256.60 L463.94,256.60 L464.15,256.60 L464.36,256.60 L464.57,256.60 L464.78,256.60 L465.00,256.60 L465.21,256.60 L465.42,256.60 L465.63,256.60 L465.84,256.60 L466.06,256.60 L466.27,256.60 L466.48,256.60 L466.69,256.60 L466.90,256.60 L467.12,256.60 L467.33,256.60 L467.54,256.60 L467.75,256.60 L467.96,256.60 L468.18,256.60 L468.39,256.60 L468.60,256.60 L468.81,256.60 L469.02,256.60 L469.24,256.60 L469.45,256.60 L469.66,256.60 L469.87,256.60 L470.08,256.60 L470.30,256.60 L470.51,256.60 L470.72,256.60 L470.93,256.60 L471.14,256.60 L471.36,256.60 L471.57,256.60 L471.78,256.60 L471.99,256.60 L472.20,256.60 L472.42,256.60 L472.63,256.60 L472.84,256.60 L473.05,256.60 L473.26,256.60 L473.48,256.60 L473.69,256.60 L473.90,256.60 L474.11,256.60 L474.32,256.60 L474.54,256.60 L474.75,256.60 L474.96,256.60 L475.17,256.60 L475.38,256.60 L475.60,256.60 L475.81,256.60 L476.02,256.60 L476.23,256.60 L476.44,256.60 L476.66,256.60 L476.87,256.60 L477.08,256.60 L477.29,256.60 L477.50,256.60 L477.72,256.60 L477.94,256.60 L478.17,256.60 L478.42,256.60 L478.67,256.60 L478.91,256.60 L479.14,256.60 L479.36,256.60 L479.55,256.60 L479.71,256.60 L479.84,256.60" fill="none" stroke="#fdb47a" stroke-width="1.3" stroke-linejoin="round"/>
<path d="M371.84,256.60 L371.95,256.60 L372.10,256.60 L372.27,256.60 L372.47,256.60 L372.68,256.60 L372.90,256.60 L373.12,256.60 L373.34,256.60 L373.56,256.60 L373.76,256.60 L373.95,256.60 L374.14,256.60 L374.33,256.60 L374.52,256.60 L374.71,256.60 L374.90,256.60 L375.10,256.60 L375.29,256.60 L375.48,256.60 L375.67,256.60 L375.86,256.60 L376.05,256.60 L376.24,256.60 L376.44,256.60 L376.63,256.60 L376.82,256.60 L377.01,256.60 L377.20,256.60 L377.39,256.60 L377.59,256.60 L377.78,256.60 L377.97,256.60 L378.16,256.60 L378.35,256.60 L378.54,256.60 L378.73,256.60 L378.93,256.60 L379.12,256.60 L379.31,256.60 L379.50,256.60 L379.69,256.61 L379.88,256.62 L380.08,256.64 L380.27,256.66 L380.46,256.68 L380.65,256.69 L380.85,256.69 L381.04,256.68 L381.23,256.65 L381.42,256.60 L381.60,256.61 L381.77,256.73 L381.94,256.92 L382.11,257.10 L382.28,257.24 L382.46,257.28 L382.64,257.17 L382.84,256.85 L383.05,256.28 L383.28,255.40 L383.53,254.16 L383.81,252.59 L384.10,250.75 L384.41,248.71 L384.72,246.52 L385.04,244.24 L385.35,241.94 L385.65,239.69 L385.94,237.53 L386.20,235.53 L386.45,233.58 L386.68,231.56 L386.91,229.51 L387.13,227.45 L387.33,225.45 L387.54,223.52 L387.74,221.72 L387.94,220.09 L388.13,218.66 L388.33,217.47 L388.53,216.51 L388.72,215.72 L388.90,215.10 L389.08,214.63 L389.26,214.31 L389.44,214.12 L389.62,214.05 L389.81,214.09 L390.00,214.23 L390.19,214.46 L390.39,214.84 L390.60,215.42 L390.80,216.17 L391.01,217.04 L391.22,218.00 L391.44,219.01 L391.66,220.04 L391.88,221.06 L392.10,222.02 L392.32,222.89 L392.55,223.74 L392.79,224.65 L393.03,225.58 L393.27,226.52 L393.52,227.44 L393.76,228.31 L394.01,229.09 L394.25,229.77 L394.49,230.32 L394.72,230.71 L394.94,230.92 L395.15,230.95 L395.37,230.85 L395.57,230.64 L395.78,230.36 L395.99,230.03 L396.19,229.69 L396.41,229.37 L396.62,229.10 L396.84,228.91 L397.07,228.75 L397.31,228.56 L397.54,228.36 L397.78,228.16 L398.02,227.99 L398.27,227.85 L398.51,227.76 L398.75,227.75 L399.00,227.82 L399.24,228.01 L399.48,228.27 L399.71,228.59 L399.95,228.98 L400.18,229.43 L400.42,229.94 L400.66,230.53 L400.89,231.20 L401.14,231.95 L401.38,232.79 L401.63,233.72 L401.89,234.81 L402.15,236.07 L402.41,237.47 L402.68,238.97 L402.95,240.52 L403.22,242.07 L403.49,243.60 L403.76,245.06 L404.02,246.39 L404.29,247.57 L404.56,248.63 L404.83,249.63 L405.11,250.57 L405.38,251.45 L405.66,252.27 L405.93,253.03 L406.19,253.72 L406.45,254.35 L406.71,254.91 L406.95,255.40 L407.17,255.79 L407.36,256.08 L407.53,256.28 L407.69,256.41 L407.85,256.49 L408.02,256.52 L408.22,256.54 L408.46,256.54 L408.74,256.56 L409.08,256.60 L409.49,256.66 L409.97,256.71 L410.51,256.75 L411.08,256.77 L411.67,256.79 L412.27,256.79 L412.86,256.77 L413.42,256.73 L413.94,256.68 L414.40,256.60 L414.81,256.50 L415.18,256.39 L415.53,256.27 L415.86,256.12 L416.16,255.96 L416.46,255.78 L416.74,255.57 L417.02,255.34 L417.30,255.08 L417.59,254.79 L417.88,254.43 L418.16,253.97 L418.44,253.44 L418.71,252.88 L418.97,252.31 L419.23,251.77 L419.49,251.30 L419.75,250.92 L420.00,250.67 L420.25,250.58 L420.50,250.67 L420.75,250.92 L420.99,251.30 L421.23,251.77 L421.47,252.31 L421.70,252.88 L421.94,253.44 L422.17,253.97 L422.41,254.43 L422.65,254.79 L422.88,255.08 L423.10,255.35 L423.31,255.59 L423.51,255.81 L423.73,256.00 L423.95,256.17 L424.18,256.31 L424.44,256.43 L424.73,256.53 L425.04,256.60 L425.39,256.65 L425.77,256.66 L426.18,256.65 L426.61,256.62 L427.05,256.56 L427.50,256.48 L427.96,256.39 L428.42,256.27 L428.86,256.14 L429.30,256.00 L429.73,255.82 L430.19,255.60 L430.65,255.34 L431.12,255.06 L431.59,254.77 L432.04,254.48 L432.47,254.21 L432.87,253.96 L433.23,253.75 L433.55,253.59 L433.82,253.48 L434.05,253.41 L434.24,253.37 L434.40,253.35 L434.55,253.35 L434.67,253.37 L434.80,253.38 L434.92,253.40 L435.06,253.40 L435.21,253.39 L435.38,253.37 L435.55,253.36 L435.71,253.34 L435.88,253.32 L436.05,253.30 L436.21,253.28 L436.38,253.26 L436.54,253.24 L436.71,253.22 L436.88,253.20 L437.04,253.18 L437.21,253.16 L437.38,253.14 L437.54,253.12 L437.71,253.10 L437.87,253.08 L438.04,253.06 L438.21,253.04 L438.37,253.02 L438.54,253.00 L438.70,252.98 L438.83,252.94 L438.96,252.90 L439.09,252.86 L439.23,252.83 L439.37,252.79 L439.53,252.77 L439.72,252.76 L439.94,252.78 L440.20,252.81 L440.50,252.87 L440.83,252.95 L441.19,253.06 L441.57,253.19 L441.97,253.32 L442.39,253.45 L442.82,253.58 L443.27,253.70 L443.73,253.81 L444.19,253.89 L444.67,253.96 L445.17,254.02 L445.69,254.07 L446.22,254.11 L446.77,254.15 L447.32,254.17 L447.87,254.19 L448.43,254.20 L448.97,254.20 L449.51,254.19 L450.04,254.18 L450.58,254.16 L451.11,254.14 L451.64,254.11 L452.17,254.07 L452.70,254.01 L453.24,253.94 L453.77,253.85 L454.30,253.73 L454.83,253.59 L455.38,253.39 L455.94,253.13 L456.51,252.81 L457.09,252.47 L457.66,252.13 L458.22,251.80 L458.75,251.51 L459.26,251.27 L459.73,251.12 L460.15,251.06 L460.53,251.11 L460.86,251.24 L461.16,251.43 L461.43,251.69 L461.68,251.98 L461.91,252.30 L462.14,252.64 L462.36,252.97 L462.58,253.29 L462.81,253.59 L463.04,253.89 L463.26,254.21 L463.47,254.55 L463.68,254.90 L463.88,255.25 L464.08,255.59 L464.28,255.90 L464.49,256.18 L464.71,256.42 L464.94,256.60 L465.20,256.72 L465.48,256.79 L465.78,256.82 L466.09,256.82 L466.40,256.79 L466.70,256.74 L466.98,256.69 L467.23,256.65 L467.44,256.61 L467.60,256.60" fill="none" stroke="#c4c4c4" stroke-width="1.3" stroke-linejoin="round"/>
<path d="M371.84,256.60 L371.95,256.60 L372.10,256.60 L372.27,256.60 L372.47,256.60 L372.68,256.60 L372.90,256.60 L373.12,256.60 L373.34,256.60 L373.56,256.60 L373.76,256.60 L373.95,256.60 L374.14,256.60 L374.33,256.60 L374.52,256.60 L374.71,256.60 L374.90,256.60 L375.10,256.60 L375.29,256.60 L375.48,256.60 L375.67,256.60 L375.86,256.60 L376.05,256.60 L376.24,256.60 L376.44,256.60 L376.63,256.60 L376.82,256.60 L377.01,256.60 L377.20,256.60 L377.39,256.60 L377.59,256.60 L377.78,256.60 L377.97,256.60 L378.16,256.60 L378.35,256.60 L378.54,256.60 L378.73,256.60 L378.93,256.60 L379.12,256.60 L379.31,256.60 L379.50,256.60 L379.69,256.59 L379.88,256.58 L380.08,256.56 L380.27,256.54 L380.46,256.52 L380.65,256.51 L380.85,256.51 L381.04,256.52 L381.23,256.55 L381.42,256.60 L381.60,256.59 L381.77,256.47 L381.94,256.28 L382.11,256.10 L382.28,255.96 L382.46,255.92 L382.64,256.03 L382.84,256.35 L383.05,256.92 L383.28,257.80 L383.53,259.04 L383.81,260.61 L384.10,262.45 L384.41,264.49 L384.72,266.68 L385.04,268.96 L385.35,271.26 L385.65,273.51 L385.94,275.67 L386.20,277.67 L386.45,279.62 L386.68,281.63 L386.91,283.69 L387.13,285.73 L387.33,287.73 L387.54,289.65 L387.74,291.45 L387.94,293.09 L388.13,294.53 L388.33,295.73 L388.53,296.71 L388.72,297.51 L388.90,298.15 L389.08,298.64 L389.26,298.98 L389.44,299.20 L389.62,299.31 L389.81,299.31 L390.00,299.22 L390.19,299.04 L390.39,298.73 L390.60,298.25 L390.80,297.63 L391.01,296.88 L391.22,296.05 L391.44,295.15 L391.66,294.23 L391.88,293.29 L392.10,292.38 L392.32,291.52 L392.55,290.63 L392.79,289.63 L393.03,288.58 L393.27,287.49 L393.52,286.42 L393.76,285.39 L394.01,284.45 L394.25,283.62 L394.49,282.96 L394.72,282.49 L394.94,282.23 L395.15,282.16 L395.37,282.25 L395.57,282.46 L395.78,282.75 L395.99,283.09 L396.19,283.45 L396.41,283.80 L396.62,284.09 L396.84,284.29 L397.07,284.46 L397.31,284.67 L397.54,284.89 L397.78,285.11 L398.02,285.31 L398.27,285.48 L398.51,285.60 L398.75,285.65 L399.00,285.62 L399.24,285.50 L399.48,285.30 L399.71,285.08 L399.95,284.82 L400.18,284.49 L400.42,284.10 L400.66,283.63 L400.89,283.07 L401.14,282.39 L401.38,281.60 L401.63,280.68 L401.89,279.56 L402.15,278.21 L402.41,276.69 L402.68,275.05 L402.95,273.34 L403.22,271.62 L403.49,269.94 L403.76,268.34 L404.02,266.89 L404.29,265.63 L404.56,264.53 L404.83,263.50 L405.11,262.54 L405.38,261.66 L405.66,260.85 L405.93,260.11 L406.19,259.44 L406.45,258.83 L406.71,258.29 L406.95,257.80 L407.17,257.41 L407.36,257.12 L407.53,256.92 L407.69,256.79 L407.85,256.71 L408.02,256.68 L408.22,256.66 L408.46,256.66 L408.74,256.64 L409.08,256.60 L409.49,256.55 L409.98,256.50 L410.53,256.47 L411.11,256.46 L411.71,256.45 L412.31,256.46 L412.90,256.47 L413.46,256.50 L413.96,256.55 L414.40,256.60 L414.77,256.66 L415.09,256.71 L415.38,256.76 L415.63,256.82 L415.86,256.90 L416.09,257.00 L416.31,257.14 L416.54,257.31 L416.78,257.53 L417.06,257.80 L417.36,258.18 L417.67,258.67 L418.00,259.25 L418.32,259.87 L418.66,260.51 L418.99,261.13 L419.32,261.68 L419.64,262.14 L419.95,262.46 L420.25,262.62 L420.54,262.59 L420.82,262.42 L421.09,262.12 L421.35,261.72 L421.62,261.27 L421.87,260.77 L422.13,260.27 L422.39,259.79 L422.65,259.36 L422.91,259.01 L423.17,258.70 L423.41,258.40 L423.64,258.10 L423.87,257.81 L424.11,257.54 L424.35,257.29 L424.62,257.06 L424.90,256.87 L425.22,256.71 L425.57,256.60 L425.96,256.54 L426.38,256.52 L426.84,256.54 L427.31,256.60 L427.80,256.68 L428.30,256.77 L428.82,256.88 L429.33,256.99 L429.85,257.10 L430.36,257.20 L430.87,257.29 L431.40,257.39 L431.94,257.48 L432.49,257.58 L433.04,257.69 L433.58,257.81 L434.13,257.94 L434.66,258.08 L435.18,258.23 L435.68,258.41 L436.17,258.62 L436.65,258.88 L437.13,259.17 L437.60,259.48 L438.06,259.80 L438.51,260.10 L438.95,260.36 L439.38,260.58 L439.80,260.74 L440.20,260.81 L440.58,260.80 L440.93,260.69 L441.26,260.53 L441.57,260.31 L441.88,260.06 L442.19,259.80 L442.52,259.55 L442.87,259.32 L443.24,259.13 L443.66,259.01 L444.12,258.93 L444.60,258.87 L445.12,258.84 L445.65,258.82 L446.20,258.82 L446.76,258.83 L447.33,258.86 L447.89,258.90 L448.44,258.95 L448.98,259.01 L449.53,259.08 L450.10,259.18 L450.68,259.30 L451.27,259.43 L451.85,259.57 L452.41,259.72 L452.95,259.86 L453.45,259.99 L453.90,260.11 L454.30,260.21 L454.63,260.30 L454.91,260.37 L455.13,260.44 L455.32,260.50 L455.49,260.55 L455.63,260.60 L455.77,260.65 L455.91,260.70 L456.07,260.76 L456.25,260.81 L456.45,260.87 L456.64,260.93 L456.84,260.99 L457.03,261.05 L457.23,261.12 L457.42,261.18 L457.62,261.24 L457.81,261.30 L458.01,261.36 L458.20,261.42 L458.39,261.49 L458.58,261.58 L458.76,261.69 L458.95,261.80 L459.13,261.91 L459.32,261.99 L459.51,262.06 L459.72,262.09 L459.93,262.08 L460.15,262.02 L460.39,261.90 L460.65,261.74 L460.91,261.54 L461.19,261.30 L461.47,261.04 L461.75,260.76 L462.03,260.47 L462.30,260.18 L462.56,259.89 L462.81,259.61 L463.04,259.32 L463.26,259.00 L463.47,258.66 L463.68,258.30 L463.88,257.95 L464.08,257.62 L464.28,257.30 L464.49,257.02 L464.71,256.78 L464.94,256.60 L465.20,256.48 L465.48,256.41 L465.78,256.38 L466.09,256.38 L466.40,256.41 L466.70,256.46 L466.98,256.51 L467.23,256.55 L467.44,256.59 L467.60,256.60" fill="none" stroke="#ff8a14" stroke-width="1.3" stroke-linejoin="round"/>
<line x1="281.40" y1="256.60" x2="479.84" y2="256.60" stroke="#2e8b2e" stroke-width="1.3" />
<rect x="281.4" y="196.5" width="212.8" height="120.39999999999998" fill="none" stroke="#333" stroke-width="1"/>
<text x="276.00" y="318.70" font-size="5.3" text-anchor="end" fill="#222" font-weight="bold" >−1.0</text>
<text x="276.00" y="306.66" font-size="5.3" text-anchor="end" fill="#222" font-weight="bold" >−0.8</text>
<text x="276.00" y="294.62" font-size="5.3" text-anchor="end" fill="#222" font-weight="bold" >−0.6</text>
<text x="276.00" y="282.58" font-size="5.3" text-anchor="end" fill="#222" font-weight="bold" >−0.4</text>
<text x="276.00" y="270.54" font-size="5.3" text-anchor="end" fill="#222" font-weight="bold" >−0.2</text>
<text x="276.00" y="258.50" font-size="5.3" text-anchor="end" fill="#222" font-weight="bold" >0.0</text>
<text x="276.00" y="246.46" font-size="5.3" text-anchor="end" fill="#222" font-weight="bold" >0.2</text>
<text x="276.00" y="234.42" font-size="5.3" text-anchor="end" fill="#222" font-weight="bold" >0.4</text>
<text x="276.00" y="222.38" font-size="5.3" text-anchor="end" fill="#222" font-weight="bold" >0.6</text>
<text x="276.00" y="210.34" font-size="5.3" text-anchor="end" fill="#222" font-weight="bold" >0.8</text>
<text x="276.00" y="198.30" font-size="5.3" text-anchor="end" fill="#222" font-weight="bold" >1.0</text>
<text x="281.40" y="324.80" font-size="5.3" text-anchor="middle" fill="#222" font-weight="bold" >−25</text>
<text x="308.00" y="324.80" font-size="5.3" text-anchor="middle" fill="#222" font-weight="bold" >−20</text>
<text x="334.60" y="324.80" font-size="5.3" text-anchor="middle" fill="#222" font-weight="bold" >−15</text>
<text x="361.20" y="324.80" font-size="5.3" text-anchor="middle" fill="#222" font-weight="bold" >−10</text>
<text x="387.80" y="324.80" font-size="5.3" text-anchor="middle" fill="#222" font-weight="bold" >−5</text>
<text x="414.40" y="324.80" font-size="5.3" text-anchor="middle" fill="#222" font-weight="bold" >0</text>
<text x="441.00" y="324.80" font-size="5.3" text-anchor="middle" fill="#222" font-weight="bold" >5</text>
<text x="467.60" y="324.80" font-size="5.3" text-anchor="middle" fill="#222" font-weight="bold" >10</text>
<text x="494.20" y="324.80" font-size="5.3" text-anchor="middle" fill="#222" font-weight="bold" >15</text>
<text x="388.40" y="333.60" font-size="8.7" text-anchor="middle" fill="#111" font-weight="normal" >Energy (eV)</text>
<text x="264.60" y="256.30" font-size="8.85" text-anchor="middle" fill="#222" font-weight="normal" xml:space="preserve" transform="rotate(-90 264.6 256.3)">Dnesity of state  (a.u.)</text>
<line x1="448.70" y1="204.20" x2="462.00" y2="204.20" stroke="#22c8cc" stroke-width="1.4" />
<text x="463.90" y="206.30" font-size="6.2" text-anchor="start" fill="#333" font-weight="normal" >s-up</text>
<line x1="448.70" y1="212.00" x2="462.00" y2="212.00" stroke="#fdb47a" stroke-width="1.4" />
<text x="463.90" y="214.10" font-size="6.2" text-anchor="start" fill="#333" font-weight="normal" >s-down</text>
<line x1="448.70" y1="219.60" x2="462.00" y2="219.60" stroke="#c4c4c4" stroke-width="1.4" />
<text x="463.90" y="221.70" font-size="6.2" text-anchor="start" fill="#333" font-weight="normal" >p-up</text>
<line x1="448.70" y1="227.30" x2="462.00" y2="227.30" stroke="#ff8a14" stroke-width="1.4" />
<text x="463.90" y="229.40" font-size="6.2" text-anchor="start" fill="#333" font-weight="normal" >p-down</text>
<line x1="448.70" y1="235.00" x2="462.00" y2="235.00" stroke="#c890f0" stroke-width="1.4" />
<text x="463.90" y="237.10" font-size="6.2" text-anchor="start" fill="#333" font-weight="normal" >d-up</text>
<line x1="448.70" y1="242.60" x2="462.00" y2="242.60" stroke="#2e8b2e" stroke-width="1.4" />
<text x="463.90" y="244.70" font-size="6.2" text-anchor="start" fill="#333" font-weight="normal" >d-down</text>
<rect x="402.6" y="244.6" width="33.799999999999955" height="27.400000000000006" fill="none" stroke="#1a1aff" stroke-width="1.5" stroke-dasharray="4,2.6"/>
<line x1="436.40" y1="244.60" x2="507.40" y2="193.90" stroke="#1a1aff" stroke-width="1.5" />
<line x1="436.40" y1="272.00" x2="507.40" y2="319.50" stroke="#1a1aff" stroke-width="1.5" />
<g clip-path="url(#clipDz)">
<rect x="507.4" y="193.9" width="176.5" height="125.6" fill="#fff"/>
<line x1="582.10" y1="193.90" x2="582.10" y2="319.50" stroke="#cfcfcf" stroke-width="1" />
<path d="M518.00,185.00 L518.17,185.39 L518.35,185.83 L518.56,186.32 L518.80,186.87 L519.06,187.47 L519.34,188.15 L519.66,188.90 L520.01,189.72 L520.40,190.63 L520.83,191.62 L521.29,192.71 L521.80,193.90 L522.37,195.22 L523.01,196.69 L523.71,198.29 L524.46,199.99 L525.25,201.78 L526.06,203.62 L526.88,205.51 L527.69,207.41 L528.50,209.30 L529.27,211.16 L530.01,212.97 L530.70,214.70 L531.35,216.41 L532.00,218.14 L532.63,219.89 L533.26,221.64 L533.86,223.38 L534.46,225.11 L535.03,226.80 L535.59,228.45 L536.13,230.05 L536.64,231.58 L537.13,233.03 L537.60,234.40 L538.03,235.67 L538.42,236.87 L538.78,237.99 L539.11,239.06 L539.43,240.06 L539.73,241.03 L540.02,241.95 L540.31,242.84 L540.60,243.72 L540.91,244.58 L541.24,245.44 L541.60,246.30 L541.97,247.16 L542.33,248.01 L542.69,248.85 L543.06,249.67 L543.43,250.47 L543.81,251.24 L544.20,251.99 L544.61,252.71 L545.04,253.39 L545.50,254.03 L545.98,254.64 L546.50,255.20 L547.02,255.72 L547.51,256.19 L547.99,256.62 L548.47,257.02 L548.98,257.39 L549.52,257.72 L550.11,258.02 L550.77,258.30 L551.52,258.55 L552.36,258.79 L553.32,259.00 L554.40,259.20 L555.66,259.37 L557.13,259.52 L558.75,259.63 L560.49,259.72 L562.31,259.78 L564.17,259.82 L566.05,259.85 L567.89,259.86 L569.67,259.86 L571.34,259.84 L572.86,259.82 L574.20,259.80 L575.37,259.77 L576.42,259.73 L577.37,259.68 L578.23,259.61 L579.03,259.54 L579.77,259.45 L580.48,259.35 L581.17,259.23 L581.86,259.10 L582.56,258.95 L583.31,258.78 L584.10,258.60 L584.94,258.40 L585.80,258.18 L586.67,257.94 L587.54,257.68 L588.42,257.41 L589.29,257.12 L590.15,256.82 L590.99,256.51 L591.80,256.19 L592.58,255.87 L593.31,255.54 L594.00,255.20 L594.64,254.85 L595.24,254.49 L595.81,254.11 L596.34,253.71 L596.85,253.31 L597.34,252.91 L597.80,252.50 L598.26,252.09 L598.70,251.68 L599.13,251.28 L599.56,250.88 L600.00,250.50 L600.43,250.12 L600.85,249.74 L601.25,249.35 L601.65,248.96 L602.03,248.58 L602.41,248.20 L602.77,247.83 L603.13,247.47 L603.48,247.12 L603.83,246.80 L604.16,246.49 L604.50,246.20 L604.83,245.93 L605.15,245.68 L605.46,245.44 L605.77,245.22 L606.06,245.01 L606.36,244.82 L606.64,244.64 L606.92,244.47 L607.20,244.31 L607.47,244.16 L607.74,244.03 L608.00,243.90 L608.26,243.79 L608.51,243.68 L608.75,243.59 L608.99,243.51 L609.22,243.45 L609.45,243.39 L609.68,243.35 L609.90,243.32 L610.12,243.30 L610.35,243.29 L610.57,243.29 L610.80,243.30 L611.03,243.31 L611.25,243.33 L611.46,243.34 L611.68,243.37 L611.89,243.40 L612.11,243.45 L612.32,243.52 L612.54,243.61 L612.77,243.73 L613.00,243.88 L613.25,244.07 L613.50,244.30 L613.76,244.57 L614.03,244.89 L614.31,245.25 L614.59,245.63 L614.88,246.05 L615.17,246.49 L615.47,246.94 L615.77,247.41 L616.07,247.89 L616.38,248.36 L616.69,248.84 L617.00,249.30 L617.31,249.77 L617.63,250.27 L617.95,250.78 L618.27,251.30 L618.60,251.84 L618.93,252.37 L619.27,252.90 L619.60,253.42 L619.95,253.92 L620.29,254.41 L620.64,254.87 L621.00,255.30 L621.33,255.72 L621.60,256.13 L621.85,256.55 L622.07,256.95 L622.31,257.34 L622.56,257.71 L622.86,258.06 L623.21,258.37 L623.65,258.65 L624.18,258.88 L624.82,259.07 L625.60,259.20 L626.52,259.26 L627.59,259.25 L628.76,259.18 L630.04,259.06 L631.39,258.90 L632.80,258.72 L634.25,258.52 L635.72,258.33 L637.19,258.15 L638.64,257.99 L640.05,257.87 L641.40,257.80 L642.73,257.78 L644.08,257.80 L645.44,257.85 L646.81,257.93 L648.18,258.01 L649.54,258.10 L650.89,258.18 L652.22,258.25 L653.52,258.30 L654.79,258.31 L656.02,258.28 L657.20,258.20 L658.32,258.09 L659.38,257.97 L660.38,257.83 L661.35,257.67 L662.29,257.49 L663.21,257.28 L664.13,257.04 L665.06,256.76 L666.01,256.44 L666.99,256.08 L668.02,255.67 L669.10,255.20 L670.26,254.65 L671.50,254.00 L672.80,253.28 L674.14,252.50 L675.50,251.68 L676.86,250.83 L678.20,249.98 L679.50,249.14 L680.74,248.34 L681.90,247.59 L682.96,246.90 L683.90,246.30 L684.73,245.77 L685.49,245.27 L686.18,244.80 L686.80,244.37 L687.37,243.96 L687.88,243.59 L688.33,243.25 L688.74,242.94 L689.11,242.66 L689.44,242.41 L689.73,242.19 L690.00,242.00" fill="none" stroke="#c4c4c4" stroke-width="1.6" stroke-linejoin="round"/>
<path d="M520.00,330.00 L520.22,329.53 L520.49,329.01 L520.79,328.42 L521.13,327.77 L521.50,327.04 L521.91,326.24 L522.34,325.35 L522.79,324.37 L523.27,323.31 L523.77,322.14 L524.28,320.87 L524.80,319.50 L525.35,317.98 L525.93,316.29 L526.53,314.46 L527.17,312.51 L527.82,310.47 L528.49,308.36 L529.18,306.21 L529.88,304.04 L530.58,301.88 L531.29,299.76 L532.00,297.69 L532.70,295.70 L533.42,293.72 L534.16,291.68 L534.93,289.60 L535.70,287.50 L536.49,285.41 L537.28,283.36 L538.05,281.35 L538.82,279.43 L539.56,277.61 L540.28,275.91 L540.96,274.37 L541.60,273.00 L542.19,271.81 L542.72,270.77 L543.22,269.88 L543.68,269.10 L544.12,268.43 L544.55,267.84 L544.98,267.32 L545.42,266.85 L545.88,266.41 L546.38,265.98 L546.91,265.55 L547.50,265.10 L548.06,264.65 L548.55,264.24 L548.98,263.86 L549.40,263.51 L549.85,263.20 L550.34,262.92 L550.93,262.66 L551.64,262.43 L552.51,262.22 L553.57,262.03 L554.85,261.86 L556.40,261.70 L558.31,261.55 L560.63,261.40 L563.26,261.27 L566.13,261.15 L569.16,261.05 L572.26,260.98 L575.36,260.95 L578.38,260.95 L581.23,261.00 L583.84,261.11 L586.12,261.27 L588.00,261.50 L589.50,261.81 L590.72,262.22 L591.71,262.70 L592.49,263.24 L593.11,263.83 L593.61,264.46 L594.01,265.09 L594.35,265.73 L594.68,266.36 L595.02,266.95 L595.42,267.51 L595.90,268.00 L596.43,268.45 L596.92,268.88 L597.40,269.30 L597.85,269.70 L598.28,270.09 L598.69,270.47 L599.09,270.83 L599.49,271.19 L599.87,271.53 L600.25,271.86 L600.62,272.18 L601.00,272.50 L601.37,272.81 L601.74,273.10 L602.09,273.38 L602.43,273.64 L602.77,273.90 L603.10,274.15 L603.42,274.39 L603.74,274.62 L604.06,274.85 L604.37,275.07 L604.69,275.29 L605.00,275.50 L605.31,275.71 L605.62,275.92 L605.93,276.13 L606.24,276.33 L606.54,276.52 L606.84,276.71 L607.14,276.89 L607.43,277.06 L607.71,277.22 L607.98,277.36 L608.24,277.49 L608.50,277.60 L608.74,277.70 L608.97,277.79 L609.18,277.87 L609.39,277.94 L609.59,278.00 L609.78,278.04 L609.97,278.08 L610.17,278.09 L610.36,278.09 L610.57,278.08 L610.78,278.05 L611.00,278.00 L611.23,277.94 L611.46,277.87 L611.70,277.79 L611.94,277.70 L612.18,277.60 L612.43,277.48 L612.68,277.33 L612.93,277.16 L613.19,276.97 L613.45,276.75 L613.72,276.49 L614.00,276.20 L614.29,275.87 L614.58,275.48 L614.89,275.06 L615.20,274.61 L615.51,274.13 L615.83,273.63 L616.15,273.11 L616.47,272.59 L616.79,272.07 L617.10,271.57 L617.40,271.07 L617.70,270.60 L617.99,270.14 L618.27,269.66 L618.55,269.18 L618.82,268.70 L619.09,268.22 L619.36,267.74 L619.62,267.28 L619.89,266.82 L620.16,266.38 L620.44,265.96 L620.72,265.57 L621.00,265.20 L621.26,264.85 L621.48,264.50 L621.66,264.17 L621.83,263.84 L622.01,263.54 L622.20,263.25 L622.43,262.98 L622.70,262.74 L623.04,262.53 L623.46,262.35 L623.97,262.21 L624.60,262.10 L625.35,262.04 L626.22,262.02 L627.20,262.04 L628.25,262.09 L629.37,262.18 L630.54,262.28 L631.73,262.40 L632.94,262.54 L634.13,262.68 L635.31,262.83 L636.43,262.97 L637.50,263.10 L638.52,263.24 L639.53,263.40 L640.52,263.58 L641.51,263.77 L642.49,263.96 L643.46,264.16 L644.43,264.36 L645.40,264.54 L646.37,264.72 L647.34,264.87 L648.32,265.00 L649.30,265.10 L650.29,265.16 L651.28,265.17 L652.27,265.15 L653.26,265.10 L654.26,265.04 L655.25,264.98 L656.24,264.92 L657.24,264.89 L658.23,264.87 L659.22,264.90 L660.21,264.97 L661.20,265.10 L662.19,265.28 L663.18,265.49 L664.18,265.74 L665.17,266.01 L666.17,266.31 L667.16,266.64 L668.15,266.99 L669.14,267.36 L670.12,267.74 L671.09,268.15 L672.05,268.57 L673.00,269.00 L673.96,269.47 L674.92,269.98 L675.90,270.54 L676.88,271.12 L677.85,271.72 L678.81,272.33 L679.74,272.94 L680.66,273.54 L681.53,274.11 L682.37,274.65 L683.16,275.15 L683.90,275.60 L684.60,276.01 L685.27,276.39 L685.91,276.75 L686.51,277.10 L687.09,277.42 L687.63,277.71 L688.13,277.99 L688.60,278.24 L689.02,278.46 L689.39,278.67 L689.72,278.85 L690.00,279.00" fill="none" stroke="#ff8a14" stroke-width="1.6" stroke-linejoin="round"/>
<path d="M606.00,260.20 L606.90,260.17 L608.00,260.14 L609.27,260.10 L610.70,260.06 L612.27,260.01 L613.94,259.96 L615.70,259.91 L617.52,259.86 L619.38,259.81 L621.27,259.77 L623.15,259.73 L625.00,259.70 L626.83,259.68 L628.65,259.66 L630.48,259.64 L632.33,259.63 L634.23,259.62 L636.19,259.62 L638.22,259.61 L640.33,259.61 L642.55,259.61 L644.90,259.61 L647.37,259.60 L650.00,259.60 L652.94,259.60 L656.26,259.59 L659.88,259.59 L663.70,259.59 L667.63,259.59 L671.56,259.59 L675.41,259.59 L679.07,259.60 L682.46,259.60 L685.47,259.60 L688.02,259.60 L690.00,259.60" fill="none" stroke="#22c8cc" stroke-width="1.0" stroke-linejoin="round"/>
<line x1="507.40" y1="260.70" x2="683.90" y2="260.70" stroke="#0a7a0a" stroke-width="2.1" />
<ellipse cx="571.8" cy="259.0" rx="31.6" ry="38.8" fill="none" stroke="#ff1a1a" stroke-width="1.6" stroke-dasharray="5,3.2"/>
</g>
<rect x="507.4" y="193.9" width="176.5" height="125.6" fill="none" stroke="#1a1aff" stroke-width="2"/>
<text x="251.40" y="380.80" font-size="20" text-anchor="start" fill="#000" font-weight="normal" >e</text>
<line x1="416.40" y1="381.50" x2="416.40" y2="503.30" stroke="#dcdcdc" stroke-width="0.7" />
<line x1="281.40" y1="442.40" x2="497.00" y2="442.40" stroke="#e0e0e0" stroke-width="0.7" />
<path d="M281.40,442.40 L281.52,442.40 L281.68,442.40 L281.86,442.40 L282.07,442.40 L282.29,442.40 L282.53,442.40 L282.76,442.40 L283.00,442.40 L283.23,442.40 L283.44,442.40 L283.64,442.40 L283.85,442.40 L284.05,442.40 L284.26,442.40 L284.46,442.40 L284.66,442.40 L284.87,442.40 L285.07,442.40 L285.28,442.40 L285.48,442.40 L285.68,442.40 L285.89,442.40 L286.09,442.40 L286.30,442.40 L286.50,442.40 L286.70,442.40 L286.91,442.40 L287.11,442.40 L287.32,442.40 L287.52,442.40 L287.72,442.40 L287.93,442.40 L288.13,442.40 L288.34,442.40 L288.54,442.40 L288.74,442.40 L288.95,442.40 L289.15,442.40 L289.36,442.40 L289.56,442.40 L289.76,442.40 L289.97,442.40 L290.17,442.40 L290.38,442.40 L290.58,442.40 L290.78,442.40 L290.99,442.40 L291.19,442.40 L291.40,442.40 L291.60,442.40 L291.80,442.40 L292.01,442.40 L292.21,442.40 L292.42,442.40 L292.62,442.40 L292.82,442.40 L293.03,442.40 L293.23,442.40 L293.44,442.40 L293.64,442.40 L293.84,442.40 L294.05,442.40 L294.25,442.40 L294.46,442.40 L294.66,442.40 L294.86,442.40 L295.07,442.40 L295.27,442.40 L295.48,442.40 L295.68,442.40 L295.88,442.40 L296.09,442.40 L296.29,442.40 L296.50,442.40 L296.70,442.40 L296.90,442.40 L297.11,442.40 L297.31,442.40 L297.52,442.40 L297.72,442.40 L297.92,442.41 L298.13,442.45 L298.33,442.50 L298.53,442.55 L298.73,442.59 L298.94,442.62 L299.14,442.62 L299.34,442.60 L299.55,442.52 L299.76,442.40 L299.98,442.26 L300.20,442.13 L300.43,442.00 L300.67,441.84 L300.90,441.64 L301.13,441.38 L301.35,441.03 L301.56,440.59 L301.75,440.04 L301.92,439.35 L302.07,438.50 L302.20,437.51 L302.32,436.38 L302.42,435.16 L302.51,433.86 L302.60,432.51 L302.69,431.14 L302.79,429.78 L302.89,428.44 L303.00,427.15 L303.12,425.79 L303.24,424.27 L303.37,422.64 L303.50,420.99 L303.63,419.37 L303.76,417.87 L303.89,416.54 L304.03,415.47 L304.16,414.71 L304.30,414.34 L304.43,414.39 L304.56,414.81 L304.69,415.53 L304.81,416.49 L304.94,417.65 L305.08,418.92 L305.22,420.27 L305.37,421.62 L305.53,422.92 L305.70,424.10 L305.88,425.26 L306.06,426.51 L306.25,427.83 L306.45,429.17 L306.65,430.53 L306.87,431.87 L307.09,433.16 L307.33,434.38 L307.59,435.49 L307.86,436.48 L308.16,437.36 L308.48,438.17 L308.82,438.92 L309.17,439.60 L309.53,440.22 L309.90,440.77 L310.27,441.26 L310.63,441.70 L310.98,442.08 L311.32,442.40 L311.64,442.65 L311.95,442.81 L312.27,442.89 L312.57,442.91 L312.88,442.88 L313.17,442.82 L313.47,442.72 L313.76,442.61 L314.05,442.50 L314.34,442.40 L314.62,442.30 L314.87,442.18 L315.12,442.03 L315.36,441.87 L315.60,441.69 L315.85,441.50 L316.11,441.29 L316.39,441.06 L316.70,440.82 L317.04,440.57 L317.42,440.28 L317.84,439.94 L318.30,439.57 L318.77,439.18 L319.26,438.78 L319.74,438.39 L320.22,438.02 L320.69,437.70 L321.12,437.42 L321.52,437.21 L321.89,437.07 L322.24,436.97 L322.58,436.90 L322.90,436.87 L323.21,436.87 L323.50,436.90 L323.79,436.95 L324.07,437.02 L324.34,437.11 L324.60,437.21 L324.84,437.38 L325.06,437.66 L325.25,438.00 L325.43,438.37 L325.60,438.74 L325.78,439.07 L325.98,439.34 L326.20,439.49 L326.46,439.51 L326.76,439.35 L327.11,438.96 L327.52,438.35 L327.97,437.58 L328.44,436.69 L328.92,435.75 L329.40,434.80 L329.87,433.90 L330.32,433.10 L330.73,432.46 L331.08,432.03 L331.38,431.82 L331.65,431.76 L331.89,431.84 L332.10,432.01 L332.30,432.24 L332.48,432.51 L332.66,432.77 L332.84,433.01 L333.03,433.18 L333.24,433.25 L333.46,433.22 L333.67,433.13 L333.89,432.98 L334.10,432.80 L334.32,432.62 L334.54,432.45 L334.75,432.32 L334.97,432.24 L335.18,432.24 L335.40,432.33 L335.62,432.52 L335.83,432.78 L336.05,433.10 L336.26,433.47 L336.48,433.88 L336.70,434.33 L336.91,434.80 L337.13,435.29 L337.34,435.80 L337.56,436.30 L337.78,436.85 L337.99,437.48 L338.21,438.17 L338.43,438.88 L338.64,439.60 L338.86,440.30 L339.07,440.95 L339.29,441.54 L339.51,442.03 L339.72,442.40 L339.93,442.65 L340.15,442.79 L340.36,442.85 L340.57,442.84 L340.79,442.78 L341.00,442.69 L341.21,442.59 L341.42,442.50 L341.64,442.43 L341.85,442.40 L342.06,442.40 L342.28,442.40 L342.49,442.40 L342.70,442.40 L342.91,442.40 L343.13,442.40 L343.34,442.40 L343.55,442.40 L343.77,442.40 L343.98,442.40 L344.19,442.40 L344.41,442.40 L344.62,442.40 L344.83,442.40 L345.04,442.40 L345.26,442.40 L345.47,442.40 L345.68,442.40 L345.90,442.40 L346.11,442.40 L346.32,442.40 L346.54,442.40 L346.75,442.40 L346.96,442.40 L347.18,442.40 L347.39,442.40 L347.60,442.40 L347.81,442.40 L348.03,442.40 L348.24,442.40 L348.45,442.40 L348.67,442.40 L348.88,442.40 L349.09,442.40 L349.31,442.40 L349.52,442.40 L349.73,442.40 L349.94,442.40 L350.16,442.40 L350.37,442.40 L350.58,442.40 L350.80,442.40 L351.01,442.40 L351.22,442.40 L351.44,442.40 L351.65,442.40 L351.86,442.40 L352.07,442.40 L352.29,442.40 L352.50,442.40 L352.71,442.40 L352.93,442.40 L353.14,442.40 L353.35,442.40 L353.56,442.40 L353.78,442.40 L353.99,442.40 L354.20,442.40 L354.42,442.40 L354.63,442.40 L354.84,442.40 L355.06,442.40 L355.27,442.40 L355.48,442.40 L355.69,442.40 L355.91,442.40 L356.12,442.40 L356.33,442.40 L356.55,442.40 L356.76,442.40 L356.97,442.40 L357.19,442.40 L357.40,442.40 L357.61,442.40 L357.82,442.40 L358.04,442.40 L358.25,442.40 L358.46,442.40 L358.68,442.40 L358.89,442.40 L359.10,442.40 L359.32,442.40 L359.53,442.40 L359.74,442.40 L359.95,442.40 L360.17,442.40 L360.38,442.40 L360.59,442.40 L360.81,442.40 L361.02,442.40 L361.23,442.40 L361.45,442.40 L361.66,442.40 L361.87,442.40 L362.08,442.40 L362.30,442.40 L362.51,442.40 L362.72,442.40 L362.94,442.40 L363.15,442.40 L363.36,442.40 L363.58,442.40 L363.79,442.40 L364.00,442.40 L364.21,442.40 L364.43,442.40 L364.64,442.40 L364.85,442.40 L365.07,442.40 L365.28,442.40 L365.49,442.40 L365.71,442.40 L365.92,442.40 L366.13,442.40 L366.34,442.40 L366.56,442.40 L366.77,442.40 L366.98,442.40 L367.20,442.40 L367.41,442.40 L367.62,442.40 L367.84,442.40 L368.05,442.40 L368.26,442.40 L368.47,442.40 L368.69,442.40 L368.90,442.40 L369.11,442.40 L369.33,442.40 L369.54,442.40 L369.75,442.40 L369.97,442.40 L370.18,442.40 L370.39,442.40 L370.60,442.40 L370.82,442.40 L371.03,442.40 L371.24,442.40 L371.46,442.40 L371.67,442.40 L371.88,442.40 L372.10,442.40 L372.31,442.40 L372.52,442.40 L372.73,442.40 L372.95,442.40 L373.16,442.40 L373.37,442.40 L373.59,442.40 L373.80,442.40 L374.01,442.40 L374.23,442.40 L374.44,442.40 L374.65,442.40 L374.87,442.40 L375.08,442.40 L375.29,442.40 L375.50,442.40 L375.72,442.40 L375.93,442.40 L376.14,442.40 L376.36,442.40 L376.57,442.40 L376.78,442.40 L376.99,442.40 L377.21,442.40 L377.42,442.40 L377.63,442.40 L377.85,442.40 L378.06,442.40 L378.27,442.40 L378.49,442.40 L378.70,442.40 L378.91,442.40 L379.12,442.40 L379.34,442.40 L379.55,442.40 L379.76,442.40 L379.98,442.40 L380.19,442.40 L380.40,442.40 L380.62,442.40 L380.83,442.40 L381.04,442.40 L381.25,442.40 L381.47,442.40 L381.68,442.40 L381.89,442.40 L382.11,442.40 L382.32,442.40 L382.53,442.40 L382.75,442.40 L382.96,442.40 L383.17,442.40 L383.38,442.40 L383.60,442.40 L383.81,442.40 L384.02,442.40 L384.24,442.40 L384.45,442.40 L384.66,442.40 L384.88,442.40 L385.09,442.40 L385.30,442.40 L385.51,442.40 L385.73,442.40 L385.94,442.40 L386.15,442.40 L386.37,442.40 L386.58,442.40 L386.79,442.40 L387.01,442.40 L387.22,442.40 L387.43,442.40 L387.64,442.40 L387.86,442.40 L388.07,442.40 L388.28,442.40 L388.50,442.40 L388.71,442.40 L388.92,442.40 L389.14,442.40 L389.35,442.40 L389.56,442.40 L389.77,442.40 L389.99,442.40 L390.20,442.40 L390.41,442.40 L390.63,442.40 L390.84,442.40 L391.05,442.40 L391.27,442.40 L391.48,442.40 L391.69,442.40 L391.90,442.40 L392.12,442.40 L392.33,442.40 L392.54,442.40 L392.76,442.40 L392.97,442.40 L393.18,442.40 L393.40,442.40 L393.61,442.40 L393.82,442.40 L394.03,442.40 L394.25,442.40 L394.46,442.40 L394.67,442.40 L394.89,442.40 L395.10,442.40 L395.31,442.40 L395.53,442.40 L395.74,442.40 L395.95,442.40 L396.17,442.40 L396.38,442.40 L396.59,442.40 L396.80,442.40 L397.02,442.40 L397.23,442.40 L397.44,442.40 L397.66,442.40 L397.87,442.40 L398.08,442.40 L398.29,442.40 L398.51,442.40 L398.72,442.40 L398.93,442.40 L399.15,442.40 L399.36,442.40 L399.57,442.40 L399.79,442.40 L400.00,442.40 L400.21,442.40 L400.43,442.40 L400.64,442.40 L400.85,442.40 L401.06,442.40 L401.28,442.40 L401.49,442.40 L401.70,442.40 L401.92,442.40 L402.13,442.40 L402.34,442.40 L402.56,442.40 L402.77,442.40 L402.98,442.40 L403.19,442.40 L403.41,442.40 L403.62,442.40 L403.83,442.40 L404.05,442.40 L404.26,442.40 L404.47,442.40 L404.69,442.40 L404.90,442.40 L405.11,442.40 L405.32,442.40 L405.54,442.40 L405.75,442.40 L405.96,442.40 L406.18,442.40 L406.39,442.40 L406.60,442.40 L406.81,442.40 L407.03,442.40 L407.24,442.40 L407.45,442.40 L407.67,442.40 L407.88,442.40 L408.09,442.40 L408.31,442.40 L408.52,442.40 L408.73,442.40 L408.94,442.40 L409.16,442.40 L409.37,442.40 L409.58,442.40 L409.80,442.40 L410.01,442.40 L410.22,442.40 L410.44,442.40 L410.65,442.40 L410.86,442.40 L411.07,442.40 L411.29,442.40 L411.50,442.40 L411.71,442.40 L411.93,442.40 L412.14,442.40 L412.35,442.40 L412.57,442.40 L412.78,442.40 L412.99,442.40 L413.20,442.40 L413.42,442.40 L413.63,442.40 L413.84,442.40 L414.06,442.40 L414.27,442.40 L414.48,442.40 L414.70,442.40 L414.91,442.40 L415.13,442.40 L415.34,442.40 L415.56,442.41 L415.77,442.41 L415.98,442.40 L416.19,442.40 L416.40,442.40 L416.61,442.40 L416.81,442.39 L417.02,442.38 L417.22,442.37 L417.42,442.37 L417.62,442.36 L417.82,442.35 L418.02,442.34 L418.22,442.33 L418.42,442.32 L418.63,442.32 L418.83,442.31 L419.03,442.30 L419.23,442.29 L419.44,442.29 L419.64,442.28 L419.84,442.27 L420.04,442.26 L420.25,442.26 L420.45,442.25 L420.65,442.24 L420.86,442.23 L421.06,442.22 L421.26,442.22 L421.46,442.21 L421.67,442.20 L421.87,442.19 L422.07,442.19 L422.27,442.18 L422.48,442.17 L422.68,442.16 L422.88,442.16 L423.08,442.15 L423.29,442.14 L423.49,442.13 L423.69,442.13 L423.89,442.12 L424.10,442.11 L424.30,442.10 L424.50,442.09 L424.70,442.09 L424.90,442.08 L425.11,442.07 L425.31,442.06 L425.51,442.06 L425.71,442.05 L425.92,442.04 L426.12,442.03 L426.32,442.03 L426.52,442.02 L426.73,442.01 L426.93,442.00 L427.13,442.00 L427.33,441.99 L427.54,441.98 L427.74,441.97 L427.94,441.97 L428.14,441.96 L428.35,441.95 L428.55,441.94 L428.75,441.93 L428.95,441.93 L429.16,441.92 L429.36,441.91 L429.56,441.90 L429.76,441.90 L429.97,441.89 L430.17,441.88 L430.37,441.87 L430.57,441.87 L430.78,441.86 L430.98,441.85 L431.18,441.85 L431.38,441.84 L431.58,441.84 L431.78,441.83 L431.98,441.83 L432.19,441.82 L432.39,441.80 L432.60,441.79 L432.81,441.77 L433.02,441.75 L433.24,441.73 L433.45,441.70 L433.67,441.68 L433.89,441.65 L434.11,441.62 L434.33,441.60 L434.54,441.57 L434.76,441.55 L434.98,441.52 L435.19,441.50 L435.41,441.47 L435.62,441.45 L435.84,441.42 L436.06,441.40 L436.27,441.38 L436.49,441.35 L436.70,441.33 L436.92,441.30 L437.14,441.28 L437.35,441.25 L437.57,441.23 L437.78,441.20 L438.00,441.18 L438.22,441.16 L438.43,441.13 L438.65,441.11 L438.86,441.08 L439.08,441.06 L439.30,441.03 L439.51,441.01 L439.73,440.98 L439.94,440.96 L440.16,440.94 L440.38,440.91 L440.59,440.89 L440.81,440.86 L441.02,440.84 L441.24,440.81 L441.46,440.79 L441.67,440.76 L441.89,440.73 L442.10,440.70 L442.32,440.68 L442.54,440.65 L442.75,440.63 L442.97,440.60 L443.18,440.58 L443.40,440.57 L443.62,440.56 L443.83,440.55 L444.05,440.55 L444.26,440.55 L444.48,440.55 L444.70,440.56 L444.91,440.56 L445.13,440.57 L445.34,440.57 L445.56,440.57 L445.78,440.57 L445.99,440.57 L446.21,440.57 L446.42,440.57 L446.64,440.57 L446.86,440.57 L447.07,440.57 L447.29,440.57 L447.50,440.57 L447.72,440.57 L447.94,440.57 L448.15,440.57 L448.37,440.57 L448.58,440.57 L448.80,440.57 L449.02,440.57 L449.23,440.57 L449.45,440.57 L449.66,440.57 L449.88,440.57 L450.10,440.57 L450.31,440.57 L450.53,440.57 L450.74,440.57 L450.96,440.57 L451.18,440.57 L451.39,440.57 L451.61,440.57 L451.82,440.57 L452.04,440.57 L452.26,440.57 L452.47,440.57 L452.69,440.56 L452.91,440.56 L453.13,440.55 L453.35,440.55 L453.56,440.55 L453.78,440.55 L453.99,440.56 L454.20,440.57 L454.41,440.59 L454.61,440.61 L454.82,440.64 L455.02,440.67 L455.22,440.70 L455.42,440.74 L455.62,440.77 L455.82,440.81 L456.02,440.84 L456.23,440.88 L456.43,440.91 L456.63,440.94 L456.83,440.97 L457.04,441.00 L457.24,441.03 L457.44,441.06 L457.64,441.09 L457.85,441.12 L458.05,441.15 L458.25,441.18 L458.45,441.21 L458.65,441.24 L458.86,441.27 L459.06,441.30 L459.26,441.33 L459.46,441.36 L459.67,441.39 L459.87,441.42 L460.07,441.45 L460.27,441.48 L460.46,441.51 L460.63,441.54 L460.78,441.57 L460.92,441.59 L461.08,441.62 L461.25,441.65 L461.44,441.68 L461.68,441.71 L461.96,441.75 L462.30,441.79 L462.72,441.84 L463.22,441.90 L463.78,441.97 L464.38,442.04 L465.00,442.11 L465.62,442.19 L466.22,442.25 L466.78,442.31 L467.28,442.36 L467.70,442.40 L468.04,442.42 L468.33,442.44 L468.57,442.44 L468.78,442.44 L468.95,442.44 L469.11,442.43 L469.27,442.42 L469.43,442.41 L469.60,442.40 L469.79,442.40 L470.00,442.40 L470.21,442.40 L470.42,442.40 L470.63,442.40 L470.84,442.40 L471.05,442.40 L471.26,442.40 L471.47,442.40 L471.68,442.40 L471.88,442.40 L472.09,442.40 L472.30,442.40 L472.51,442.40 L472.72,442.40 L472.93,442.40 L473.14,442.40 L473.35,442.40 L473.56,442.40 L473.77,442.40 L473.98,442.40 L474.19,442.40 L474.40,442.40 L474.61,442.40 L474.81,442.40 L475.02,442.40 L475.23,442.40 L475.44,442.40 L475.65,442.40 L475.86,442.40 L476.07,442.40 L476.28,442.40 L476.49,442.40 L476.70,442.40 L476.91,442.40 L477.12,442.40 L477.33,442.40 L477.53,442.40 L477.74,442.40 L477.95,442.40 L478.16,442.40 L478.37,442.40 L478.58,442.40 L478.79,442.40 L479.00,442.40 L479.21,442.40 L479.42,442.40 L479.63,442.40 L479.84,442.40 L480.05,442.40 L480.25,442.40 L480.46,442.40 L480.67,442.40 L480.88,442.40 L481.09,442.40 L481.30,442.40 L481.51,442.40 L481.72,442.40 L481.93,442.40 L482.14,442.40 L482.35,442.40 L482.57,442.40 L482.80,442.40 L483.04,442.40 L483.28,442.40 L483.52,442.40 L483.75,442.40 L483.97,442.40 L484.16,442.40 L484.32,442.40 L484.44,442.40" fill="none" stroke="#22c8cc" stroke-width="1.3" stroke-linejoin="round"/>
<path d="M281.40,442.40 L281.52,442.40 L281.68,442.40 L281.86,442.40 L282.07,442.40 L282.29,442.40 L282.53,442.40 L282.76,442.40 L283.00,442.40 L283.23,442.40 L283.44,442.40 L283.64,442.40 L283.85,442.40 L284.05,442.40 L284.26,442.40 L284.46,442.40 L284.66,442.40 L284.87,442.40 L285.07,442.40 L285.28,442.40 L285.48,442.40 L285.68,442.40 L285.89,442.40 L286.09,442.40 L286.30,442.40 L286.50,442.40 L286.70,442.40 L286.91,442.40 L287.11,442.40 L287.32,442.40 L287.52,442.40 L287.72,442.40 L287.93,442.40 L288.13,442.40 L288.34,442.40 L288.54,442.40 L288.74,442.40 L288.95,442.40 L289.15,442.40 L289.36,442.40 L289.56,442.40 L289.76,442.40 L289.97,442.40 L290.17,442.40 L290.38,442.40 L290.58,442.40 L290.78,442.40 L290.99,442.40 L291.19,442.40 L291.40,442.40 L291.60,442.40 L291.80,442.40 L292.01,442.40 L292.21,442.40 L292.42,442.40 L292.62,442.40 L292.82,442.40 L293.03,442.40 L293.23,442.40 L293.44,442.40 L293.64,442.40 L293.84,442.40 L294.05,442.40 L294.25,442.40 L294.46,442.40 L294.66,442.40 L294.86,442.40 L295.07,442.40 L295.27,442.40 L295.48,442.40 L295.68,442.40 L295.88,442.40 L296.09,442.40 L296.29,442.40 L296.50,442.40 L296.70,442.40 L296.90,442.40 L297.11,442.40 L297.31,442.40 L297.52,442.40 L297.72,442.40 L297.92,442.38 L298.13,442.34 L298.33,442.28 L298.53,442.22 L298.73,442.17 L298.94,442.14 L299.14,442.13 L299.34,442.17 L299.55,442.25 L299.76,442.40 L299.98,442.58 L300.20,442.77 L300.43,442.98 L300.67,443.22 L300.90,443.51 L301.13,443.85 L301.35,444.26 L301.56,444.76 L301.75,445.36 L301.92,446.06 L302.07,446.89 L302.20,447.85 L302.32,448.92 L302.42,450.07 L302.51,451.28 L302.60,452.55 L302.69,453.83 L302.79,455.13 L302.89,456.41 L303.00,457.65 L303.12,458.98 L303.24,460.50 L303.37,462.11 L303.50,463.77 L303.63,465.39 L303.76,466.90 L303.89,468.24 L304.03,469.32 L304.16,470.09 L304.30,470.46 L304.43,470.39 L304.56,469.93 L304.69,469.15 L304.81,468.12 L304.94,466.91 L305.08,465.60 L305.22,464.25 L305.37,462.94 L305.53,461.73 L305.70,460.70 L305.88,459.80 L306.06,458.91 L306.25,458.05 L306.45,457.20 L306.65,456.35 L306.87,455.52 L307.09,454.68 L307.33,453.85 L307.59,453.01 L307.86,452.16 L308.16,451.27 L308.48,450.33 L308.82,449.37 L309.17,448.39 L309.53,447.43 L309.90,446.51 L310.27,445.64 L310.63,444.86 L310.98,444.18 L311.32,443.62 L311.64,443.19 L311.95,442.86 L312.27,442.62 L312.57,442.46 L312.88,442.36 L313.17,442.32 L313.47,442.31 L313.76,442.33 L314.05,442.37 L314.34,442.40 L314.61,442.45 L314.86,442.54 L315.09,442.66 L315.32,442.82 L315.55,443.00 L315.79,443.21 L316.05,443.44 L316.34,443.69 L316.67,443.95 L317.04,444.23 L317.46,444.56 L317.94,444.96 L318.45,445.41 L318.99,445.89 L319.55,446.37 L320.12,446.84 L320.68,447.26 L321.24,447.61 L321.77,447.87 L322.28,448.01 L322.75,447.99 L323.21,447.80 L323.66,447.49 L324.10,447.11 L324.53,446.70 L324.96,446.30 L325.40,445.97 L325.84,445.75 L326.29,445.68 L326.76,445.82 L327.25,446.20 L327.78,446.79 L328.32,447.56 L328.88,448.43 L329.43,449.37 L329.97,450.31 L330.48,451.20 L330.96,452.00 L331.40,452.64 L331.78,453.07 L332.11,453.31 L332.38,453.40 L332.62,453.36 L332.82,453.24 L332.99,453.06 L333.15,452.83 L333.30,452.61 L333.45,452.40 L333.61,452.24 L333.78,452.16 L333.95,452.16 L334.12,452.20 L334.28,452.28 L334.43,452.37 L334.58,452.47 L334.73,452.55 L334.89,452.60 L335.05,452.60 L335.22,452.54 L335.40,452.40 L335.59,452.19 L335.80,451.92 L336.01,451.61 L336.23,451.25 L336.45,450.85 L336.67,450.42 L336.89,449.96 L337.12,449.49 L337.34,449.00 L337.56,448.50 L337.78,447.95 L337.99,447.32 L338.21,446.64 L338.42,445.93 L338.64,445.21 L338.86,444.51 L339.07,443.85 L339.29,443.26 L339.50,442.77 L339.72,442.40 L339.94,442.15 L340.15,442.01 L340.37,441.95 L340.58,441.96 L340.80,442.02 L341.02,442.11 L341.23,442.21 L341.45,442.30 L341.66,442.37 L341.88,442.40 L342.10,442.40 L342.31,442.40 L342.53,442.40 L342.74,442.40 L342.96,442.40 L343.18,442.40 L343.39,442.40 L343.61,442.40 L343.82,442.40 L344.04,442.40 L344.26,442.40 L344.47,442.40 L344.69,442.40 L344.90,442.40 L345.12,442.40 L345.34,442.40 L345.55,442.40 L345.77,442.40 L345.98,442.40 L346.20,442.40 L346.42,442.40 L346.63,442.40 L346.85,442.40 L347.06,442.40 L347.28,442.40 L347.50,442.40 L347.71,442.40 L347.93,442.40 L348.14,442.40 L348.36,442.40 L348.58,442.40 L348.79,442.40 L349.01,442.40 L349.22,442.40 L349.44,442.40 L349.66,442.40 L349.87,442.40 L350.09,442.40 L350.30,442.40 L350.52,442.40 L350.74,442.40 L350.95,442.40 L351.17,442.40 L351.38,442.40 L351.60,442.40 L351.82,442.40 L352.03,442.40 L352.25,442.40 L352.46,442.40 L352.68,442.40 L352.90,442.40 L353.11,442.40 L353.33,442.40 L353.54,442.40 L353.76,442.40 L353.98,442.40 L354.19,442.40 L354.41,442.40 L354.62,442.40 L354.84,442.40 L355.06,442.40 L355.27,442.40 L355.49,442.40 L355.70,442.40 L355.92,442.40 L356.14,442.40 L356.35,442.40 L356.57,442.40 L356.78,442.40 L357.00,442.40 L357.22,442.40 L357.43,442.40 L357.65,442.40 L357.86,442.40 L358.08,442.40 L358.30,442.40 L358.51,442.40 L358.73,442.40 L358.94,442.40 L359.16,442.40 L359.38,442.40 L359.59,442.40 L359.81,442.40 L360.02,442.40 L360.24,442.40 L360.46,442.40 L360.67,442.40 L360.89,442.40 L361.10,442.40 L361.32,442.40 L361.54,442.40 L361.75,442.40 L361.97,442.40 L362.18,442.40 L362.40,442.40 L362.62,442.40 L362.83,442.40 L363.05,442.40 L363.26,442.40 L363.48,442.40 L363.70,442.40 L363.91,442.40 L364.13,442.40 L364.34,442.40 L364.56,442.40 L364.78,442.40 L364.99,442.40 L365.21,442.40 L365.42,442.40 L365.64,442.40 L365.86,442.40 L366.07,442.40 L366.29,442.40 L366.50,442.40 L366.72,442.40 L366.94,442.40 L367.15,442.40 L367.37,442.40 L367.58,442.40 L367.80,442.40 L368.02,442.40 L368.23,442.40 L368.45,442.40 L368.66,442.40 L368.88,442.40 L369.10,442.40 L369.31,442.40 L369.53,442.40 L369.74,442.40 L369.96,442.40 L370.18,442.40 L370.39,442.40 L370.61,442.40 L370.82,442.40 L371.04,442.40 L371.26,442.40 L371.47,442.40 L371.69,442.40 L371.90,442.40 L372.12,442.40 L372.34,442.40 L372.55,442.40 L372.77,442.40 L372.98,442.40 L373.20,442.40 L373.42,442.40 L373.63,442.40 L373.85,442.40 L374.06,442.40 L374.28,442.40 L374.50,442.40 L374.71,442.40 L374.93,442.40 L375.14,442.40 L375.36,442.40 L375.58,442.40 L375.79,442.40 L376.01,442.40 L376.22,442.40 L376.44,442.40 L376.66,442.40 L376.87,442.40 L377.09,442.40 L377.30,442.40 L377.52,442.40 L377.74,442.40 L377.95,442.40 L378.17,442.40 L378.38,442.40 L378.60,442.40 L378.82,442.40 L379.03,442.40 L379.25,442.40 L379.46,442.40 L379.68,442.40 L379.90,442.40 L380.11,442.40 L380.33,442.40 L380.54,442.40 L380.76,442.40 L380.98,442.40 L381.19,442.40 L381.41,442.40 L381.62,442.40 L381.84,442.40 L382.06,442.40 L382.27,442.40 L382.49,442.40 L382.70,442.40 L382.92,442.40 L383.14,442.40 L383.35,442.40 L383.57,442.40 L383.78,442.40 L384.00,442.40 L384.22,442.40 L384.43,442.40 L384.65,442.40 L384.86,442.40 L385.08,442.40 L385.30,442.40 L385.51,442.40 L385.73,442.40 L385.94,442.40 L386.16,442.40 L386.38,442.40 L386.59,442.40 L386.81,442.40 L387.02,442.40 L387.24,442.40 L387.46,442.40 L387.67,442.40 L387.89,442.40 L388.10,442.40 L388.32,442.40 L388.54,442.40 L388.75,442.40 L388.97,442.40 L389.18,442.40 L389.40,442.40 L389.62,442.40 L389.83,442.40 L390.05,442.40 L390.26,442.40 L390.48,442.40 L390.70,442.40 L390.91,442.40 L391.13,442.40 L391.34,442.40 L391.56,442.40 L391.78,442.40 L391.99,442.40 L392.21,442.40 L392.42,442.40 L392.64,442.40 L392.86,442.40 L393.07,442.40 L393.29,442.40 L393.50,442.40 L393.72,442.40 L393.94,442.40 L394.15,442.40 L394.37,442.40 L394.58,442.40 L394.80,442.40 L395.02,442.40 L395.23,442.40 L395.45,442.40 L395.66,442.40 L395.88,442.40 L396.10,442.40 L396.31,442.40 L396.53,442.40 L396.74,442.40 L396.96,442.40 L397.18,442.40 L397.39,442.40 L397.61,442.40 L397.82,442.40 L398.04,442.40 L398.26,442.40 L398.47,442.40 L398.69,442.40 L398.90,442.40 L399.12,442.40 L399.34,442.40 L399.55,442.40 L399.77,442.40 L399.98,442.40 L400.20,442.40 L400.42,442.40 L400.63,442.40 L400.85,442.40 L401.06,442.40 L401.28,442.40 L401.50,442.40 L401.71,442.40 L401.93,442.40 L402.14,442.40 L402.36,442.40 L402.58,442.40 L402.79,442.40 L403.01,442.40 L403.22,442.40 L403.44,442.40 L403.66,442.40 L403.87,442.40 L404.09,442.40 L404.30,442.40 L404.52,442.40 L404.74,442.40 L404.95,442.40 L405.17,442.40 L405.38,442.40 L405.60,442.40 L405.82,442.40 L406.03,442.40 L406.25,442.40 L406.46,442.40 L406.68,442.40 L406.90,442.40 L407.11,442.40 L407.33,442.40 L407.54,442.40 L407.76,442.40 L407.98,442.40 L408.19,442.40 L408.41,442.40 L408.62,442.40 L408.84,442.40 L409.06,442.40 L409.27,442.40 L409.49,442.40 L409.70,442.40 L409.92,442.40 L410.14,442.40 L410.35,442.40 L410.57,442.40 L410.78,442.40 L411.00,442.40 L411.22,442.40 L411.43,442.40 L411.65,442.40 L411.86,442.40 L412.08,442.40 L412.30,442.40 L412.51,442.40 L412.73,442.40 L412.94,442.40 L413.16,442.40 L413.38,442.40 L413.59,442.40 L413.81,442.40 L414.02,442.40 L414.24,442.40 L414.46,442.40 L414.67,442.40 L414.89,442.40 L415.10,442.40 L415.32,442.40 L415.54,442.40 L415.75,442.40 L415.97,442.40 L416.18,442.40 L416.40,442.40 L416.62,442.40 L416.83,442.40 L417.05,442.40 L417.26,442.40 L417.48,442.40 L417.70,442.40 L417.91,442.40 L418.13,442.40 L418.34,442.40 L418.56,442.40 L418.78,442.40 L418.99,442.40 L419.21,442.40 L419.42,442.40 L419.64,442.40 L419.86,442.40 L420.07,442.40 L420.29,442.40 L420.50,442.40 L420.72,442.40 L420.94,442.40 L421.15,442.40 L421.37,442.40 L421.58,442.40 L421.80,442.40 L422.02,442.40 L422.23,442.40 L422.45,442.40 L422.66,442.40 L422.88,442.40 L423.10,442.40 L423.31,442.40 L423.53,442.40 L423.74,442.40 L423.96,442.40 L424.18,442.40 L424.39,442.40 L424.61,442.40 L424.82,442.40 L425.04,442.40 L425.26,442.40 L425.47,442.40 L425.69,442.40 L425.90,442.40 L426.12,442.40 L426.34,442.40 L426.55,442.40 L426.77,442.40 L426.98,442.40 L427.20,442.40 L427.42,442.40 L427.63,442.40 L427.85,442.40 L428.06,442.40 L428.28,442.40 L428.50,442.40 L428.71,442.40 L428.93,442.40 L429.14,442.40 L429.36,442.40 L429.58,442.40 L429.79,442.40 L430.01,442.40 L430.22,442.40 L430.44,442.40 L430.66,442.40 L430.87,442.40 L431.09,442.40 L431.30,442.40 L431.52,442.40 L431.74,442.40 L431.95,442.40 L432.17,442.40 L432.38,442.40 L432.60,442.40 L432.82,442.40 L433.03,442.40 L433.25,442.40 L433.46,442.40 L433.68,442.40 L433.90,442.40 L434.11,442.40 L434.33,442.40 L434.54,442.40 L434.76,442.40 L434.98,442.40 L435.19,442.40 L435.41,442.40 L435.62,442.40 L435.84,442.40 L436.06,442.40 L436.27,442.40 L436.49,442.40 L436.70,442.40 L436.92,442.40 L437.14,442.40 L437.35,442.40 L437.57,442.40 L437.78,442.40 L438.00,442.40 L438.22,442.40 L438.43,442.40 L438.65,442.40 L438.86,442.40 L439.08,442.40 L439.30,442.40 L439.51,442.40 L439.73,442.40 L439.94,442.40 L440.16,442.40 L440.38,442.40 L440.59,442.40 L440.81,442.40 L441.02,442.40 L441.24,442.40 L441.46,442.40 L441.67,442.40 L441.89,442.40 L442.10,442.40 L442.32,442.40 L442.54,442.40 L442.75,442.40 L442.97,442.40 L443.18,442.40 L443.40,442.40 L443.62,442.40 L443.83,442.40 L444.05,442.40 L444.26,442.40 L444.48,442.40 L444.70,442.40 L444.91,442.40 L445.13,442.40 L445.34,442.40 L445.56,442.40 L445.78,442.40 L445.99,442.40 L446.21,442.40 L446.42,442.40 L446.64,442.40 L446.86,442.40 L447.07,442.40 L447.29,442.40 L447.50,442.40 L447.72,442.40 L447.94,442.40 L448.15,442.40 L448.37,442.40 L448.58,442.40 L448.80,442.40 L449.02,442.40 L449.23,442.40 L449.45,442.40 L449.66,442.40 L449.88,442.40 L450.10,442.40 L450.31,442.40 L450.53,442.40 L450.74,442.40 L450.96,442.40 L451.18,442.40 L451.39,442.40 L451.61,442.40 L451.82,442.40 L452.04,442.40 L452.26,442.40 L452.47,442.40 L452.69,442.40 L452.90,442.40 L453.12,442.40 L453.34,442.40 L453.55,442.40 L453.77,442.40 L453.98,442.40 L454.20,442.40 L454.42,442.40 L454.63,442.40 L454.85,442.40 L455.06,442.40 L455.28,442.40 L455.50,442.40 L455.71,442.40 L455.93,442.40 L456.14,442.40 L456.36,442.40 L456.58,442.40 L456.79,442.40 L457.01,442.40 L457.22,442.40 L457.44,442.40 L457.66,442.40 L457.87,442.40 L458.09,442.40 L458.30,442.40 L458.52,442.40 L458.74,442.40 L458.95,442.40 L459.17,442.40 L459.38,442.40 L459.60,442.40 L459.82,442.40 L460.03,442.40 L460.25,442.40 L460.46,442.40 L460.68,442.40 L460.90,442.40 L461.11,442.40 L461.33,442.40 L461.54,442.40 L461.76,442.40 L461.98,442.40 L462.19,442.40 L462.41,442.40 L462.62,442.40 L462.84,442.40 L463.06,442.40 L463.27,442.40 L463.49,442.40 L463.70,442.40 L463.92,442.40 L464.14,442.40 L464.35,442.40 L464.57,442.40 L464.78,442.40 L465.00,442.40 L465.22,442.40 L465.43,442.40 L465.65,442.40 L465.86,442.40 L466.08,442.40 L466.30,442.40 L466.51,442.40 L466.73,442.40 L466.94,442.40 L467.16,442.40 L467.38,442.40 L467.59,442.40 L467.81,442.40 L468.02,442.40 L468.24,442.40 L468.46,442.40 L468.67,442.40 L468.89,442.40 L469.10,442.40 L469.32,442.40 L469.54,442.40 L469.75,442.40 L469.97,442.40 L470.18,442.40 L470.40,442.40 L470.62,442.40 L470.83,442.40 L471.05,442.40 L471.26,442.40 L471.48,442.40 L471.70,442.40 L471.91,442.40 L472.13,442.40 L472.34,442.40 L472.56,442.40 L472.78,442.40 L472.99,442.40 L473.21,442.40 L473.42,442.40 L473.64,442.40 L473.86,442.40 L474.07,442.40 L474.29,442.40 L474.50,442.40 L474.72,442.40 L474.94,442.40 L475.15,442.40 L475.37,442.40 L475.58,442.40 L475.80,442.40 L476.02,442.40 L476.23,442.40 L476.45,442.40 L476.66,442.40 L476.88,442.40 L477.10,442.40 L477.31,442.40 L477.53,442.40 L477.74,442.40 L477.96,442.40 L478.18,442.40 L478.39,442.40 L478.61,442.40 L478.82,442.40 L479.04,442.40 L479.26,442.40 L479.47,442.40 L479.69,442.40 L479.90,442.40 L480.12,442.40 L480.34,442.40 L480.55,442.40 L480.77,442.40 L480.98,442.40 L481.20,442.40 L481.42,442.40 L481.63,442.40 L481.85,442.40 L482.06,442.40 L482.28,442.40 L482.51,442.40 L482.75,442.40 L483.00,442.40 L483.25,442.40 L483.50,442.40 L483.73,442.40 L483.95,442.40 L484.15,442.40 L484.31,442.40 L484.44,442.40" fill="none" stroke="#d2691e" stroke-width="1.3" stroke-linejoin="round"/>
<path d="M373.20,442.40 L373.31,442.40 L373.45,442.40 L373.62,442.40 L373.80,442.40 L374.00,442.40 L374.21,442.40 L374.43,442.40 L374.64,442.40 L374.84,442.40 L375.04,442.40 L375.22,442.40 L375.40,442.40 L375.59,442.40 L375.77,442.40 L375.95,442.40 L376.14,442.40 L376.32,442.40 L376.50,442.40 L376.69,442.40 L376.87,442.40 L377.06,442.40 L377.24,442.40 L377.42,442.40 L377.61,442.40 L377.79,442.40 L377.97,442.40 L378.16,442.40 L378.34,442.40 L378.52,442.40 L378.71,442.40 L378.89,442.40 L379.08,442.40 L379.26,442.40 L379.44,442.40 L379.63,442.40 L379.81,442.40 L379.99,442.40 L380.18,442.40 L380.36,442.40 L380.54,442.40 L380.73,442.40 L380.91,442.41 L381.09,442.42 L381.28,442.43 L381.46,442.44 L381.65,442.44 L381.83,442.44 L382.01,442.44 L382.20,442.42 L382.38,442.40 L382.56,442.47 L382.73,442.69 L382.89,442.99 L383.06,443.31 L383.22,443.58 L383.40,443.73 L383.58,443.70 L383.77,443.41 L383.98,442.79 L384.22,441.79 L384.48,440.34 L384.77,438.48 L385.08,436.28 L385.41,433.83 L385.74,431.19 L386.07,428.45 L386.40,425.69 L386.71,422.97 L386.99,420.38 L387.24,418.00 L387.46,415.71 L387.66,413.37 L387.83,411.01 L388.00,408.66 L388.15,406.36 L388.29,404.14 L388.43,402.02 L388.57,400.05 L388.71,398.25 L388.86,396.65 L389.01,395.20 L389.16,393.83 L389.30,392.57 L389.44,391.42 L389.58,390.42 L389.72,389.59 L389.86,388.94 L390.01,388.49 L390.16,388.27 L390.32,388.29 L390.48,388.60 L390.64,389.17 L390.80,390.00 L390.97,391.03 L391.14,392.23 L391.31,393.58 L391.50,395.03 L391.69,396.56 L391.89,398.13 L392.10,399.70 L392.33,401.44 L392.58,403.47 L392.84,405.71 L393.11,408.06 L393.39,410.44 L393.67,412.75 L393.94,414.91 L394.21,416.83 L394.46,418.42 L394.69,419.59 L394.91,420.30 L395.11,420.63 L395.31,420.65 L395.50,420.43 L395.68,420.05 L395.86,419.59 L396.03,419.10 L396.21,418.68 L396.39,418.39 L396.58,418.30 L396.77,418.39 L396.95,418.56 L397.14,418.79 L397.32,419.06 L397.50,419.35 L397.69,419.64 L397.88,419.91 L398.08,420.15 L398.30,420.33 L398.53,420.44 L398.76,420.44 L399.01,420.35 L399.26,420.18 L399.52,419.97 L399.78,419.76 L400.06,419.56 L400.35,419.42 L400.65,419.35 L400.96,419.40 L401.28,419.59 L401.63,419.90 L402.01,420.31 L402.41,420.80 L402.82,421.36 L403.24,421.99 L403.65,422.67 L404.06,423.40 L404.44,424.18 L404.80,424.98 L405.11,425.81 L405.40,426.71 L405.65,427.71 L405.89,428.80 L406.10,429.94 L406.30,431.10 L406.49,432.26 L406.67,433.39 L406.85,434.45 L407.03,435.43 L407.22,436.30 L407.40,437.07 L407.58,437.80 L407.74,438.47 L407.90,439.09 L408.06,439.66 L408.21,440.19 L408.37,440.66 L408.54,441.08 L408.71,441.46 L408.89,441.79 L409.07,442.05 L409.23,442.23 L409.39,442.35 L409.55,442.41 L409.71,442.44 L409.90,442.43 L410.11,442.42 L410.36,442.40 L410.65,442.39 L411.00,442.40 L411.42,442.43 L411.90,442.47 L412.45,442.50 L413.03,442.53 L413.63,442.55 L414.24,442.56 L414.83,442.55 L415.41,442.53 L415.93,442.48 L416.40,442.40 L416.81,442.30 L417.20,442.20 L417.55,442.08 L417.89,441.95 L418.20,441.79 L418.50,441.61 L418.79,441.40 L419.07,441.16 L419.35,440.88 L419.64,440.57 L419.92,440.16 L420.20,439.63 L420.46,439.02 L420.72,438.37 L420.97,437.71 L421.21,437.09 L421.45,436.53 L421.70,436.09 L421.94,435.80 L422.18,435.69 L422.42,435.80 L422.65,436.09 L422.88,436.53 L423.10,437.09 L423.33,437.71 L423.55,438.37 L423.78,439.02 L424.01,439.63 L424.25,440.16 L424.50,440.57 L424.75,440.89 L424.99,441.17 L425.23,441.42 L425.48,441.64 L425.73,441.83 L425.99,441.99 L426.26,442.13 L426.55,442.24 L426.86,442.33 L427.20,442.40 L427.58,442.44 L428.00,442.45 L428.45,442.43 L428.92,442.38 L429.41,442.31 L429.88,442.23 L430.35,442.13 L430.78,442.02 L431.18,441.91 L431.52,441.79 L431.81,441.66 L432.06,441.52 L432.28,441.36 L432.47,441.19 L432.65,441.01 L432.81,440.83 L432.97,440.64 L433.13,440.46 L433.30,440.28 L433.48,440.10 L433.68,439.93 L433.87,439.76 L434.07,439.60 L434.27,439.43 L434.46,439.26 L434.66,439.09 L434.86,438.92 L435.05,438.75 L435.25,438.58 L435.44,438.41 L435.63,438.23 L435.81,438.02 L435.97,437.79 L436.14,437.56 L436.31,437.34 L436.49,437.14 L436.68,436.96 L436.89,436.83 L437.13,436.75 L437.41,436.73 L437.71,436.79 L438.04,436.94 L438.39,437.16 L438.77,437.42 L439.16,437.70 L439.56,437.99 L439.97,438.25 L440.39,438.48 L440.82,438.65 L441.24,438.74 L441.68,438.74 L442.16,438.68 L442.66,438.57 L443.17,438.42 L443.68,438.25 L444.19,438.07 L444.67,437.90 L445.12,437.75 L445.53,437.64 L445.88,437.58 L446.18,437.57 L446.44,437.59 L446.65,437.63 L446.83,437.69 L446.99,437.77 L447.14,437.85 L447.28,437.94 L447.43,438.02 L447.58,438.10 L447.76,438.17 L447.94,438.23 L448.13,438.29 L448.32,438.35 L448.50,438.41 L448.69,438.47 L448.88,438.52 L449.07,438.58 L449.25,438.64 L449.44,438.70 L449.63,438.76 L449.81,438.82 L450.00,438.89 L450.19,438.96 L450.37,439.03 L450.56,439.10 L450.74,439.17 L450.93,439.23 L451.12,439.28 L451.31,439.32 L451.50,439.35 L451.69,439.36 L451.89,439.36 L452.09,439.35 L452.28,439.33 L452.48,439.30 L452.68,439.27 L452.88,439.23 L453.08,439.20 L453.28,439.17 L453.48,439.15 L453.68,439.13 L453.88,439.11 L454.07,439.09 L454.27,439.07 L454.47,439.04 L454.67,439.02 L454.87,439.00 L455.06,438.98 L455.26,438.96 L455.46,438.94 L455.66,438.92 L455.86,438.91 L456.06,438.89 L456.26,438.88 L456.46,438.86 L456.66,438.84 L456.86,438.82 L457.05,438.80 L457.25,438.77 L457.44,438.74 L457.63,438.70 L457.82,438.66 L458.01,438.61 L458.19,438.56 L458.37,438.50 L458.56,438.45 L458.74,438.39 L458.93,438.34 L459.11,438.28 L459.29,438.23 L459.48,438.18 L459.66,438.13 L459.85,438.08 L460.04,438.03 L460.22,437.98 L460.41,437.93 L460.59,437.88 L460.78,437.82 L460.96,437.77 L461.15,437.72 L461.33,437.66 L461.51,437.58 L461.68,437.49 L461.86,437.39 L462.03,437.30 L462.21,437.23 L462.40,437.17 L462.59,437.15 L462.79,437.16 L463.00,437.21 L463.23,437.32 L463.47,437.46 L463.73,437.63 L463.99,437.83 L464.25,438.06 L464.52,438.30 L464.78,438.56 L465.05,438.82 L465.30,439.09 L465.54,439.35 L465.77,439.63 L465.99,439.95 L466.20,440.29 L466.41,440.65 L466.61,441.01 L466.82,441.36 L467.02,441.68 L467.24,441.97 L467.46,442.21 L467.70,442.40 L467.96,442.52 L468.25,442.60 L468.56,442.62 L468.87,442.62 L469.18,442.59 L469.49,442.55 L469.77,442.50 L470.02,442.45 L470.24,442.41 L470.40,442.40" fill="none" stroke="#808080" stroke-width="1.3" stroke-linejoin="round"/>
<path d="M373.20,442.40 L373.31,442.40 L373.45,442.40 L373.62,442.40 L373.80,442.40 L374.00,442.40 L374.21,442.40 L374.43,442.40 L374.64,442.40 L374.84,442.40 L375.04,442.40 L375.22,442.40 L375.40,442.40 L375.59,442.40 L375.77,442.40 L375.95,442.40 L376.14,442.40 L376.32,442.40 L376.50,442.40 L376.69,442.40 L376.87,442.40 L377.06,442.40 L377.24,442.40 L377.42,442.40 L377.61,442.40 L377.79,442.40 L377.97,442.40 L378.16,442.40 L378.34,442.40 L378.52,442.40 L378.71,442.40 L378.89,442.40 L379.08,442.40 L379.26,442.40 L379.44,442.40 L379.63,442.40 L379.81,442.40 L379.99,442.40 L380.18,442.40 L380.36,442.40 L380.54,442.40 L380.73,442.40 L380.91,442.39 L381.09,442.38 L381.28,442.37 L381.46,442.36 L381.65,442.36 L381.83,442.36 L382.01,442.36 L382.20,442.38 L382.38,442.40 L382.56,442.33 L382.73,442.11 L382.89,441.81 L383.06,441.49 L383.22,441.22 L383.40,441.07 L383.58,441.10 L383.77,441.39 L383.98,442.01 L384.22,443.01 L384.48,444.46 L384.77,446.32 L385.08,448.52 L385.41,450.97 L385.74,453.61 L386.07,456.35 L386.40,459.11 L386.71,461.83 L386.99,464.42 L387.24,466.80 L387.46,469.09 L387.66,471.44 L387.83,473.80 L388.00,476.15 L388.15,478.45 L388.29,480.67 L388.43,482.79 L388.57,484.76 L388.71,486.56 L388.86,488.15 L389.01,489.59 L389.16,490.95 L389.30,492.20 L389.44,493.33 L389.58,494.31 L389.72,495.13 L389.86,495.76 L390.01,496.20 L390.16,496.41 L390.32,496.38 L390.48,496.09 L390.64,495.52 L390.80,494.71 L390.97,493.70 L391.14,492.51 L391.31,491.18 L391.50,489.74 L391.69,488.23 L391.89,486.67 L392.10,485.10 L392.33,483.36 L392.58,481.32 L392.84,479.08 L393.11,476.72 L393.39,474.33 L393.67,472.01 L393.94,469.83 L394.21,467.89 L394.46,466.28 L394.69,465.09 L394.91,464.34 L395.11,463.95 L395.31,463.86 L395.50,464.00 L395.68,464.30 L395.86,464.70 L396.03,465.14 L396.21,465.55 L396.39,465.86 L396.58,466.01 L396.77,466.05 L396.95,466.10 L397.14,466.14 L397.32,466.18 L397.50,466.20 L397.69,466.21 L397.88,466.20 L398.08,466.16 L398.30,466.10 L398.53,466.01 L398.76,465.89 L399.01,465.76 L399.26,465.61 L399.52,465.44 L399.78,465.24 L400.06,465.02 L400.35,464.77 L400.65,464.48 L400.96,464.17 L401.28,463.81 L401.63,463.43 L402.01,463.02 L402.41,462.60 L402.82,462.14 L403.24,461.65 L403.65,461.11 L404.06,460.54 L404.44,459.92 L404.80,459.24 L405.11,458.50 L405.40,457.67 L405.65,456.73 L405.89,455.71 L406.10,454.62 L406.30,453.51 L406.49,452.40 L406.67,451.32 L406.85,450.29 L407.03,449.34 L407.22,448.50 L407.40,447.75 L407.58,447.04 L407.74,446.37 L407.90,445.74 L408.06,445.17 L408.21,444.64 L408.37,444.16 L408.54,443.72 L408.71,443.34 L408.89,443.01 L409.07,442.75 L409.23,442.57 L409.39,442.45 L409.55,442.39 L409.71,442.36 L409.90,442.37 L410.11,442.38 L410.36,442.40 L410.65,442.41 L411.00,442.40 L411.42,442.37 L411.90,442.33 L412.45,442.30 L413.03,442.27 L413.63,442.25 L414.24,442.24 L414.83,442.25 L415.41,442.27 L415.93,442.32 L416.40,442.40 L416.81,442.50 L417.20,442.60 L417.55,442.72 L417.89,442.86 L418.20,443.02 L418.50,443.20 L418.79,443.41 L419.07,443.65 L419.35,443.92 L419.64,444.23 L419.92,444.63 L420.20,445.15 L420.46,445.74 L420.72,446.38 L420.97,447.02 L421.21,447.63 L421.45,448.17 L421.70,448.60 L421.94,448.88 L422.18,448.99 L422.42,448.88 L422.65,448.60 L422.88,448.17 L423.10,447.63 L423.33,447.02 L423.55,446.38 L423.78,445.74 L424.01,445.15 L424.25,444.63 L424.50,444.23 L424.75,443.92 L424.99,443.64 L425.23,443.39 L425.48,443.17 L425.73,442.98 L425.99,442.82 L426.26,442.68 L426.55,442.56 L426.86,442.47 L427.20,442.40 L427.58,442.36 L428.00,442.35 L428.45,442.38 L428.92,442.43 L429.41,442.51 L429.88,442.59 L430.35,442.69 L430.78,442.80 L431.18,442.91 L431.52,443.01 L431.81,443.12 L432.06,443.23 L432.28,443.36 L432.47,443.50 L432.65,443.64 L432.81,443.79 L432.97,443.94 L433.13,444.09 L433.30,444.23 L433.48,444.37 L433.68,444.51 L433.87,444.64 L434.07,444.78 L434.27,444.92 L434.46,445.05 L434.66,445.19 L434.86,445.33 L435.05,445.46 L435.25,445.60 L435.44,445.73 L435.63,445.88 L435.81,446.05 L435.97,446.22 L436.14,446.39 L436.31,446.57 L436.49,446.72 L436.68,446.86 L436.89,446.98 L437.13,447.06 L437.41,447.10 L437.71,447.08 L438.04,447.01 L438.39,446.90 L438.77,446.76 L439.16,446.61 L439.56,446.45 L439.97,446.30 L440.39,446.18 L440.82,446.10 L441.24,446.06 L441.68,446.08 L442.16,446.14 L442.66,446.23 L443.17,446.34 L443.68,446.47 L444.19,446.60 L444.67,446.73 L445.12,446.84 L445.53,446.92 L445.88,446.97 L446.18,446.99 L446.44,446.99 L446.65,446.97 L446.83,446.94 L446.99,446.90 L447.14,446.85 L447.28,446.80 L447.43,446.75 L447.58,446.71 L447.76,446.67 L447.94,446.64 L448.13,446.61 L448.32,446.58 L448.50,446.55 L448.69,446.52 L448.88,446.49 L449.07,446.46 L449.25,446.43 L449.44,446.40 L449.63,446.36 L449.81,446.33 L450.00,446.30 L450.19,446.26 L450.37,446.22 L450.56,446.18 L450.74,446.15 L450.93,446.11 L451.12,446.09 L451.31,446.07 L451.50,446.06 L451.69,446.06 L451.89,446.07 L452.09,446.08 L452.28,446.10 L452.48,446.13 L452.68,446.16 L452.88,446.19 L453.08,446.21 L453.28,446.24 L453.48,446.26 L453.68,446.28 L453.88,446.30 L454.07,446.32 L454.27,446.34 L454.47,446.37 L454.67,446.39 L454.87,446.41 L455.06,446.43 L455.26,446.45 L455.46,446.47 L455.66,446.49 L455.86,446.50 L456.06,446.52 L456.26,446.54 L456.46,446.55 L456.66,446.57 L456.86,446.59 L457.05,446.61 L457.25,446.64 L457.44,446.67 L457.63,446.70 L457.82,446.74 L458.01,446.79 L458.19,446.83 L458.37,446.88 L458.56,446.93 L458.74,446.98 L458.93,447.02 L459.11,447.07 L459.29,447.12 L459.48,447.16 L459.66,447.21 L459.85,447.25 L460.04,447.30 L460.22,447.34 L460.41,447.39 L460.59,447.43 L460.78,447.48 L460.96,447.52 L461.15,447.56 L461.33,447.62 L461.51,447.70 L461.68,447.79 L461.86,447.89 L462.03,447.98 L462.21,448.05 L462.40,448.10 L462.59,448.12 L462.79,448.09 L463.00,448.01 L463.23,447.88 L463.47,447.70 L463.73,447.48 L463.99,447.23 L464.25,446.95 L464.52,446.65 L464.78,446.35 L465.05,446.04 L465.30,445.74 L465.54,445.45 L465.77,445.15 L465.99,444.82 L466.20,444.47 L466.41,444.12 L466.61,443.76 L466.82,443.42 L467.02,443.11 L467.24,442.82 L467.46,442.58 L467.70,442.40 L467.96,442.28 L468.25,442.20 L468.56,442.18 L468.87,442.18 L469.18,442.21 L469.49,442.25 L469.77,442.30 L470.02,442.35 L470.24,442.39 L470.40,442.40" fill="none" stroke="#ff8a14" stroke-width="1.3" stroke-linejoin="round"/>
<line x1="281.40" y1="442.40" x2="484.44" y2="442.40" stroke="#2e8b2e" stroke-width="1.3" />
<rect x="281.4" y="381.5" width="215.60000000000002" height="121.80000000000001" fill="none" stroke="#333" stroke-width="1"/>
<text x="276.00" y="505.30" font-size="5.3" text-anchor="end" fill="#222" font-weight="bold" >−1.0</text>
<text x="276.00" y="493.10" font-size="5.3" text-anchor="end" fill="#222" font-weight="bold" >−0.8</text>
<text x="276.00" y="480.90" font-size="5.3" text-anchor="end" fill="#222" font-weight="bold" >−0.6</text>
<text x="276.00" y="468.70" font-size="5.3" text-anchor="end" fill="#222" font-weight="bold" >−0.4</text>
<text x="276.00" y="456.50" font-size="5.3" text-anchor="end" fill="#222" font-weight="bold" >−0.2</text>
<text x="276.00" y="444.30" font-size="5.3" text-anchor="end" fill="#222" font-weight="bold" >0.0</text>
<text x="276.00" y="432.10" font-size="5.3" text-anchor="end" fill="#222" font-weight="bold" >0.2</text>
<text x="276.00" y="419.90" font-size="5.3" text-anchor="end" fill="#222" font-weight="bold" >0.4</text>
<text x="276.00" y="407.70" font-size="5.3" text-anchor="end" fill="#222" font-weight="bold" >0.6</text>
<text x="276.00" y="395.50" font-size="5.3" text-anchor="end" fill="#222" font-weight="bold" >0.8</text>
<text x="276.00" y="383.30" font-size="5.3" text-anchor="end" fill="#222" font-weight="bold" >1.0</text>
<text x="281.40" y="511.20" font-size="5.3" text-anchor="middle" fill="#222" font-weight="bold" >−25</text>
<text x="308.40" y="511.20" font-size="5.3" text-anchor="middle" fill="#222" font-weight="bold" >−20</text>
<text x="335.40" y="511.20" font-size="5.3" text-anchor="middle" fill="#222" font-weight="bold" >−15</text>
<text x="362.40" y="511.20" font-size="5.3" text-anchor="middle" fill="#222" font-weight="bold" >−10</text>
<text x="389.40" y="511.20" font-size="5.3" text-anchor="middle" fill="#222" font-weight="bold" >−5</text>
<text x="416.40" y="511.20" font-size="5.3" text-anchor="middle" fill="#222" font-weight="bold" >0</text>
<text x="443.40" y="511.20" font-size="5.3" text-anchor="middle" fill="#222" font-weight="bold" >5</text>
<text x="470.40" y="511.20" font-size="5.3" text-anchor="middle" fill="#222" font-weight="bold" >10</text>
<text x="497.40" y="511.20" font-size="5.3" text-anchor="middle" fill="#222" font-weight="bold" >15</text>
<text x="389.80" y="520.20" font-size="8.7" text-anchor="middle" fill="#111" font-weight="normal" >Energy (eV)</text>
<text x="263.70" y="442.50" font-size="9.0" text-anchor="middle" fill="#222" font-weight="normal" xml:space="preserve" transform="rotate(-90 263.7 442.5)">Dnesity of state  (a.u.)</text>
<line x1="450.60" y1="389.20" x2="464.30" y2="389.20" stroke="#22c8cc" stroke-width="1.4" />
<text x="466.20" y="391.30" font-size="6.2" text-anchor="start" fill="#333" font-weight="normal" >s-up</text>
<line x1="450.60" y1="397.40" x2="464.30" y2="397.40" stroke="#d2691e" stroke-width="1.4" />
<text x="466.20" y="399.50" font-size="6.2" text-anchor="start" fill="#333" font-weight="normal" >s-down</text>
<line x1="450.60" y1="405.10" x2="464.30" y2="405.10" stroke="#808080" stroke-width="1.4" />
<text x="466.20" y="407.20" font-size="6.2" text-anchor="start" fill="#333" font-weight="normal" >p-up</text>
<line x1="450.60" y1="413.00" x2="464.30" y2="413.00" stroke="#ff8a14" stroke-width="1.4" />
<text x="466.20" y="415.10" font-size="6.2" text-anchor="start" fill="#333" font-weight="normal" >p-down</text>
<line x1="450.60" y1="420.60" x2="464.30" y2="420.60" stroke="#c890f0" stroke-width="1.4" />
<text x="466.20" y="422.70" font-size="6.2" text-anchor="start" fill="#333" font-weight="normal" >d-up</text>
<line x1="450.60" y1="428.20" x2="464.30" y2="428.20" stroke="#2e8b2e" stroke-width="1.4" />
<text x="466.20" y="430.30" font-size="6.2" text-anchor="start" fill="#333" font-weight="normal" >d-down</text>
<rect x="404.2" y="425.9" width="33.5" height="26.900000000000034" fill="none" stroke="#1a1aff" stroke-width="1.5" stroke-dasharray="4,2.6"/>
<line x1="437.70" y1="425.90" x2="507.00" y2="378.30" stroke="#1a1aff" stroke-width="1.5" />
<line x1="437.70" y1="452.80" x2="507.00" y2="504.50" stroke="#1a1aff" stroke-width="1.5" />
<g clip-path="url(#clipEz)">
<rect x="507.0" y="378.3" width="176.89999999999998" height="126.19999999999999" fill="#fff"/>
<line x1="589.00" y1="378.30" x2="589.00" y2="504.50" stroke="#cfcfcf" stroke-width="1" />
<path d="M535.00,365.00 L535.12,365.64 L535.27,366.42 L535.43,367.34 L535.62,368.37 L535.83,369.49 L536.05,370.69 L536.29,371.94 L536.53,373.22 L536.79,374.52 L537.06,375.81 L537.33,377.08 L537.60,378.30 L537.88,379.50 L538.19,380.72 L538.50,381.95 L538.83,383.19 L539.17,384.45 L539.52,385.72 L539.87,387.01 L540.22,388.31 L540.57,389.63 L540.92,390.97 L541.27,392.33 L541.60,393.70 L541.93,395.11 L542.25,396.55 L542.58,398.03 L542.90,399.53 L543.23,401.05 L543.55,402.57 L543.87,404.10 L544.20,405.63 L544.52,407.13 L544.85,408.62 L545.17,410.08 L545.50,411.50 L545.83,412.90 L546.15,414.29 L546.47,415.68 L546.79,417.06 L547.11,418.42 L547.44,419.77 L547.76,421.09 L548.10,422.40 L548.43,423.67 L548.78,424.92 L549.13,426.13 L549.50,427.30 L549.87,428.45 L550.24,429.58 L550.61,430.69 L550.99,431.78 L551.37,432.84 L551.76,433.87 L552.16,434.86 L552.58,435.82 L553.01,436.74 L553.45,437.61 L553.92,438.43 L554.40,439.20 L554.86,439.92 L555.26,440.60 L555.63,441.24 L556.00,441.83 L556.37,442.38 L556.79,442.89 L557.26,443.36 L557.83,443.79 L558.50,444.18 L559.30,444.53 L560.26,444.83 L561.40,445.10 L562.79,445.31 L564.45,445.46 L566.32,445.55 L568.35,445.59 L570.49,445.58 L572.69,445.55 L574.90,445.49 L577.05,445.41 L579.10,445.33 L580.99,445.24 L582.68,445.16 L584.10,445.10 L585.28,445.05 L586.27,444.99 L587.12,444.93 L587.83,444.87 L588.44,444.80 L588.97,444.71 L589.46,444.61 L589.91,444.50 L590.37,444.36 L590.85,444.20 L591.39,444.01 L592.00,443.80 L592.67,443.55 L593.36,443.26 L594.06,442.93 L594.77,442.57 L595.48,442.20 L596.19,441.81 L596.88,441.42 L597.55,441.03 L598.19,440.64 L598.80,440.27 L599.37,439.92 L599.90,439.60 L600.38,439.31 L600.80,439.05 L601.19,438.82 L601.55,438.59 L601.88,438.38 L602.19,438.16 L602.49,437.94 L602.78,437.71 L603.07,437.45 L603.37,437.17 L603.67,436.86 L604.00,436.50 L604.34,436.10 L604.68,435.68 L605.02,435.22 L605.36,434.74 L605.70,434.24 L606.04,433.73 L606.37,433.20 L606.71,432.66 L607.04,432.12 L607.36,431.57 L607.68,431.03 L608.00,430.50 L608.31,429.96 L608.62,429.39 L608.92,428.82 L609.22,428.23 L609.52,427.63 L609.81,427.04 L610.10,426.45 L610.39,425.87 L610.67,425.32 L610.95,424.78 L611.23,424.27 L611.50,423.80 L611.77,423.35 L612.03,422.92 L612.30,422.50 L612.56,422.10 L612.81,421.72 L613.06,421.36 L613.31,421.01 L613.56,420.69 L613.80,420.38 L614.03,420.10 L614.27,419.84 L614.50,419.60 L614.73,419.39 L614.95,419.20 L615.16,419.03 L615.37,418.89 L615.58,418.76 L615.78,418.66 L615.98,418.57 L616.19,418.50 L616.39,418.45 L616.59,418.42 L616.79,418.40 L617.00,418.40 L617.21,418.41 L617.41,418.43 L617.61,418.46 L617.81,418.51 L618.02,418.58 L618.22,418.67 L618.42,418.78 L618.63,418.91 L618.84,419.06 L619.05,419.25 L619.27,419.46 L619.50,419.70 L619.73,419.97 L619.97,420.26 L620.20,420.57 L620.44,420.90 L620.69,421.26 L620.94,421.64 L621.19,422.06 L621.44,422.50 L621.70,422.97 L621.97,423.48 L622.23,424.02 L622.50,424.60 L622.77,425.23 L623.05,425.92 L623.34,426.66 L623.63,427.44 L623.92,428.25 L624.22,429.09 L624.52,429.93 L624.81,430.78 L625.11,431.62 L625.41,432.44 L625.71,433.24 L626.00,434.00 L626.28,434.74 L626.55,435.50 L626.82,436.26 L627.07,437.01 L627.33,437.76 L627.59,438.50 L627.86,439.22 L628.15,439.91 L628.45,440.57 L628.77,441.19 L629.12,441.77 L629.50,442.30 L629.89,442.80 L630.27,443.28 L630.64,443.73 L631.03,444.16 L631.43,444.56 L631.86,444.93 L632.32,445.25 L632.83,445.53 L633.39,445.75 L634.02,445.93 L634.72,446.05 L635.50,446.10 L636.37,446.06 L637.33,445.93 L638.35,445.71 L639.45,445.43 L640.60,445.09 L641.79,444.73 L643.01,444.34 L644.26,443.96 L645.53,443.60 L646.79,443.28 L648.06,443.00 L649.30,442.80 L650.57,442.67 L651.91,442.59 L653.29,442.56 L654.71,442.56 L656.14,442.58 L657.57,442.61 L658.98,442.63 L660.34,442.63 L661.66,442.60 L662.90,442.52 L664.05,442.40 L665.10,442.20 L666.03,441.97 L666.84,441.73 L667.56,441.49 L668.21,441.22 L668.80,440.92 L669.36,440.59 L669.90,440.20 L670.44,439.76 L671.00,439.24 L671.60,438.65 L672.26,437.97 L673.00,437.20 L673.82,436.29 L674.70,435.23 L675.63,434.04 L676.59,432.76 L677.57,431.40 L678.56,430.01 L679.55,428.61 L680.51,427.22 L681.44,425.88 L682.33,424.61 L683.15,423.44 L683.90,422.40 L684.60,421.45 L685.27,420.53 L685.91,419.65 L686.51,418.81 L687.09,418.02 L687.63,417.27 L688.13,416.58 L688.60,415.94 L689.02,415.36 L689.39,414.84 L689.72,414.39 L690.00,414.00" fill="none" stroke="#7f7f7f" stroke-width="1.6" stroke-linejoin="round"/>
<path d="M537.00,520.00 L537.12,519.28 L537.27,518.41 L537.43,517.41 L537.62,516.29 L537.83,515.06 L538.05,513.74 L538.29,512.33 L538.53,510.86 L538.79,509.32 L539.06,507.74 L539.33,506.13 L539.60,504.50 L539.88,502.79 L540.19,500.94 L540.50,498.99 L540.83,496.96 L541.17,494.87 L541.52,492.74 L541.87,490.61 L542.22,488.50 L542.57,486.42 L542.92,484.42 L543.27,482.50 L543.60,480.70 L543.92,478.98 L544.24,477.29 L544.56,475.64 L544.87,474.03 L545.18,472.45 L545.49,470.92 L545.80,469.45 L546.12,468.02 L546.45,466.65 L546.79,465.33 L547.14,464.08 L547.50,462.90 L547.88,461.79 L548.26,460.75 L548.65,459.78 L549.05,458.86 L549.46,458.01 L549.88,457.20 L550.30,456.44 L550.73,455.71 L551.16,455.02 L551.60,454.36 L552.05,453.72 L552.50,453.10 L552.96,452.50 L553.43,451.95 L553.91,451.43 L554.40,450.95 L554.89,450.50 L555.39,450.09 L555.90,449.70 L556.40,449.34 L556.90,449.00 L557.41,448.68 L557.91,448.38 L558.40,448.10 L558.82,447.84 L559.13,447.61 L559.36,447.41 L559.56,447.23 L559.75,447.08 L559.99,446.95 L560.30,446.84 L560.72,446.74 L561.29,446.67 L562.06,446.60 L563.05,446.55 L564.30,446.50 L565.90,446.46 L567.86,446.43 L570.11,446.42 L572.58,446.41 L575.20,446.42 L577.90,446.45 L580.62,446.50 L583.28,446.57 L585.82,446.66 L588.16,446.78 L590.25,446.92 L592.00,447.10 L593.47,447.31 L594.75,447.55 L595.86,447.83 L596.83,448.13 L597.68,448.45 L598.42,448.80 L599.09,449.16 L599.69,449.54 L600.25,449.92 L600.79,450.31 L601.33,450.71 L601.90,451.10 L602.45,451.49 L602.92,451.88 L603.34,452.28 L603.70,452.68 L604.02,453.09 L604.32,453.52 L604.59,453.96 L604.86,454.42 L605.12,454.90 L605.39,455.40 L605.68,455.94 L606.00,456.50 L606.34,457.10 L606.67,457.75 L607.01,458.44 L607.34,459.16 L607.67,459.90 L608.01,460.65 L608.34,461.41 L608.67,462.16 L609.00,462.91 L609.33,463.63 L609.67,464.33 L610.00,465.00 L610.33,465.65 L610.67,466.30 L611.01,466.95 L611.34,467.60 L611.68,468.24 L612.02,468.86 L612.35,469.46 L612.69,470.03 L613.02,470.58 L613.35,471.09 L613.68,471.57 L614.00,472.00 L614.32,472.40 L614.64,472.77 L614.96,473.12 L615.27,473.44 L615.58,473.74 L615.89,474.00 L616.20,474.23 L616.51,474.42 L616.81,474.58 L617.11,474.69 L617.41,474.77 L617.70,474.80 L617.99,474.79 L618.27,474.75 L618.55,474.67 L618.82,474.56 L619.09,474.41 L619.36,474.22 L619.62,473.99 L619.89,473.72 L620.16,473.41 L620.44,473.05 L620.72,472.65 L621.00,472.20 L621.29,471.69 L621.58,471.11 L621.88,470.46 L622.19,469.76 L622.49,469.02 L622.79,468.25 L623.10,467.46 L623.40,466.65 L623.71,465.84 L624.01,465.04 L624.31,464.25 L624.60,463.50 L624.89,462.75 L625.18,461.98 L625.46,461.21 L625.74,460.42 L626.03,459.63 L626.31,458.84 L626.59,458.07 L626.87,457.30 L627.15,456.56 L627.43,455.84 L627.71,455.15 L628.00,454.50 L628.28,453.87 L628.57,453.25 L628.84,452.65 L629.12,452.06 L629.40,451.50 L629.68,450.95 L629.97,450.43 L630.26,449.94 L630.55,449.48 L630.86,449.05 L631.17,448.65 L631.50,448.30 L631.81,447.98 L632.09,447.70 L632.35,447.45 L632.60,447.23 L632.86,447.04 L633.14,446.88 L633.45,446.74 L633.81,446.64 L634.23,446.57 L634.73,446.52 L635.31,446.50 L636.00,446.50 L636.79,446.55 L637.68,446.64 L638.65,446.79 L639.69,446.97 L640.79,447.17 L641.94,447.40 L643.14,447.64 L644.36,447.88 L645.59,448.11 L646.84,448.33 L648.08,448.53 L649.30,448.70 L650.55,448.83 L651.88,448.94 L653.26,449.02 L654.67,449.10 L656.11,449.16 L657.54,449.23 L658.95,449.31 L660.33,449.40 L661.65,449.52 L662.89,449.67 L664.05,449.86 L665.10,450.10 L666.03,450.36 L666.84,450.62 L667.56,450.89 L668.21,451.18 L668.80,451.49 L669.36,451.83 L669.90,452.21 L670.44,452.64 L671.00,453.13 L671.60,453.68 L672.26,454.30 L673.00,455.00 L673.82,455.81 L674.70,456.75 L675.63,457.80 L676.59,458.92 L677.57,460.10 L678.56,461.31 L679.55,462.53 L680.51,463.73 L681.44,464.90 L682.33,465.99 L683.15,467.00 L683.90,467.90 L684.60,468.72 L685.27,469.50 L685.91,470.25 L686.51,470.96 L687.09,471.63 L687.63,472.26 L688.13,472.84 L688.60,473.37 L689.02,473.86 L689.39,474.29 L689.72,474.68 L690.00,475.00" fill="none" stroke="#ff8a14" stroke-width="1.6" stroke-linejoin="round"/>
<path d="M606.00,445.00 L606.90,444.97 L608.00,444.94 L609.27,444.90 L610.70,444.86 L612.27,444.81 L613.94,444.76 L615.70,444.71 L617.52,444.66 L619.38,444.61 L621.27,444.57 L623.15,444.53 L625.00,444.50 L626.83,444.48 L628.65,444.46 L630.48,444.44 L632.33,444.43 L634.23,444.42 L636.19,444.42 L638.22,444.41 L640.33,444.41 L642.55,444.41 L644.90,444.41 L647.37,444.40 L650.00,444.40 L652.94,444.40 L656.26,444.39 L659.88,444.39 L663.70,444.39 L667.63,444.39 L671.56,444.39 L675.41,444.39 L679.07,444.40 L682.46,444.40 L685.47,444.40 L688.02,444.40 L690.00,444.40" fill="none" stroke="#22c8cc" stroke-width="1.3" stroke-linejoin="round"/>
<line x1="507.00" y1="446.10" x2="683.90" y2="446.10" stroke="#0a7a0a" stroke-width="2.1" />
<ellipse cx="578.0" cy="446.2" rx="25.9" ry="39.0" fill="none" stroke="#ff1a1a" stroke-width="1.6" stroke-dasharray="5,3.2"/>
</g>
<rect x="507.0" y="378.3" width="176.89999999999998" height="126.19999999999999" fill="none" stroke="#1a1aff" stroke-width="2"/>
<text x="-1.20" y="568.60" font-size="20" text-anchor="start" fill="#000" font-weight="normal" >f</text>
<line x1="18.10" y1="563.40" x2="683.00" y2="563.40" stroke="#222" stroke-width="1.1" />
<line x1="18.10" y1="606.20" x2="683.00" y2="606.20" stroke="#222" stroke-width="1.1" />
<line x1="18.10" y1="706.60" x2="683.00" y2="706.60" stroke="#222" stroke-width="1.8" />
<text x="112.30" y="591.40" font-size="11.3" text-anchor="middle" fill="#222" font-weight="normal" >Samples</text>
<text x="296.50" y="581.00" font-size="11.3" text-anchor="middle" fill="#222" font-weight="normal" >Total spin quantum number</text>
<text x="296.50" y="602.00" font-size="11.3" text-anchor="middle" fill="#222" font-weight="normal" >(spins)</text>
<text x="534.10" y="581.00" font-size="11.5" text-anchor="middle" fill="#222" font-weight="normal" >spin quantum number per unit volume</text>
<text x="536.0" y="602.0" font-size="11.3" text-anchor="middle" fill="#222">(spins/mm<tspan font-size="7.4" dy="-3.6">3</tspan><tspan dy="3.6">)</tspan></text>
<text x="112.3" y="623.30" font-size="11.3" text-anchor="middle" fill="#222">Bi<tspan font-size="7.4" dy="2.4">1</tspan><tspan dy="-2.4">-CeO</tspan><tspan font-size="7.4" dy="2.4">2</tspan></text>
<text x="296.4" y="622.90" font-size="11.3" text-anchor="middle" fill="#222">9.148 e<tspan font-size="10" dy="-1.2">^</tspan><tspan font-size="7.6" dy="-2.4">12</tspan></text>
<text x="538.0" y="622.90" font-size="11.3" text-anchor="middle" fill="#222">7.280 e<tspan font-size="10" dy="-1.2">^</tspan><tspan font-size="7.6" dy="-2.4">11</tspan></text>
<text x="112.3" y="643.33" font-size="11.3" text-anchor="middle" fill="#222">50% D-Bi<tspan font-size="7.4" dy="2.4">1</tspan><tspan dy="-2.4">-CeO</tspan><tspan font-size="7.4" dy="2.4">2</tspan></text>
<text x="296.4" y="642.93" font-size="11.3" text-anchor="middle" fill="#222">4.576 e<tspan font-size="10" dy="-1.2">^</tspan><tspan font-size="7.6" dy="-2.4">12</tspan></text>
<text x="538.0" y="642.93" font-size="11.3" text-anchor="middle" fill="#222">7.383 e<tspan font-size="10" dy="-1.2">^</tspan><tspan font-size="7.6" dy="-2.4">11</tspan></text>
<text x="112.3" y="663.36" font-size="11.3" text-anchor="middle" fill="#222">70% D-Bi<tspan font-size="7.4" dy="2.4">1</tspan><tspan dy="-2.4">-CeO</tspan><tspan font-size="7.4" dy="2.4">2</tspan></text>
<text x="296.4" y="662.96" font-size="11.3" text-anchor="middle" fill="#222">4.750 e<tspan font-size="10" dy="-1.2">^</tspan><tspan font-size="7.6" dy="-2.4">12</tspan></text>
<text x="538.0" y="662.96" font-size="11.3" text-anchor="middle" fill="#222">7.560 e<tspan font-size="10" dy="-1.2">^</tspan><tspan font-size="7.6" dy="-2.4">11</tspan></text>
<text x="112.3" y="683.39" font-size="11.3" text-anchor="middle" fill="#222">80% D-Bi<tspan font-size="7.4" dy="2.4">1</tspan><tspan dy="-2.4">-CeO</tspan><tspan font-size="7.4" dy="2.4">2</tspan></text>
<text x="296.4" y="682.99" font-size="11.3" text-anchor="middle" fill="#222">2.246 e<tspan font-size="10" dy="-1.2">^</tspan><tspan font-size="7.6" dy="-2.4">13</tspan></text>
<text x="538.0" y="682.99" font-size="11.3" text-anchor="middle" fill="#222">3.575 e<tspan font-size="10" dy="-1.2">^</tspan><tspan font-size="7.6" dy="-2.4">12</tspan></text>
<text x="112.3" y="703.42" font-size="11.3" text-anchor="middle" fill="#222">R-Bi<tspan font-size="7.4" dy="2.4">1</tspan><tspan dy="-2.4">-CeO</tspan><tspan font-size="7.4" dy="2.4">2</tspan></text>
<text x="296.4" y="703.02" font-size="11.3" text-anchor="middle" fill="#222">1.959 e<tspan font-size="10" dy="-1.2">^</tspan><tspan font-size="7.6" dy="-2.4">12</tspan></text>
<text x="538.0" y="703.02" font-size="11.3" text-anchor="middle" fill="#222">7.522 e<tspan font-size="10" dy="-1.2">^</tspan><tspan font-size="7.6" dy="-2.4">11</tspan></text>
</svg></body></html>
